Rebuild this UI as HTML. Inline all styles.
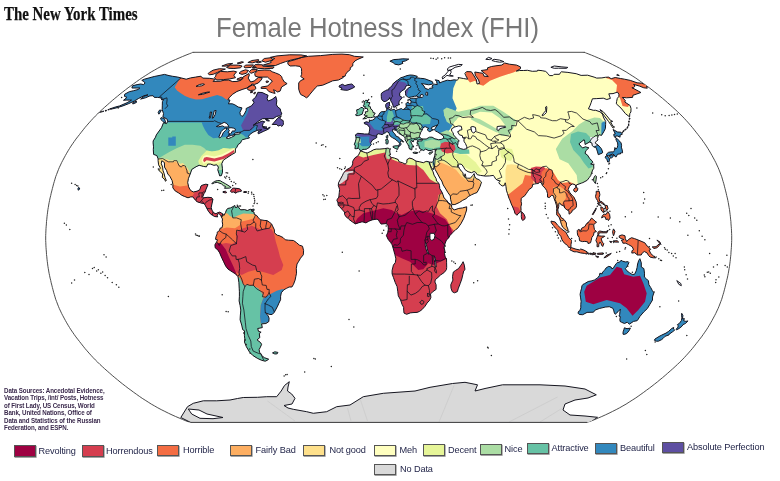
<!DOCTYPE html>
<html lang="en"><head><meta charset="utf-8"><title>Female Hotness Index (FHI)</title>
<style>
html,body{margin:0;padding:0;background:#fff;}
body{width:780px;height:481px;position:relative;overflow:hidden;font-family:"Liberation Sans",sans-serif;}
#logo{position:absolute;left:4px;top:3px;font-family:"Liberation Serif",serif;font-weight:bold;font-size:19.5px;color:#111;white-space:nowrap;line-height:22px;transform-origin:0 0;transform:scaleX(0.765);-webkit-text-stroke:0.25px #111;}
#title{position:absolute;left:215.5px;top:9.8px;font-size:27.6px;line-height:36px;color:#787878;white-space:nowrap;letter-spacing:0;transform-origin:0 0;transform:scaleX(0.932);}
#src{position:absolute;left:4px;top:386.5px;font-size:7.3px;line-height:7.5px;font-weight:bold;color:#3b2a4d;white-space:nowrap;letter-spacing:-0.12px;transform-origin:0 0;transform:scaleX(0.85);}
.lg{position:absolute;font-size:9.2px;line-height:12px;color:#23264a;white-space:nowrap;letter-spacing:-0.12px;}
.sw{position:absolute;width:20px;height:9.5px;border:1px solid #555;box-shadow:0.6px 0.8px 0 #8a8a8a;}
svg{position:absolute;left:0;top:0;}
</style></head><body>
<div id="logo">The New York Times</div>
<div id="title">Female Hotness Index (FHI)</div>
<svg width="780" height="481" viewBox="0 0 780 481">
<defs>
<clipPath id="globe"><path d="M201.1,49.5 L198.4,50.4 L195.5,51.4 L192.4,52.5 L189.3,53.8 L186.0,55.1 L182.6,56.5 L179.1,58.0 L175.6,59.5 L172.0,61.1 L168.4,62.8 L164.8,64.6 L161.2,66.4 L157.8,68.2 L154.5,70.1 L151.3,71.9 L148.2,73.9 L145.2,75.8 L142.2,77.7 L139.3,79.7 L136.5,81.7 L133.7,83.7 L130.9,85.8 L128.1,87.8 L125.4,89.9 L122.7,92.0 L120.0,94.1 L117.4,96.3 L114.8,98.4 L112.2,100.6 L109.7,102.8 L107.2,105.0 L104.7,107.2 L102.3,109.4 L99.9,111.6 L97.6,113.9 L95.3,116.1 L93.1,118.4 L91.0,120.7 L89.0,122.9 L87.0,125.2 L85.0,127.5 L83.2,129.8 L81.3,132.2 L79.5,134.5 L77.7,136.8 L75.9,139.1 L74.2,141.5 L72.6,143.8 L71.0,146.1 L69.5,148.5 L68.1,150.8 L66.7,153.2 L65.4,155.5 L64.1,157.9 L62.8,160.3 L61.6,162.6 L60.5,165.0 L59.4,167.3 L58.4,169.7 L57.5,172.0 L56.6,174.4 L55.7,176.7 L55.0,179.1 L54.3,181.5 L53.6,183.8 L53.0,186.2 L52.4,188.5 L51.8,190.9 L51.2,193.2 L50.7,195.6 L50.1,197.9 L49.6,200.3 L49.1,202.7 L48.7,205.0 L48.3,207.4 L47.9,209.7 L47.6,212.1 L47.3,214.4 L47.0,216.8 L46.8,219.2 L46.5,221.5 L46.4,223.9 L46.2,226.2 L46.0,228.6 L45.9,230.9 L45.8,233.3 L45.7,235.6 L45.7,238.0 L45.7,240.4 L45.8,242.7 L45.9,245.1 L46.0,247.4 L46.2,249.8 L46.4,252.1 L46.5,254.5 L46.8,256.8 L47.0,259.2 L47.3,261.6 L47.6,263.9 L47.9,266.3 L48.3,268.6 L48.7,271.0 L49.1,273.3 L49.6,275.7 L50.1,278.1 L50.7,280.4 L51.2,282.8 L51.8,285.1 L52.4,287.5 L53.0,289.8 L53.6,292.2 L54.3,294.5 L55.0,296.9 L55.7,299.3 L56.6,301.6 L57.5,304.0 L58.4,306.3 L59.4,308.7 L60.5,311.0 L61.6,313.4 L62.8,315.7 L64.1,318.1 L65.4,320.5 L66.7,322.8 L68.1,325.2 L69.5,327.5 L71.0,329.9 L72.6,332.2 L74.2,334.5 L75.9,336.9 L77.7,339.2 L79.5,341.5 L81.3,343.8 L83.2,346.2 L85.0,348.5 L87.0,350.8 L89.0,353.1 L91.0,355.3 L93.1,357.6 L95.3,359.9 L97.6,362.1 L99.9,364.4 L102.3,366.6 L104.7,368.8 L107.2,371.0 L109.7,373.2 L112.2,375.4 L114.8,377.6 L117.4,379.7 L120.0,381.9 L122.7,384.0 L125.4,386.1 L128.1,388.2 L130.9,390.2 L133.7,392.3 L136.5,394.3 L139.3,396.3 L142.2,398.3 L145.2,400.2 L148.2,402.1 L151.3,404.1 L154.5,405.9 L157.8,407.8 L161.2,409.6 L164.8,411.4 L168.4,413.2 L172.0,414.9 L175.6,416.5 L179.1,418.0 L182.6,419.5 L186.0,420.9 L189.3,422.2 L192.4,423.5 L195.5,424.6 L198.4,425.6 L201.1,426.5 L576.3,426.5 L579.0,425.6 L581.9,424.6 L585.0,423.5 L588.1,422.2 L591.4,420.9 L594.8,419.5 L598.3,418.0 L601.8,416.5 L605.4,414.9 L609.0,413.2 L612.6,411.4 L616.2,409.6 L619.6,407.8 L622.9,405.9 L626.1,404.1 L629.2,402.1 L632.2,400.2 L635.2,398.3 L638.1,396.3 L640.9,394.3 L643.7,392.3 L646.5,390.2 L649.3,388.2 L652.0,386.1 L654.7,384.0 L657.4,381.9 L660.0,379.7 L662.6,377.6 L665.2,375.4 L667.7,373.2 L670.2,371.0 L672.7,368.8 L675.1,366.6 L677.5,364.4 L679.8,362.1 L682.1,359.9 L684.3,357.6 L686.4,355.3 L688.4,353.1 L690.4,350.8 L692.4,348.5 L694.2,346.2 L696.1,343.8 L697.9,341.5 L699.7,339.2 L701.5,336.9 L703.2,334.5 L704.8,332.2 L706.4,329.9 L707.9,327.5 L709.3,325.2 L710.7,322.8 L712.0,320.5 L713.3,318.1 L714.6,315.7 L715.8,313.4 L716.9,311.0 L718.0,308.7 L719.0,306.3 L719.9,304.0 L720.8,301.6 L721.7,299.3 L722.4,296.9 L723.1,294.5 L723.8,292.2 L724.4,289.8 L725.0,287.5 L725.6,285.1 L726.2,282.8 L726.7,280.4 L727.3,278.1 L727.8,275.7 L728.3,273.3 L728.7,271.0 L729.1,268.6 L729.5,266.3 L729.8,263.9 L730.1,261.6 L730.4,259.2 L730.6,256.8 L730.9,254.5 L731.0,252.1 L731.2,249.8 L731.4,247.4 L731.5,245.1 L731.6,242.7 L731.7,240.4 L731.7,238.0 L731.7,235.6 L731.6,233.3 L731.5,230.9 L731.4,228.6 L731.2,226.2 L731.0,223.9 L730.9,221.5 L730.6,219.2 L730.4,216.8 L730.1,214.4 L729.8,212.1 L729.5,209.7 L729.1,207.4 L728.7,205.0 L728.3,202.7 L727.8,200.3 L727.3,197.9 L726.7,195.6 L726.2,193.2 L725.6,190.9 L725.0,188.5 L724.4,186.2 L723.8,183.8 L723.1,181.5 L722.4,179.1 L721.7,176.7 L720.8,174.4 L719.9,172.0 L719.0,169.7 L718.0,167.3 L716.9,165.0 L715.8,162.6 L714.6,160.3 L713.3,157.9 L712.0,155.5 L710.7,153.2 L709.3,150.8 L707.9,148.5 L706.4,146.1 L704.8,143.8 L703.2,141.5 L701.5,139.1 L699.7,136.8 L697.9,134.5 L696.1,132.2 L694.2,129.8 L692.4,127.5 L690.4,125.2 L688.4,122.9 L686.4,120.7 L684.3,118.4 L682.1,116.1 L679.8,113.9 L677.5,111.6 L675.1,109.4 L672.7,107.2 L670.2,105.0 L667.7,102.8 L665.2,100.6 L662.6,98.4 L660.0,96.3 L657.4,94.1 L654.7,92.0 L652.0,89.9 L649.3,87.8 L646.5,85.8 L643.7,83.7 L640.9,81.7 L638.1,79.7 L635.2,77.7 L632.2,75.8 L629.2,73.9 L626.1,71.9 L622.9,70.1 L619.6,68.2 L616.2,66.4 L612.6,64.6 L609.0,62.8 L605.4,61.1 L601.8,59.5 L598.3,58.0 L594.8,56.5 L591.4,55.1 L588.1,53.8 L585.0,52.5 L581.9,51.4 L579.0,50.4 L576.3,49.5Z"/></clipPath>
<clipPath id="crop"><rect x="0" y="52.3" width="780" height="370.1"/></clipPath>
<clipPath id="cl-na"><path d="M141.8,80.4 L144.3,79.2 L154.2,76.5 L164.5,74.4 L169.0,75.6 L172.7,76.3 L177.8,77.1 L181.0,77.9 L186.2,79.2 L190.6,77.9 L195.6,77.1 L200.9,76.2 L202.7,78.1 L209.4,78.3 L215.3,79.2 L213.1,81.4 L220.4,81.2 L224.1,80.2 L228.5,80.0 L232.6,81.6 L237.0,81.4 L240.7,80.4 L242.9,77.1 L248.9,73.5 L249.3,75.2 L248.2,78.1 L249.4,80.0 L250.6,82.0 L254.2,81.0 L258.3,77.5 L262.3,77.7 L261.2,80.0 L258.3,83.0 L254.5,84.4 L251.9,84.0 L250.5,86.0 L246.8,88.0 L242.1,89.5 L236.9,91.5 L232.7,94.2 L229.4,97.4 L227.9,99.9 L230.0,100.1 L228.4,103.8 L232.3,103.8 L234.8,104.8 L238.2,107.0 L242.0,107.9 L239.9,112.5 L240.4,114.7 L242.0,116.5 L244.0,114.7 L246.2,110.3 L246.1,108.5 L251.4,105.9 L254.0,102.7 L252.5,99.9 L255.5,97.4 L257.9,92.3 L262.2,92.5 L265.7,94.2 L268.1,95.3 L267.1,98.4 L268.1,101.0 L272.0,99.5 L275.8,96.5 L276.8,100.5 L276.4,104.8 L277.8,107.0 L280.2,108.8 L280.8,111.4 L281.9,114.0 L279.6,115.8 L276.4,116.5 L273.1,118.7 L268.2,118.5 L262.4,118.7 L257.9,121.6 L253.1,125.4 L256.3,123.6 L262.2,121.1 L264.8,121.8 L263.0,123.6 L262.5,125.9 L263.2,127.7 L267.2,128.6 L270.2,127.0 L268.7,129.0 L263.7,131.3 L258.3,133.8 L258.0,132.0 L261.7,129.7 L257.2,130.4 L253.1,132.2 L249.8,134.5 L248.5,136.5 L249.5,137.9 L246.6,138.6 L242.4,139.7 L241.6,140.6 L240.5,142.9 L238.2,144.5 L236.7,147.5 L235.4,148.9 L235.3,152.6 L232.1,154.4 L229.9,155.8 L226.7,157.9 L223.3,160.2 L221.8,163.7 L222.4,168.3 L222.5,172.2 L221.4,175.6 L219.7,175.9 L219.0,173.6 L217.8,169.9 L218.4,167.1 L216.7,164.8 L213.9,165.3 L210.5,164.1 L207.8,164.1 L206.4,166.9 L203.5,166.4 L199.2,165.3 L196.1,166.7 L191.8,169.4 L190.2,174.0 L188.4,178.6 L187.7,182.6 L188.6,186.7 L190.0,189.7 L191.7,191.1 L193.5,192.0 L197.3,191.1 L199.8,189.7 L201.0,186.0 L201.9,185.3 L205.8,184.2 L208.0,184.6 L206.1,189.0 L205.1,192.0 L204.0,193.6 L202.6,197.1 L203.6,197.8 L207.8,197.3 L211.6,197.6 L212.9,199.4 L211.9,204.0 L211.2,207.5 L212.0,210.2 L213.7,212.8 L215.9,213.7 L218.1,212.6 L219.8,212.1 L222.8,213.9 L221.6,217.4 L220.6,215.1 L218.8,213.5 L217.0,215.1 L217.7,216.9 L214.5,216.5 L212.2,215.1 L210.8,214.2 L208.5,211.4 L207.1,208.9 L205.2,205.2 L204.2,203.6 L200.6,202.9 L197.0,201.7 L195.6,200.3 L192.8,196.9 L190.6,196.9 L188.0,197.8 L184.4,196.4 L181.9,195.3 L178.3,192.7 L175.4,191.1 L172.9,187.9 L172.9,184.4 L172.1,180.5 L169.9,176.3 L167.8,174.0 L166.6,170.6 L164.5,167.1 L164.4,162.5 L161.8,160.7 L161.3,163.7 L162.6,167.1 L163.0,170.6 L164.1,173.6 L165.0,177.5 L166.3,180.5 L165.3,181.2 L165.0,179.8 L162.3,177.3 L162.6,174.0 L160.0,171.3 L158.5,169.9 L160.5,168.3 L158.6,164.8 L158.1,160.7 L158.1,158.8 L156.9,155.6 L153.6,154.4 L153.3,149.6 L153.5,146.8 L153.1,142.9 L153.2,140.9 L155.5,137.2 L156.3,134.9 L161.5,127.7 L163.5,122.7 L166.6,123.6 L167.6,121.4 L167.1,119.1 L162.9,116.9 L163.5,113.6 L162.2,109.6 L162.3,105.9 L162.4,101.6 L163.7,99.5 L161.7,99.9 L160.8,97.8 L157.4,97.4 L154.3,97.4 L153.1,95.7 L149.9,95.9 L145.5,97.8 L140.6,99.1 L144.1,96.3 L148.0,94.8 L144.0,95.7 L138.7,98.4 L134.4,101.0 L128.3,103.8 L122.9,105.9 L117.1,107.7 L112.7,108.8 L109.6,109.0 L115.4,107.0 L119.7,105.9 L127.1,102.7 L131.5,100.1 L129.2,100.1 L126.1,100.1 L123.5,100.3 L127.0,97.4 L124.4,96.3 L124.7,94.2 L129.3,91.7 L133.6,90.7 L138.0,89.5 L139.9,88.0 L136.9,88.0 L131.9,88.0 L132.5,85.8 L137.1,84.6 L140.8,84.0 L143.6,84.6 L145.0,83.0 L144.1,81.6Z"/></clipPath>
<clipPath id="cl-greenland"><path d="M287.9,61.7 L296.4,59.3 L301.7,57.4 L308.6,56.3 L320.6,55.6 L332.8,54.4 L341.9,54.1 L349.4,54.7 L354.4,56.3 L363.3,57.0 L357.9,59.3 L355.0,60.9 L352.9,63.4 L352.7,66.0 L350.2,67.8 L350.3,69.6 L346.9,72.4 L345.7,74.3 L345.1,76.2 L342.3,76.7 L343.4,77.5 L338.5,80.0 L332.7,80.8 L327.8,83.0 L322.7,85.2 L317.4,86.0 L315.2,88.0 L312.6,91.1 L310.0,94.2 L307.9,96.9 L306.4,97.8 L304.0,96.1 L300.8,94.6 L299.6,92.1 L298.7,89.0 L298.7,86.0 L298.7,83.0 L300.6,80.6 L304.2,79.0 L300.7,76.5 L301.7,74.3 L301.6,71.4 L301.5,68.7 L300.0,66.4 L295.3,65.8 L290.1,66.0 L287.9,64.2Z"/></clipPath>
<clipPath id="cl-baffin"><path d="M287.1,83.6 L281.6,87.0 L280.1,91.1 L277.3,92.1 L276.4,91.1 L273.5,89.7 L275.1,93.4 L272.5,92.8 L268.8,91.5 L266.2,88.4 L261.1,88.4 L261.3,87.0 L267.7,86.0 L269.7,84.0 L272.4,81.0 L269.6,79.0 L267.5,77.1 L262.7,77.1 L258.6,77.1 L255.3,76.2 L254.7,73.7 L257.7,70.5 L264.7,70.0 L269.8,70.2 L272.3,71.8 L275.4,72.9 L279.5,74.6 L281.6,76.5 L282.3,78.7 L284.4,82.0Z"/></clipPath>
<clipPath id="cl-victoria"><path d="M214.4,77.5 L216.6,80.0 L223.3,79.6 L229.4,79.0 L235.5,77.7 L233.8,75.2 L236.6,71.8 L233.5,71.1 L227.4,71.8 L220.5,71.4 L215.9,74.3 L215.8,76.2Z"/></clipPath>
<clipPath id="cl-banks"><path d="M208.1,73.5 L209.2,74.8 L213.2,74.3 L217.4,72.4 L222.1,70.2 L225.4,69.1 L219.4,68.7 L213.0,70.2 L209.5,72.4Z"/></clipPath>
<clipPath id="cl-ellesmere"><path d="M263.3,65.1 L275.3,65.6 L280.7,63.4 L285.5,61.7 L290.8,60.1 L299.9,58.0 L306.7,55.9 L300.9,54.9 L289.8,54.8 L277.0,55.9 L270.5,57.3 L274.8,58.5 L270.7,60.9 L271.2,62.5Z"/></clipPath>
<clipPath id="cl-devon"><path d="M255.2,64.6 L262.5,64.8 L262.8,66.2 L274.1,66.9 L273.1,68.3 L264.7,68.7 L257.3,68.3 L253.1,66.9Z"/></clipPath>
<clipPath id="cl-axel"><path d="M264.3,58.5 L271.1,57.7 L272.9,60.1 L265.5,62.2 L261.7,60.9Z"/></clipPath>
<clipPath id="cl-melville"><path d="M226.5,67.3 L230.7,65.1 L238.2,65.1 L242.1,66.0 L240.5,67.8 L233.9,68.5 L228.9,68.3Z"/></clipPath>
<clipPath id="cl-pow"><path d="M241.0,71.4 L245.4,69.8 L248.5,70.5 L246.4,73.3 L242.0,74.4 L239.0,73.3Z"/></clipPath>
<clipPath id="cl-somerset"><path d="M251.4,69.6 L257.3,69.6 L256.1,71.4 L251.1,73.3 L249.2,71.8Z"/></clipPath>
<clipPath id="cl-bathurst"><path d="M245.8,65.1 L253.5,64.9 L251.2,67.4 L245.0,67.8 L243.8,66.7Z"/></clipPath>
<clipPath id="cl-kingwilliam"><path d="M237.0,79.0 L241.3,77.3 L243.2,78.3 L241.2,79.8 L237.5,80.0Z"/></clipPath>
<clipPath id="cl-southampton"><path d="M248.7,86.4 L252.6,85.0 L254.9,85.8 L256.0,88.4 L254.2,90.1 L250.2,90.5 L247.8,89.7 L247.2,88.4Z"/></clipPath>
<clipPath id="cl-newfoundland"><path d="M272.2,124.5 L274.4,122.0 L277.8,118.0 L281.4,115.8 L279.9,118.0 L280.6,119.3 L283.1,120.5 L283.4,122.5 L283.3,124.7 L281.7,126.5 L280.6,125.2 L278.1,126.1 L276.9,124.5Z"/></clipPath>
<clipPath id="cl-vancouver"><path d="M161.1,117.6 L164.3,118.5 L165.0,120.2 L165.7,122.7 L163.8,122.3 L162.0,120.5 L160.5,119.1Z"/></clipPath>
<clipPath id="cl-haida"><path d="M159.5,110.1 L161.4,110.3 L158.9,114.2 L158.2,112.5Z"/></clipPath>
<clipPath id="cl-kodiak"><path d="M132.8,102.5 L136.5,101.2 L136.4,102.5 L132.8,104.0Z"/></clipPath>
<clipPath id="cl-cuba"><path d="M211.7,183.5 L214.6,181.4 L217.5,180.5 L220.2,180.7 L222.8,182.3 L225.4,183.7 L228.0,185.3 L231.2,187.4 L229.6,188.1 L224.5,188.3 L225.7,186.5 L223.3,185.6 L221.7,184.0 L219.0,183.0 L217.2,182.3 L214.4,182.8 L212.8,183.7Z"/></clipPath>
<clipPath id="cl-hispaniola"><path d="M230.4,191.1 L232.6,188.3 L233.7,188.1 L235.7,188.3 L238.9,188.6 L240.7,189.5 L241.6,191.1 L239.5,191.6 L237.6,192.0 L235.4,193.2 L233.8,192.0 L231.4,192.3Z"/></clipPath>
<clipPath id="cl-jamaica"><path d="M223.0,191.6 L225.5,191.3 L226.8,192.5 L225.3,192.9 L222.9,192.3Z"/></clipPath>
<clipPath id="cl-puertorico"><path d="M243.8,191.6 L246.6,191.6 L246.5,192.5 L243.7,192.5Z"/></clipPath>
<clipPath id="cl-princepatrick"><path d="M221.9,66.0 L227.5,63.9 L232.6,63.4 L228.3,65.5 L224.8,66.2Z"/></clipPath>
<clipPath id="cl-ellef"><path d="M247.9,62.5 L251.9,60.5 L258.6,59.6 L258.2,61.2 L252.4,62.9Z"/></clipPath>
<clipPath id="cl-amund"><path d="M256.5,62.5 L260.1,61.2 L261.4,62.0 L258.5,62.9Z"/></clipPath>
<clipPath id="cl-cornwallis"><path d="M252.1,67.8 L255.2,66.7 L256.3,67.4 L254.1,68.3Z"/></clipPath>
<clipPath id="cl-mackenzieking"><path d="M237.2,63.2 L241.8,61.7 L243.5,62.2 L239.8,63.6Z"/></clipPath>
<clipPath id="cl-coats"><path d="M250.7,91.5 L252.6,91.3 L252.7,92.3 L250.5,92.8Z"/></clipPath>
<clipPath id="cl-mansel"><path d="M254.5,92.3 L255.6,92.3 L254.7,94.0 L253.7,93.8Z"/></clipPath>
<clipPath id="cl-anticosti"><path d="M265.4,119.3 L268.5,119.8 L269.4,121.1 L266.6,120.7Z"/></clipPath>
<clipPath id="cl-pei"><path d="M263.0,126.5 L265.2,126.8 L266.9,127.0 L265.6,128.1 L263.5,127.9Z"/></clipPath>
<clipPath id="cl-princecharles"><path d="M266.0,81.2 L268.2,81.0 L268.5,82.0 L266.4,82.6Z"/></clipPath>
<clipPath id="cl-sa"><path d="M222.8,213.9 L223.8,215.5 L225.5,212.6 L226.6,209.6 L228.0,208.4 L230.5,207.9 L233.1,206.6 L234.8,205.4 L235.3,207.5 L237.2,207.2 L237.6,205.9 L239.9,209.1 L240.8,209.8 L244.6,209.6 L247.4,210.5 L250.3,209.3 L252.2,209.6 L251.2,210.9 L254.0,212.1 L254.3,214.4 L256.7,215.5 L258.5,217.9 L260.3,219.7 L264.1,220.4 L267.0,220.6 L269.8,222.5 L271.6,223.9 L272.5,225.9 L274.4,229.8 L274.4,232.8 L277.2,235.2 L279.1,235.6 L283.0,237.5 L285.3,239.8 L288.7,240.2 L293.5,240.5 L296.4,242.5 L299.3,245.1 L302.5,246.2 L303.6,250.6 L303.3,254.8 L300.5,258.2 L298.8,261.2 L297.0,264.0 L296.3,268.6 L296.5,273.2 L295.8,276.7 L295.1,280.1 L293.5,284.3 L291.9,287.0 L289.1,287.0 L286.4,288.4 L283.8,289.8 L281.3,292.8 L280.6,296.3 L280.6,299.7 L278.9,303.2 L277.6,306.2 L275.5,310.1 L274.2,312.4 L272.1,314.5 L269.7,314.5 L266.2,313.1 L265.3,312.4 L268.2,315.9 L269.1,318.2 L268.8,321.6 L265.9,323.5 L261.6,323.9 L262.3,327.6 L257.7,328.5 L258.5,331.3 L261.1,332.2 L259.3,333.5 L259.8,337.6 L257.1,339.9 L260.6,342.6 L261.6,344.4 L260.1,347.8 L259.1,349.5 L259.5,352.2 L261.3,354.2 L261.7,355.5 L264.4,357.7 L268.7,359.2 L267.2,360.3 L265.2,361.2 L261.6,360.3 L257.5,358.4 L252.9,355.5 L249.6,352.2 L246.3,346.6 L244.5,342.1 L244.8,338.8 L244.4,335.4 L244.5,330.8 L242.7,329.7 L241.7,325.1 L240.1,319.8 L240.3,315.9 L240.8,310.1 L240.1,305.5 L239.1,300.9 L239.4,296.3 L239.4,291.7 L239.2,288.2 L238.9,282.4 L238.0,276.7 L235.5,273.9 L232.5,272.1 L228.0,269.1 L225.7,266.1 L223.6,261.7 L221.4,257.1 L219.7,252.9 L217.8,249.9 L215.2,247.8 L214.9,244.8 L216.7,241.8 L217.5,239.8 L215.5,239.3 L216.1,236.3 L217.2,233.8 L217.2,232.2 L219.5,230.5 L220.1,228.2 L222.0,227.8 L222.7,224.8 L222.2,221.3 L222.5,219.0 L221.6,217.4Z"/></clipPath>
<clipPath id="cl-falklands"><path d="M272.5,352.9 L274.8,351.8 L277.9,352.4 L277.2,353.8 L274.9,354.0Z"/></clipPath>
<clipPath id="cl-trinidad"><path d="M252.4,209.3 L254.1,209.1 L254.0,210.7 L252.3,210.7Z"/></clipPath>
<clipPath id="cl-africa"><path d="M360.2,151.4 L361.3,151.2 L365.4,152.6 L367.2,153.0 L370.8,151.4 L373.5,149.8 L376.2,149.1 L379.8,149.1 L384.2,148.7 L388.3,148.0 L389.2,149.1 L390.5,148.7 L389.8,150.1 L389.8,152.1 L390.5,154.9 L388.9,155.1 L390.0,156.5 L391.4,157.4 L394.5,158.1 L398.1,159.5 L399.1,161.8 L402.4,162.7 L405.1,164.1 L406.9,162.5 L406.9,159.7 L409.5,158.1 L412.3,158.8 L416.0,161.1 L419.7,161.8 L423.4,162.7 L425.1,161.8 L426.9,161.3 L429.3,162.0 L430.0,164.8 L431.4,168.7 L433.0,171.7 L434.1,175.2 L436.1,178.6 L436.5,181.0 L438.9,183.3 L439.5,185.6 L439.8,188.6 L442.2,192.5 L444.1,198.0 L446.3,199.9 L448.6,202.9 L451.3,204.7 L451.8,207.5 L454.1,210.0 L458.8,208.4 L462.6,207.9 L466.7,206.8 L466.6,210.0 L465.6,213.2 L463.8,218.3 L461.0,223.6 L457.3,228.7 L455.9,229.4 L452.5,232.8 L449.7,235.8 L448.7,237.9 L446.4,240.0 L445.2,243.2 L443.9,247.8 L444.8,250.1 L444.5,253.6 L445.2,257.1 L446.5,258.4 L446.6,262.8 L446.7,267.4 L446.4,269.7 L444.2,272.5 L440.4,275.1 L438.0,277.4 L435.3,279.7 L434.9,282.0 L436.1,284.7 L436.1,289.4 L432.3,292.1 L430.5,294.0 L430.9,297.4 L429.6,300.4 L427.1,303.0 L425.1,306.2 L421.9,309.7 L419.4,311.5 L417.0,312.4 L413.0,312.6 L410.3,312.9 L406.7,314.3 L404.0,313.1 L403.7,310.1 L403.6,307.3 L402.0,304.3 L400.6,300.0 L398.3,295.8 L397.8,291.7 L397.1,286.6 L395.2,282.4 L393.4,277.4 L392.1,273.9 L392.1,270.4 L393.4,265.1 L395.3,262.6 L395.9,258.9 L394.8,254.3 L393.1,248.1 L392.1,244.8 L390.6,242.5 L388.1,239.3 L386.4,235.6 L387.7,232.8 L388.3,229.4 L388.1,225.9 L387.7,224.8 L386.0,223.6 L383.0,223.9 L381.1,224.1 L379.2,221.3 L378.2,219.5 L376.2,219.2 L372.0,219.9 L368.7,221.3 L365.9,222.9 L363.6,222.2 L362.1,221.8 L358.3,222.9 L355.4,223.9 L352.5,222.0 L349.1,219.5 L347.8,218.1 L345.9,216.7 L344.6,214.4 L344.5,212.1 L343.2,210.7 L341.3,208.6 L339.8,206.8 L338.2,205.4 L338.0,202.9 L336.8,200.1 L338.8,197.1 L339.3,192.5 L339.6,189.5 L339.1,187.9 L338.3,185.6 L338.5,182.8 L340.4,179.3 L342.6,175.2 L343.4,173.3 L345.6,170.6 L346.5,169.7 L349.2,168.3 L351.7,166.4 L352.7,163.9 L352.7,161.3 L354.8,157.9 L356.9,156.5 L358.4,155.4 L359.6,152.8Z"/></clipPath>
<clipPath id="cl-madagascar"><path d="M463.1,261.7 L464.3,265.1 L465.0,269.7 L463.7,270.9 L462.9,274.4 L461.8,279.0 L460.2,283.6 L458.4,288.2 L457.3,291.7 L454.4,292.8 L452.3,291.7 L451.0,288.2 L450.8,284.7 L452.9,280.1 L452.5,276.7 L453.3,272.1 L455.6,270.4 L458.5,268.6 L460.5,265.8 L462.1,263.5Z"/></clipPath>
<clipPath id="cl-srilanka"><path d="M521.1,211.6 L522.1,212.1 L524.1,214.4 L525.2,217.2 L524.7,219.2 L522.8,220.4 L521.8,219.5 L521.3,216.7 L521.4,214.2Z"/></clipPath>
<clipPath id="cl-eurasia"><path d="M410.1,75.0 L413.1,75.2 L417.3,76.3 L416.2,77.7 L420.4,78.3 L424.6,78.7 L432.3,81.6 L433.1,83.4 L432.9,84.0 L428.8,84.8 L424.3,84.0 L421.4,83.6 L424.0,86.0 L425.0,88.2 L428.3,89.5 L429.5,88.4 L433.0,87.8 L431.9,86.0 L434.3,84.2 L437.3,84.6 L436.5,81.4 L435.3,79.8 L439.0,80.6 L439.7,83.0 L442.2,81.8 L447.3,80.2 L450.2,80.6 L454.1,79.8 L457.1,80.2 L458.6,78.9 L458.0,77.5 L463.3,78.5 L467.5,79.2 L467.2,78.1 L465.7,75.6 L464.9,73.3 L466.6,71.6 L471.4,71.8 L473.1,74.3 L476.5,80.0 L477.0,84.0 L479.6,83.4 L478.6,80.0 L475.3,75.2 L474.8,72.0 L479.2,72.7 L482.9,73.3 L484.0,76.2 L488.3,76.5 L485.3,73.9 L481.1,70.5 L487.6,69.6 L487.5,67.8 L491.5,66.5 L495.9,65.8 L501.6,65.1 L504.7,63.0 L509.4,64.2 L516.6,65.1 L520.5,66.9 L520.5,68.7 L516.3,71.1 L519.7,70.5 L523.7,70.5 L527.4,70.3 L532.3,71.3 L537.4,71.1 L537.7,70.2 L542.2,70.7 L545.7,71.4 L548.1,73.7 L549.4,75.6 L552.8,75.6 L554.1,74.3 L559.5,74.3 L560.6,72.4 L561.3,71.8 L567.9,72.4 L576.2,73.7 L581.1,75.4 L587.6,75.2 L594.1,77.1 L596.7,78.1 L601.9,77.9 L605.3,77.3 L608.5,77.1 L611.2,78.7 L615.2,77.5 L620.6,78.5 L624.5,79.2 L630.3,80.4 L637.1,82.8 L641.6,83.2 L646.7,84.8 L646.5,86.0 L647.3,88.2 L643.8,87.8 L639.3,86.0 L633.6,84.4 L634.9,86.0 L634.5,86.8 L633.2,88.0 L631.9,87.6 L638.4,91.1 L640.9,92.5 L636.2,94.2 L632.9,95.3 L632.6,97.4 L626.5,97.8 L622.3,97.4 L625.3,100.5 L624.8,102.0 L629.0,104.8 L630.1,105.5 L631.0,108.5 L630.9,112.0 L629.8,113.6 L629.6,116.9 L625.4,113.6 L621.0,108.1 L616.3,103.8 L616.6,101.6 L617.3,98.4 L618.9,96.3 L618.9,94.2 L617.4,92.1 L613.0,93.6 L608.8,93.8 L610.4,98.4 L606.8,99.5 L603.3,98.2 L596.8,98.6 L592.4,98.8 L591.1,102.7 L589.9,105.9 L588.4,108.8 L593.3,110.3 L595.7,110.3 L600.1,111.8 L602.4,114.2 L603.8,118.0 L605.7,121.4 L605.6,124.7 L605.4,128.6 L603.8,131.7 L601.5,135.4 L599.2,134.7 L598.1,136.5 L597.4,138.6 L598.0,139.9 L595.3,142.2 L595.7,143.6 L598.1,145.0 L601.4,148.7 L602.7,152.1 L602.4,153.0 L600.0,154.0 L598.3,154.7 L597.5,151.9 L596.6,149.1 L595.8,147.3 L593.8,147.1 L592.1,145.2 L592.0,143.2 L589.7,142.0 L587.0,143.4 L585.1,144.5 L584.7,141.1 L584.1,139.7 L581.1,142.0 L578.9,143.8 L580.7,146.1 L582.6,148.0 L585.4,146.8 L588.9,147.8 L586.8,149.8 L585.9,150.7 L585.0,153.3 L587.5,155.1 L589.7,158.6 L592.3,161.1 L592.8,162.7 L590.6,163.9 L593.7,165.0 L593.8,168.3 L592.6,170.1 L591.5,173.3 L590.7,175.6 L589.3,177.5 L587.2,180.3 L582.9,182.6 L581.7,183.0 L579.0,184.0 L576.4,184.9 L576.1,187.2 L575.0,184.6 L572.5,184.0 L570.8,184.9 L569.5,186.3 L568.2,189.5 L570.0,192.9 L572.6,195.9 L573.9,197.1 L576.1,201.7 L576.6,205.2 L576.2,207.5 L573.6,209.8 L572.3,210.2 L571.8,212.1 L569.1,214.2 L568.9,210.9 L566.9,209.8 L564.9,208.2 L563.8,205.9 L560.9,204.7 L559.8,202.9 L558.9,203.3 L558.7,206.8 L557.8,209.8 L558.2,212.8 L560.0,214.6 L560.9,217.4 L563.2,218.8 L564.6,220.2 L566.4,222.9 L566.5,225.9 L567.8,228.9 L568.2,230.8 L566.7,230.8 L564.3,228.7 L562.6,227.1 L561.4,224.3 L560.5,221.3 L559.8,219.0 L558.8,216.7 L556.8,215.1 L556.6,211.4 L556.8,208.6 L556.4,205.2 L555.3,201.7 L554.0,198.3 L553.6,195.9 L551.5,195.3 L549.4,197.6 L547.5,197.1 L547.5,193.6 L546.6,190.4 L545.0,188.1 L542.5,185.6 L541.2,182.6 L539.3,182.1 L538.5,183.5 L536.1,183.7 L534.6,184.0 L532.5,184.6 L532.3,186.7 L531.3,188.1 L529.2,189.3 L527.6,191.6 L526.4,193.4 L524.8,195.7 L522.8,197.1 L521.2,198.3 L521.1,201.7 L521.6,203.8 L520.9,206.8 L521.1,210.2 L519.7,212.6 L518.2,213.7 L516.9,215.3 L514.9,213.2 L514.3,210.9 L512.7,207.0 L511.3,204.0 L509.8,199.9 L509.0,198.3 L507.5,193.6 L506.4,190.2 L506.0,186.7 L505.6,184.4 L505.2,182.8 L504.5,185.3 L502.7,186.0 L500.8,185.1 L498.7,182.6 L500.4,181.0 L497.5,180.3 L495.6,178.9 L494.4,176.8 L493.4,175.4 L489.7,175.9 L485.1,176.1 L484.1,175.9 L480.4,175.4 L477.2,174.7 L475.5,172.2 L474.1,171.5 L471.5,172.7 L468.0,171.7 L465.1,169.7 L463.6,167.1 L461.9,164.6 L459.8,163.9 L458.2,165.0 L458.4,166.4 L459.5,168.5 L461.2,171.0 L463.0,172.7 L463.2,175.2 L464.4,176.8 L464.9,174.3 L465.1,173.8 L465.8,176.3 L465.4,177.7 L467.6,178.2 L470.4,178.2 L472.6,175.6 L474.1,173.6 L474.7,176.3 L476.0,178.6 L478.9,179.6 L481.5,182.1 L480.0,186.7 L478.3,190.2 L477.0,192.5 L474.2,193.6 L471.5,194.8 L468.2,196.6 L466.0,198.7 L462.7,200.3 L459.6,202.4 L454.9,204.5 L452.1,204.7 L451.5,202.9 L450.6,199.4 L450.3,195.9 L447.9,192.5 L445.8,189.0 L443.2,184.9 L441.8,181.0 L439.8,178.0 L437.7,174.0 L435.1,169.4 L434.3,166.0 L433.4,169.4 L433.3,169.9 L431.5,167.6 L430.1,165.0 L429.3,162.0 L432.1,162.3 L433.3,161.1 L433.7,159.0 L434.0,157.9 L434.7,155.8 L435.2,152.8 L435.2,150.5 L435.4,149.1 L433.3,149.6 L431.6,150.3 L428.9,150.7 L425.6,149.1 L423.6,150.5 L421.2,149.4 L419.5,148.4 L418.8,145.5 L417.2,143.4 L417.1,141.8 L419.4,140.9 L422.0,140.9 L422.4,139.0 L421.0,139.3 L419.3,139.5 L417.6,140.6 L416.7,139.7 L414.0,139.7 L412.9,140.9 L413.8,141.3 L413.3,141.8 L412.0,141.3 L411.3,140.4 L410.8,141.8 L411.6,143.4 L411.7,144.3 L413.5,145.9 L413.6,147.1 L412.1,146.6 L412.0,147.8 L411.9,149.8 L410.8,149.8 L410.3,148.7 L409.6,149.1 L408.8,147.1 L409.1,145.7 L408.2,145.5 L407.8,144.1 L406.6,142.7 L406.1,141.1 L405.1,139.9 L405.1,138.1 L404.7,137.2 L403.4,136.1 L400.8,134.5 L399.0,133.6 L397.6,132.2 L396.4,129.9 L394.8,130.4 L395.0,128.8 L392.6,129.5 L392.8,132.0 L394.7,133.6 L396.0,136.1 L399.1,137.4 L399.2,138.6 L400.9,139.3 L403.6,141.6 L403.3,142.2 L401.0,140.6 L400.3,142.5 L401.2,144.1 L400.2,145.5 L399.3,146.4 L398.7,146.5 L399.1,145.0 L399.5,143.4 L398.5,141.8 L397.3,141.1 L396.2,139.9 L395.0,139.0 L393.1,138.1 L392.5,137.7 L390.4,136.3 L389.6,134.9 L389.0,132.9 L387.8,132.0 L386.8,131.7 L385.3,132.9 L384.1,133.3 L382.1,134.7 L380.6,134.2 L378.4,133.8 L376.8,134.7 L376.7,136.3 L376.9,137.4 L375.1,138.6 L372.6,139.9 L371.1,142.2 L370.6,143.2 L371.4,144.5 L369.9,146.1 L369.5,147.3 L367.7,148.4 L366.8,149.1 L364.6,149.4 L363.0,149.4 L361.3,150.7 L360.1,150.5 L359.5,149.1 L358.4,148.2 L356.6,148.7 L354.9,148.7 L355.4,145.5 L354.2,144.8 L355.3,141.8 L356.1,139.0 L355.9,136.7 L355.4,134.9 L357.7,133.3 L361.1,133.6 L364.6,134.0 L368.0,134.0 L368.9,133.8 L369.3,131.5 L369.8,129.0 L369.7,127.7 L368.1,125.4 L366.9,124.5 L364.5,123.8 L364.1,122.7 L366.2,121.8 L368.7,122.3 L369.5,122.0 L369.3,119.8 L370.1,120.5 L372.3,120.2 L374.7,118.9 L374.9,117.3 L376.4,116.7 L378.2,116.0 L378.9,114.7 L380.1,112.7 L381.3,111.8 L383.9,111.6 L385.6,111.2 L386.5,110.5 L386.9,110.1 L386.6,108.5 L385.8,107.0 L385.7,104.6 L386.5,103.5 L388.5,102.5 L389.6,102.3 L389.3,104.8 L390.1,105.1 L389.0,106.4 L388.2,107.2 L388.1,108.3 L388.7,109.2 L390.3,109.4 L390.3,110.3 L392.2,109.8 L394.3,109.2 L395.6,110.5 L398.3,109.6 L401.5,108.5 L402.5,109.4 L404.1,109.4 L404.6,108.3 L406.2,107.4 L406.2,105.5 L405.9,103.8 L406.8,102.7 L408.3,102.3 L409.3,103.8 L410.8,103.8 L411.0,101.8 L411.1,100.8 L409.5,100.1 L409.4,99.1 L411.2,98.4 L413.1,98.2 L416.2,98.4 L418.4,97.6 L419.5,97.6 L418.3,96.9 L416.7,96.1 L414.4,96.3 L411.5,96.9 L408.5,97.6 L407.2,96.5 L405.7,95.3 L405.6,93.2 L405.3,91.1 L407.0,89.5 L409.0,87.6 L411.0,87.0 L410.3,85.8 L409.1,85.4 L407.4,85.4 L406.0,86.0 L405.4,87.4 L404.8,89.0 L403.8,89.7 L402.0,90.7 L400.6,92.1 L399.7,93.2 L399.7,95.3 L399.6,95.9 L401.6,96.9 L402.3,97.8 L401.1,98.8 L400.3,100.1 L399.1,101.2 L399.0,102.7 L398.7,104.6 L397.8,105.7 L396.1,105.7 L395.5,107.0 L393.5,107.2 L393.1,106.1 L393.0,105.5 L392.6,104.0 L391.7,102.3 L390.6,100.5 L390.4,99.3 L389.6,97.6 L389.2,99.1 L387.9,99.7 L386.4,101.2 L385.6,101.4 L384.0,101.6 L382.1,100.1 L381.4,98.4 L381.3,96.5 L381.2,94.6 L381.5,93.2 L383.5,91.7 L385.5,90.7 L386.9,89.9 L388.7,89.9 L388.7,88.6 L390.6,87.2 L391.9,85.8 L392.7,84.4 L393.7,83.0 L395.0,82.2 L396.1,81.0 L397.8,80.0 L399.1,79.0 L400.9,77.7 L403.1,77.1 L405.1,76.3 L407.0,75.6Z"/></clipPath>
<clipPath id="cl-gb"><path d="M362.8,118.9 L366.4,118.5 L367.3,117.6 L370.6,117.6 L372.7,117.3 L374.6,116.5 L373.6,115.8 L375.2,113.1 L373.0,112.5 L372.8,111.2 L372.3,110.1 L370.8,109.0 L370.3,107.0 L369.5,105.9 L368.2,105.9 L369.1,104.6 L370.0,102.7 L367.7,102.3 L366.6,102.7 L368.3,100.5 L365.6,100.3 L364.2,102.0 L364.2,104.8 L363.2,105.3 L364.1,107.0 L365.3,106.6 L364.8,108.5 L367.2,108.3 L367.8,110.3 L367.7,111.6 L365.3,111.8 L365.6,113.6 L363.9,114.9 L365.5,115.6 L367.4,116.0 L364.9,116.9 L363.6,118.5Z"/></clipPath>
<clipPath id="cl-ireland"><path d="M356.0,115.6 L358.5,115.6 L362.2,114.2 L362.9,111.8 L363.9,109.2 L362.8,107.7 L360.9,107.4 L359.1,109.2 L356.7,109.8 L356.8,111.8 L357.4,113.4 L355.6,114.5Z"/></clipPath>
<clipPath id="cl-iceland"><path d="M339.0,86.0 L342.3,84.2 L344.9,85.6 L348.0,84.6 L351.7,84.0 L353.5,85.4 L354.7,87.0 L352.2,88.4 L347.5,90.3 L343.9,90.1 L340.8,89.5 L342.1,88.0 L339.4,87.2Z"/></clipPath>
<clipPath id="cl-svalbard"><path d="M389.9,61.2 L393.5,59.6 L398.2,59.3 L402.8,58.8 L408.8,59.1 L405.6,60.9 L402.1,61.7 L402.9,63.4 L398.7,64.9 L394.9,64.2 L393.0,62.5Z"/></clipPath>
<clipPath id="cl-novz1"><path d="M442.7,79.0 L442.1,77.1 L445.4,74.8 L447.1,72.4 L449.0,70.5 L450.7,70.0 L451.1,72.4 L449.6,75.2 L453.3,76.0 L450.6,76.2 L446.9,75.4 L445.4,76.7Z"/></clipPath>
<clipPath id="cl-novz2"><path d="M447.7,70.5 L447.5,68.7 L449.8,66.9 L454.2,65.6 L458.5,64.4 L462.3,64.6 L460.7,66.0 L455.1,67.3 L452.2,69.1 L450.7,70.0Z"/></clipPath>
<clipPath id="cl-sevzem"><path d="M491.9,60.5 L494.1,59.3 L499.7,60.1 L504.0,61.7 L499.7,62.2 L495.4,61.5Z"/></clipPath>
<clipPath id="cl-sevzem2"><path d="M485.8,59.3 L488.5,57.4 L492.0,58.5 L489.7,59.6Z"/></clipPath>
<clipPath id="cl-newsib"><path d="M550.9,67.3 L554.2,66.0 L561.9,66.9 L567.8,67.4 L566.5,68.3 L558.5,68.2 L554.3,68.3Z"/></clipPath>
<clipPath id="cl-wrangel"><path d="M616.7,75.2 L617.3,74.3 L619.3,75.6Z"/></clipPath>
<clipPath id="cl-sakhalin"><path d="M600.0,109.6 L603.3,111.8 L606.8,115.8 L610.3,120.2 L612.7,121.4 L610.5,121.8 L612.7,125.9 L614.6,127.0 L613.1,128.1 L610.7,124.7 L608.5,121.4 L605.1,116.9 L601.8,112.5Z"/></clipPath>
<clipPath id="cl-hokkaido"><path d="M613.1,129.5 L617.6,132.0 L620.9,132.2 L622.4,134.2 L620.0,135.2 L620.1,137.2 L617.0,135.8 L615.7,136.1 L615.7,138.3 L614.0,136.1 L613.8,134.2 L615.3,133.8Z"/></clipPath>
<clipPath id="cl-honshu"><path d="M616.8,138.3 L619.0,140.6 L621.1,142.9 L621.6,145.7 L621.3,147.1 L622.2,149.8 L622.6,152.8 L621.7,152.8 L620.6,152.8 L620.4,154.0 L619.3,154.0 L617.7,154.2 L617.1,154.9 L616.4,156.7 L615.1,156.7 L614.2,154.9 L612.6,154.0 L610.3,154.9 L608.8,155.8 L606.9,155.6 L606.4,154.2 L608.4,152.4 L610.9,151.9 L613.6,151.9 L614.3,150.5 L614.7,148.9 L614.9,147.5 L615.7,149.1 L617.2,147.8 L617.8,145.2 L617.6,142.9 L616.4,140.6 L615.9,139.0Z"/></clipPath>
<clipPath id="cl-kyushu"><path d="M607.0,155.8 L609.2,157.9 L609.5,160.2 L609.1,161.8 L607.7,162.0 L607.0,159.7 L605.8,158.3 L605.2,157.2 L606.1,155.8Z"/></clipPath>
<clipPath id="cl-shikoku"><path d="M609.4,155.8 L611.2,154.9 L613.4,155.1 L613.1,156.7 L611.4,157.9 L610.6,158.3Z"/></clipPath>
<clipPath id="cl-taiwan"><path d="M595.3,175.6 L596.4,176.3 L596.1,179.8 L595.4,183.5 L593.9,181.4 L593.5,179.1 L594.5,176.3Z"/></clipPath>
<clipPath id="cl-hainan"><path d="M573.7,189.5 L574.9,187.9 L577.1,187.6 L577.9,188.8 L577.2,190.9 L575.5,192.0 L573.9,191.1Z"/></clipPath>
<clipPath id="cl-sicily"><path d="M393.0,146.4 L394.9,145.9 L398.6,145.7 L398.0,148.2 L397.6,149.4 L395.8,148.7 L393.1,147.3Z"/></clipPath>
<clipPath id="cl-sardinia"><path d="M385.6,139.7 L387.3,139.0 L388.2,140.6 L388.0,143.6 L386.9,144.1 L385.9,143.6 L386.1,141.3Z"/></clipPath>
<clipPath id="cl-corsica"><path d="M386.3,136.3 L387.7,134.9 L387.8,137.2 L387.3,138.6 L386.4,137.9Z"/></clipPath>
<clipPath id="cl-crete"><path d="M412.9,152.6 L414.7,152.1 L417.9,152.6 L417.4,153.3 L414.8,153.5 L412.9,152.8Z"/></clipPath>
<clipPath id="cl-cyprus"><path d="M428.8,153.3 L429.9,152.4 L432.8,151.7 L431.6,153.3 L430.1,154.2 L429.0,154.0Z"/></clipPath>
<clipPath id="cl-sumatra"><path d="M551.0,221.1 L555.2,222.0 L557.6,225.2 L560.7,228.2 L563.0,230.1 L565.9,232.2 L567.2,234.7 L568.7,237.5 L571.5,240.5 L571.5,241.6 L571.0,244.4 L570.9,247.4 L568.6,247.4 L567.6,245.5 L564.4,243.2 L562.0,239.8 L560.8,236.3 L558.3,233.3 L557.7,230.1 L555.4,228.2 L553.4,225.5 L551.4,222.9Z"/></clipPath>
<clipPath id="cl-java"><path d="M569.7,249.7 L571.3,247.6 L572.8,248.1 L576.0,249.2 L579.7,249.9 L580.7,249.0 L583.9,250.1 L587.1,251.8 L587.1,254.1 L584.3,253.4 L580.5,252.9 L576.8,251.8 L574.0,251.8 L571.9,250.8Z"/></clipPath>
<clipPath id="cl-borneo"><path d="M577.3,230.5 L578.4,229.4 L581.1,230.5 L581.7,228.2 L584.8,226.6 L586.6,223.6 L589.4,221.3 L591.5,218.1 L593.5,219.5 L595.1,221.3 L596.5,222.0 L594.7,223.9 L593.7,224.8 L594.0,227.1 L594.4,229.4 L596.4,231.7 L594.1,232.2 L593.5,235.2 L591.8,237.5 L591.2,240.5 L590.5,242.8 L588.0,243.5 L587.7,241.8 L584.8,241.4 L582.4,241.6 L579.5,240.7 L579.2,237.5 L577.7,235.2 L577.3,232.8Z"/></clipPath>
<clipPath id="cl-sulawesi"><path d="M597.9,232.2 L599.8,231.0 L603.1,231.7 L605.9,231.7 L608.2,230.3 L606.9,232.8 L604.0,232.8 L601.2,232.8 L599.3,232.8 L598.3,235.8 L601.2,236.1 L604.6,236.1 L604.8,236.3 L602.1,237.9 L601.1,238.6 L602.3,242.1 L603.8,243.7 L602.7,246.5 L601.5,245.1 L601.0,243.2 L599.9,242.1 L598.8,244.4 L598.7,246.7 L597.0,246.7 L597.2,243.2 L595.9,240.5 L596.9,237.5 L597.9,234.5Z"/></clipPath>
<clipPath id="cl-newguinea"><path d="M619.3,235.8 L622.1,234.9 L625.0,235.8 L625.3,238.6 L626.7,241.6 L628.7,239.3 L631.6,237.7 L634.5,238.6 L638.2,240.0 L642.0,241.6 L644.8,242.8 L647.1,246.0 L649.3,247.8 L650.7,249.5 L649.1,250.1 L650.8,253.6 L653.4,255.9 L655.7,257.8 L653.2,257.8 L650.1,257.1 L648.7,255.7 L647.0,252.9 L644.3,251.5 L642.2,253.1 L641.2,255.0 L637.4,255.0 L634.7,252.7 L631.8,253.1 L632.0,250.6 L633.6,249.7 L632.2,246.7 L628.5,244.6 L625.7,243.2 L622.9,243.2 L622.5,241.6 L621.1,240.5 L623.9,239.5 L621.1,238.6 L619.1,237.2Z"/></clipPath>
<clipPath id="cl-luzon"><path d="M596.2,191.3 L599.2,191.3 L599.9,194.8 L599.0,197.6 L599.6,201.0 L602.2,201.9 L604.3,204.0 L604.4,205.2 L602.4,203.6 L600.0,202.4 L598.0,202.2 L597.5,200.6 L596.1,198.3 L595.5,196.4 L596.2,193.6Z"/></clipPath>
<clipPath id="cl-mindanao"><path d="M601.6,217.9 L602.4,215.5 L604.2,214.2 L606.1,214.4 L607.8,211.6 L609.6,214.4 L610.1,217.9 L609.3,219.5 L608.4,220.6 L607.7,219.0 L605.9,219.5 L605.4,217.2 L603.8,216.7Z"/></clipPath>
<clipPath id="cl-samar"><path d="M605.0,205.2 L607.3,205.6 L608.0,208.6 L606.8,210.5 L605.7,208.6Z"/></clipPath>
<clipPath id="cl-negros"><path d="M600.8,206.8 L602.7,207.5 L603.9,209.8 L603.6,212.8 L602.1,211.4 L601.0,209.8Z"/></clipPath>
<clipPath id="cl-palawan"><path d="M592.3,214.4 L596.2,207.9 L595.9,209.8 L592.9,214.9Z"/></clipPath>
<clipPath id="cl-mindoro"><path d="M597.4,203.1 L599.3,203.3 L599.2,205.6Z"/></clipPath>
<clipPath id="cl-timor"><path d="M603.9,257.8 L607.0,255.0 L611.3,253.4 L608.9,255.4 L605.9,257.3Z"/></clipPath>
<clipPath id="cl-bali"><path d="M587.2,252.7 L589.4,253.4 L588.4,254.3Z"/></clipPath>
<clipPath id="cl-lombok"><path d="M590.0,253.1 L591.3,253.4 L590.7,254.5Z"/></clipPath>
<clipPath id="cl-sumbawa"><path d="M591.5,253.4 L595.7,253.1 L595.6,254.3 L591.8,254.8Z"/></clipPath>
<clipPath id="cl-flores"><path d="M597.4,253.4 L602.9,252.9 L602.9,254.3 L597.5,254.3Z"/></clipPath>
<clipPath id="cl-sumba"><path d="M595.5,255.9 L598.9,256.8 L597.3,257.5Z"/></clipPath>
<clipPath id="cl-halmahera"><path d="M612.6,231.7 L613.5,228.9 L614.9,231.2 L614.5,233.3 L613.5,235.8 L613.0,234.0Z"/></clipPath>
<clipPath id="cl-seram"><path d="M613.4,240.9 L617.2,240.7 L618.7,242.1 L615.3,242.1Z"/></clipPath>
<clipPath id="cl-buru"><path d="M609.6,241.4 L611.9,241.6 L611.1,242.8Z"/></clipPath>
<clipPath id="cl-newbritain"><path d="M652.2,246.9 L656.0,246.7 L659.4,243.7 L659.3,245.5 L656.9,247.8 L654.0,248.5Z"/></clipPath>
<clipPath id="cl-newireland"><path d="M656.9,240.0 L660.0,242.1 L660.9,244.6 L659.6,243.2Z"/></clipPath>
<clipPath id="cl-newcaledonia"><path d="M676.8,280.6 L680.9,283.6 L681.3,285.7 L678.8,284.3Z"/></clipPath>
<clipPath id="cl-hawaii"><path d="M77.9,188.3 L79.0,187.4 L79.8,189.0 L78.2,190.2Z"/></clipPath>
<clipPath id="cl-australia"><path d="M639.9,258.7 L641.3,262.8 L641.3,267.0 L643.9,268.6 L644.5,273.2 L644.4,277.1 L646.6,279.0 L648.4,280.8 L648.9,284.7 L650.7,287.5 L652.3,290.5 L653.9,292.8 L652.5,297.0 L652.5,300.0 L649.9,304.3 L647.4,308.5 L643.7,312.0 L640.0,316.3 L637.7,320.0 L637.1,320.7 L633.5,321.4 L629.3,324.2 L627.6,322.5 L627.0,322.3 L624.5,323.5 L621.6,322.3 L620.0,321.4 L619.9,318.9 L620.4,316.6 L619.0,316.1 L619.7,314.3 L620.0,311.3 L620.4,309.2 L618.0,311.7 L615.2,314.3 L614.4,313.1 L613.6,310.1 L612.9,308.3 L609.3,306.7 L605.2,307.1 L599.3,308.5 L595.1,310.1 L593.5,312.2 L587.1,312.4 L582.7,314.7 L579.2,314.5 L578.0,313.1 L578.6,311.3 L579.8,310.8 L580.8,307.8 L580.8,304.3 L581.1,301.3 L580.6,297.9 L580.1,294.4 L580.6,291.7 L581.6,288.2 L581.9,285.9 L583.1,284.3 L584.7,283.6 L588.2,281.5 L591.9,280.8 L594.6,279.9 L597.7,277.8 L599.4,275.5 L599.9,273.2 L602.1,273.9 L602.5,272.1 L604.5,270.4 L606.1,267.9 L608.8,266.3 L611.1,267.0 L611.7,268.6 L613.2,268.4 L614.7,265.8 L616.3,263.5 L617.3,262.6 L619.6,262.1 L621.0,260.3 L622.6,261.2 L625.3,261.9 L628.2,261.7 L628.9,262.6 L627.8,265.1 L626.6,267.4 L625.3,268.6 L627.0,270.9 L629.5,272.7 L632.1,274.4 L634.5,274.4 L636.2,270.9 L637.1,267.4 L637.6,264.0 L638.7,260.5Z"/></clipPath>
<clipPath id="cl-tasmania"><path d="M624.4,327.8 L627.0,328.7 L630.4,328.1 L629.0,330.8 L626.7,333.5 L624.3,334.4 L623.0,334.2 L623.1,331.9 L623.8,329.9Z"/></clipPath>
<clipPath id="cl-nzn"><path d="M681.7,313.3 L682.9,315.4 L682.5,318.9 L684.4,318.6 L683.6,320.7 L685.9,321.4 L687.9,320.9 L685.5,323.5 L683.0,324.6 L682.0,326.2 L679.1,328.5 L676.4,329.9 L676.2,329.2 L678.0,327.1 L678.2,325.8 L677.4,324.6 L679.6,323.2 L681.4,320.5 L681.9,317.9 L681.6,315.2Z"/></clipPath>
<clipPath id="cl-nzs"><path d="M673.7,327.4 L673.5,329.0 L674.7,330.1 L672.7,331.7 L669.2,334.2 L669.0,334.9 L665.1,336.3 L663.0,338.5 L661.5,339.7 L658.4,341.2 L656.4,341.2 L654.4,340.3 L655.0,339.0 L659.0,336.5 L661.7,335.1 L666.0,333.1 L668.7,331.3 L671.7,328.5Z"/></clipPath>
<clipPath id="cl-antarctica"><path d="M180.8,417.5 L187.5,406.7 L193.3,403.3 L203.3,400.8 L216.7,400.8 L230,400 L237.5,398.5 L243.3,397.5 L257.5,397.3 L266.7,396.7 L276.7,396.7 L281.2,391 L284.5,385.5 L289.3,381.7 L288,387 L287.5,391 L291.7,394 L295,398.3 L292,404 L284,405.5 L288,408 L293.3,409.3 L306.7,411.7 L313.3,413.3 L326.7,411.7 L336.7,406.7 L350,405 L363.3,396.7 L383.3,393.3 L390,392.8 L415,391 L430,387.3 L452.5,383.5 L465,382.3 L477.5,384.8 L475,391 L485,388.5 L502.5,384.8 L520,384.8 L540,384.8 L565,386 L585,389 L596.3,394.8 L588,398 L575,400 L565,404 L563,410 L570,415 L585,416 L597.5,417.3 L590,422.6 L191,422.6Z"/></clipPath>
<clipPath id="cl-all"><path d="M141.8,80.4 L144.3,79.2 L154.2,76.5 L164.5,74.4 L169.0,75.6 L172.7,76.3 L177.8,77.1 L181.0,77.9 L186.2,79.2 L190.6,77.9 L195.6,77.1 L200.9,76.2 L202.7,78.1 L209.4,78.3 L215.3,79.2 L213.1,81.4 L220.4,81.2 L224.1,80.2 L228.5,80.0 L232.6,81.6 L237.0,81.4 L240.7,80.4 L242.9,77.1 L248.9,73.5 L249.3,75.2 L248.2,78.1 L249.4,80.0 L250.6,82.0 L254.2,81.0 L258.3,77.5 L262.3,77.7 L261.2,80.0 L258.3,83.0 L254.5,84.4 L251.9,84.0 L250.5,86.0 L246.8,88.0 L242.1,89.5 L236.9,91.5 L232.7,94.2 L229.4,97.4 L227.9,99.9 L230.0,100.1 L228.4,103.8 L232.3,103.8 L234.8,104.8 L238.2,107.0 L242.0,107.9 L239.9,112.5 L240.4,114.7 L242.0,116.5 L244.0,114.7 L246.2,110.3 L246.1,108.5 L251.4,105.9 L254.0,102.7 L252.5,99.9 L255.5,97.4 L257.9,92.3 L262.2,92.5 L265.7,94.2 L268.1,95.3 L267.1,98.4 L268.1,101.0 L272.0,99.5 L275.8,96.5 L276.8,100.5 L276.4,104.8 L277.8,107.0 L280.2,108.8 L280.8,111.4 L281.9,114.0 L279.6,115.8 L276.4,116.5 L273.1,118.7 L268.2,118.5 L262.4,118.7 L257.9,121.6 L253.1,125.4 L256.3,123.6 L262.2,121.1 L264.8,121.8 L263.0,123.6 L262.5,125.9 L263.2,127.7 L267.2,128.6 L270.2,127.0 L268.7,129.0 L263.7,131.3 L258.3,133.8 L258.0,132.0 L261.7,129.7 L257.2,130.4 L253.1,132.2 L249.8,134.5 L248.5,136.5 L249.5,137.9 L246.6,138.6 L242.4,139.7 L241.6,140.6 L240.5,142.9 L238.2,144.5 L236.7,147.5 L235.4,148.9 L235.3,152.6 L232.1,154.4 L229.9,155.8 L226.7,157.9 L223.3,160.2 L221.8,163.7 L222.4,168.3 L222.5,172.2 L221.4,175.6 L219.7,175.9 L219.0,173.6 L217.8,169.9 L218.4,167.1 L216.7,164.8 L213.9,165.3 L210.5,164.1 L207.8,164.1 L206.4,166.9 L203.5,166.4 L199.2,165.3 L196.1,166.7 L191.8,169.4 L190.2,174.0 L188.4,178.6 L187.7,182.6 L188.6,186.7 L190.0,189.7 L191.7,191.1 L193.5,192.0 L197.3,191.1 L199.8,189.7 L201.0,186.0 L201.9,185.3 L205.8,184.2 L208.0,184.6 L206.1,189.0 L205.1,192.0 L204.0,193.6 L202.6,197.1 L203.6,197.8 L207.8,197.3 L211.6,197.6 L212.9,199.4 L211.9,204.0 L211.2,207.5 L212.0,210.2 L213.7,212.8 L215.9,213.7 L218.1,212.6 L219.8,212.1 L222.8,213.9 L221.6,217.4 L220.6,215.1 L218.8,213.5 L217.0,215.1 L217.7,216.9 L214.5,216.5 L212.2,215.1 L210.8,214.2 L208.5,211.4 L207.1,208.9 L205.2,205.2 L204.2,203.6 L200.6,202.9 L197.0,201.7 L195.6,200.3 L192.8,196.9 L190.6,196.9 L188.0,197.8 L184.4,196.4 L181.9,195.3 L178.3,192.7 L175.4,191.1 L172.9,187.9 L172.9,184.4 L172.1,180.5 L169.9,176.3 L167.8,174.0 L166.6,170.6 L164.5,167.1 L164.4,162.5 L161.8,160.7 L161.3,163.7 L162.6,167.1 L163.0,170.6 L164.1,173.6 L165.0,177.5 L166.3,180.5 L165.3,181.2 L165.0,179.8 L162.3,177.3 L162.6,174.0 L160.0,171.3 L158.5,169.9 L160.5,168.3 L158.6,164.8 L158.1,160.7 L158.1,158.8 L156.9,155.6 L153.6,154.4 L153.3,149.6 L153.5,146.8 L153.1,142.9 L153.2,140.9 L155.5,137.2 L156.3,134.9 L161.5,127.7 L163.5,122.7 L166.6,123.6 L167.6,121.4 L167.1,119.1 L162.9,116.9 L163.5,113.6 L162.2,109.6 L162.3,105.9 L162.4,101.6 L163.7,99.5 L161.7,99.9 L160.8,97.8 L157.4,97.4 L154.3,97.4 L153.1,95.7 L149.9,95.9 L145.5,97.8 L140.6,99.1 L144.1,96.3 L148.0,94.8 L144.0,95.7 L138.7,98.4 L134.4,101.0 L128.3,103.8 L122.9,105.9 L117.1,107.7 L112.7,108.8 L109.6,109.0 L115.4,107.0 L119.7,105.9 L127.1,102.7 L131.5,100.1 L129.2,100.1 L126.1,100.1 L123.5,100.3 L127.0,97.4 L124.4,96.3 L124.7,94.2 L129.3,91.7 L133.6,90.7 L138.0,89.5 L139.9,88.0 L136.9,88.0 L131.9,88.0 L132.5,85.8 L137.1,84.6 L140.8,84.0 L143.6,84.6 L145.0,83.0 L144.1,81.6Z M287.9,61.7 L296.4,59.3 L301.7,57.4 L308.6,56.3 L320.6,55.6 L332.8,54.4 L341.9,54.1 L349.4,54.7 L354.4,56.3 L363.3,57.0 L357.9,59.3 L355.0,60.9 L352.9,63.4 L352.7,66.0 L350.2,67.8 L350.3,69.6 L346.9,72.4 L345.7,74.3 L345.1,76.2 L342.3,76.7 L343.4,77.5 L338.5,80.0 L332.7,80.8 L327.8,83.0 L322.7,85.2 L317.4,86.0 L315.2,88.0 L312.6,91.1 L310.0,94.2 L307.9,96.9 L306.4,97.8 L304.0,96.1 L300.8,94.6 L299.6,92.1 L298.7,89.0 L298.7,86.0 L298.7,83.0 L300.6,80.6 L304.2,79.0 L300.7,76.5 L301.7,74.3 L301.6,71.4 L301.5,68.7 L300.0,66.4 L295.3,65.8 L290.1,66.0 L287.9,64.2Z M287.1,83.6 L281.6,87.0 L280.1,91.1 L277.3,92.1 L276.4,91.1 L273.5,89.7 L275.1,93.4 L272.5,92.8 L268.8,91.5 L266.2,88.4 L261.1,88.4 L261.3,87.0 L267.7,86.0 L269.7,84.0 L272.4,81.0 L269.6,79.0 L267.5,77.1 L262.7,77.1 L258.6,77.1 L255.3,76.2 L254.7,73.7 L257.7,70.5 L264.7,70.0 L269.8,70.2 L272.3,71.8 L275.4,72.9 L279.5,74.6 L281.6,76.5 L282.3,78.7 L284.4,82.0Z M214.4,77.5 L216.6,80.0 L223.3,79.6 L229.4,79.0 L235.5,77.7 L233.8,75.2 L236.6,71.8 L233.5,71.1 L227.4,71.8 L220.5,71.4 L215.9,74.3 L215.8,76.2Z M208.1,73.5 L209.2,74.8 L213.2,74.3 L217.4,72.4 L222.1,70.2 L225.4,69.1 L219.4,68.7 L213.0,70.2 L209.5,72.4Z M263.3,65.1 L275.3,65.6 L280.7,63.4 L285.5,61.7 L290.8,60.1 L299.9,58.0 L306.7,55.9 L300.9,54.9 L289.8,54.8 L277.0,55.9 L270.5,57.3 L274.8,58.5 L270.7,60.9 L271.2,62.5Z M255.2,64.6 L262.5,64.8 L262.8,66.2 L274.1,66.9 L273.1,68.3 L264.7,68.7 L257.3,68.3 L253.1,66.9Z M264.3,58.5 L271.1,57.7 L272.9,60.1 L265.5,62.2 L261.7,60.9Z M226.5,67.3 L230.7,65.1 L238.2,65.1 L242.1,66.0 L240.5,67.8 L233.9,68.5 L228.9,68.3Z M241.0,71.4 L245.4,69.8 L248.5,70.5 L246.4,73.3 L242.0,74.4 L239.0,73.3Z M251.4,69.6 L257.3,69.6 L256.1,71.4 L251.1,73.3 L249.2,71.8Z M245.8,65.1 L253.5,64.9 L251.2,67.4 L245.0,67.8 L243.8,66.7Z M237.0,79.0 L241.3,77.3 L243.2,78.3 L241.2,79.8 L237.5,80.0Z M248.7,86.4 L252.6,85.0 L254.9,85.8 L256.0,88.4 L254.2,90.1 L250.2,90.5 L247.8,89.7 L247.2,88.4Z M272.2,124.5 L274.4,122.0 L277.8,118.0 L281.4,115.8 L279.9,118.0 L280.6,119.3 L283.1,120.5 L283.4,122.5 L283.3,124.7 L281.7,126.5 L280.6,125.2 L278.1,126.1 L276.9,124.5Z M161.1,117.6 L164.3,118.5 L165.0,120.2 L165.7,122.7 L163.8,122.3 L162.0,120.5 L160.5,119.1Z M159.5,110.1 L161.4,110.3 L158.9,114.2 L158.2,112.5Z M132.8,102.5 L136.5,101.2 L136.4,102.5 L132.8,104.0Z M211.7,183.5 L214.6,181.4 L217.5,180.5 L220.2,180.7 L222.8,182.3 L225.4,183.7 L228.0,185.3 L231.2,187.4 L229.6,188.1 L224.5,188.3 L225.7,186.5 L223.3,185.6 L221.7,184.0 L219.0,183.0 L217.2,182.3 L214.4,182.8 L212.8,183.7Z M230.4,191.1 L232.6,188.3 L233.7,188.1 L235.7,188.3 L238.9,188.6 L240.7,189.5 L241.6,191.1 L239.5,191.6 L237.6,192.0 L235.4,193.2 L233.8,192.0 L231.4,192.3Z M223.0,191.6 L225.5,191.3 L226.8,192.5 L225.3,192.9 L222.9,192.3Z M243.8,191.6 L246.6,191.6 L246.5,192.5 L243.7,192.5Z M221.9,66.0 L227.5,63.9 L232.6,63.4 L228.3,65.5 L224.8,66.2Z M247.9,62.5 L251.9,60.5 L258.6,59.6 L258.2,61.2 L252.4,62.9Z M256.5,62.5 L260.1,61.2 L261.4,62.0 L258.5,62.9Z M252.1,67.8 L255.2,66.7 L256.3,67.4 L254.1,68.3Z M237.2,63.2 L241.8,61.7 L243.5,62.2 L239.8,63.6Z M250.7,91.5 L252.6,91.3 L252.7,92.3 L250.5,92.8Z M254.5,92.3 L255.6,92.3 L254.7,94.0 L253.7,93.8Z M265.4,119.3 L268.5,119.8 L269.4,121.1 L266.6,120.7Z M263.0,126.5 L265.2,126.8 L266.9,127.0 L265.6,128.1 L263.5,127.9Z M266.0,81.2 L268.2,81.0 L268.5,82.0 L266.4,82.6Z M222.8,213.9 L223.8,215.5 L225.5,212.6 L226.6,209.6 L228.0,208.4 L230.5,207.9 L233.1,206.6 L234.8,205.4 L235.3,207.5 L237.2,207.2 L237.6,205.9 L239.9,209.1 L240.8,209.8 L244.6,209.6 L247.4,210.5 L250.3,209.3 L252.2,209.6 L251.2,210.9 L254.0,212.1 L254.3,214.4 L256.7,215.5 L258.5,217.9 L260.3,219.7 L264.1,220.4 L267.0,220.6 L269.8,222.5 L271.6,223.9 L272.5,225.9 L274.4,229.8 L274.4,232.8 L277.2,235.2 L279.1,235.6 L283.0,237.5 L285.3,239.8 L288.7,240.2 L293.5,240.5 L296.4,242.5 L299.3,245.1 L302.5,246.2 L303.6,250.6 L303.3,254.8 L300.5,258.2 L298.8,261.2 L297.0,264.0 L296.3,268.6 L296.5,273.2 L295.8,276.7 L295.1,280.1 L293.5,284.3 L291.9,287.0 L289.1,287.0 L286.4,288.4 L283.8,289.8 L281.3,292.8 L280.6,296.3 L280.6,299.7 L278.9,303.2 L277.6,306.2 L275.5,310.1 L274.2,312.4 L272.1,314.5 L269.7,314.5 L266.2,313.1 L265.3,312.4 L268.2,315.9 L269.1,318.2 L268.8,321.6 L265.9,323.5 L261.6,323.9 L262.3,327.6 L257.7,328.5 L258.5,331.3 L261.1,332.2 L259.3,333.5 L259.8,337.6 L257.1,339.9 L260.6,342.6 L261.6,344.4 L260.1,347.8 L259.1,349.5 L259.5,352.2 L261.3,354.2 L261.7,355.5 L264.4,357.7 L268.7,359.2 L267.2,360.3 L265.2,361.2 L261.6,360.3 L257.5,358.4 L252.9,355.5 L249.6,352.2 L246.3,346.6 L244.5,342.1 L244.8,338.8 L244.4,335.4 L244.5,330.8 L242.7,329.7 L241.7,325.1 L240.1,319.8 L240.3,315.9 L240.8,310.1 L240.1,305.5 L239.1,300.9 L239.4,296.3 L239.4,291.7 L239.2,288.2 L238.9,282.4 L238.0,276.7 L235.5,273.9 L232.5,272.1 L228.0,269.1 L225.7,266.1 L223.6,261.7 L221.4,257.1 L219.7,252.9 L217.8,249.9 L215.2,247.8 L214.9,244.8 L216.7,241.8 L217.5,239.8 L215.5,239.3 L216.1,236.3 L217.2,233.8 L217.2,232.2 L219.5,230.5 L220.1,228.2 L222.0,227.8 L222.7,224.8 L222.2,221.3 L222.5,219.0 L221.6,217.4Z M272.5,352.9 L274.8,351.8 L277.9,352.4 L277.2,353.8 L274.9,354.0Z M252.4,209.3 L254.1,209.1 L254.0,210.7 L252.3,210.7Z M360.2,151.4 L361.3,151.2 L365.4,152.6 L367.2,153.0 L370.8,151.4 L373.5,149.8 L376.2,149.1 L379.8,149.1 L384.2,148.7 L388.3,148.0 L389.2,149.1 L390.5,148.7 L389.8,150.1 L389.8,152.1 L390.5,154.9 L388.9,155.1 L390.0,156.5 L391.4,157.4 L394.5,158.1 L398.1,159.5 L399.1,161.8 L402.4,162.7 L405.1,164.1 L406.9,162.5 L406.9,159.7 L409.5,158.1 L412.3,158.8 L416.0,161.1 L419.7,161.8 L423.4,162.7 L425.1,161.8 L426.9,161.3 L429.3,162.0 L430.0,164.8 L431.4,168.7 L433.0,171.7 L434.1,175.2 L436.1,178.6 L436.5,181.0 L438.9,183.3 L439.5,185.6 L439.8,188.6 L442.2,192.5 L444.1,198.0 L446.3,199.9 L448.6,202.9 L451.3,204.7 L451.8,207.5 L454.1,210.0 L458.8,208.4 L462.6,207.9 L466.7,206.8 L466.6,210.0 L465.6,213.2 L463.8,218.3 L461.0,223.6 L457.3,228.7 L455.9,229.4 L452.5,232.8 L449.7,235.8 L448.7,237.9 L446.4,240.0 L445.2,243.2 L443.9,247.8 L444.8,250.1 L444.5,253.6 L445.2,257.1 L446.5,258.4 L446.6,262.8 L446.7,267.4 L446.4,269.7 L444.2,272.5 L440.4,275.1 L438.0,277.4 L435.3,279.7 L434.9,282.0 L436.1,284.7 L436.1,289.4 L432.3,292.1 L430.5,294.0 L430.9,297.4 L429.6,300.4 L427.1,303.0 L425.1,306.2 L421.9,309.7 L419.4,311.5 L417.0,312.4 L413.0,312.6 L410.3,312.9 L406.7,314.3 L404.0,313.1 L403.7,310.1 L403.6,307.3 L402.0,304.3 L400.6,300.0 L398.3,295.8 L397.8,291.7 L397.1,286.6 L395.2,282.4 L393.4,277.4 L392.1,273.9 L392.1,270.4 L393.4,265.1 L395.3,262.6 L395.9,258.9 L394.8,254.3 L393.1,248.1 L392.1,244.8 L390.6,242.5 L388.1,239.3 L386.4,235.6 L387.7,232.8 L388.3,229.4 L388.1,225.9 L387.7,224.8 L386.0,223.6 L383.0,223.9 L381.1,224.1 L379.2,221.3 L378.2,219.5 L376.2,219.2 L372.0,219.9 L368.7,221.3 L365.9,222.9 L363.6,222.2 L362.1,221.8 L358.3,222.9 L355.4,223.9 L352.5,222.0 L349.1,219.5 L347.8,218.1 L345.9,216.7 L344.6,214.4 L344.5,212.1 L343.2,210.7 L341.3,208.6 L339.8,206.8 L338.2,205.4 L338.0,202.9 L336.8,200.1 L338.8,197.1 L339.3,192.5 L339.6,189.5 L339.1,187.9 L338.3,185.6 L338.5,182.8 L340.4,179.3 L342.6,175.2 L343.4,173.3 L345.6,170.6 L346.5,169.7 L349.2,168.3 L351.7,166.4 L352.7,163.9 L352.7,161.3 L354.8,157.9 L356.9,156.5 L358.4,155.4 L359.6,152.8Z M463.1,261.7 L464.3,265.1 L465.0,269.7 L463.7,270.9 L462.9,274.4 L461.8,279.0 L460.2,283.6 L458.4,288.2 L457.3,291.7 L454.4,292.8 L452.3,291.7 L451.0,288.2 L450.8,284.7 L452.9,280.1 L452.5,276.7 L453.3,272.1 L455.6,270.4 L458.5,268.6 L460.5,265.8 L462.1,263.5Z M521.1,211.6 L522.1,212.1 L524.1,214.4 L525.2,217.2 L524.7,219.2 L522.8,220.4 L521.8,219.5 L521.3,216.7 L521.4,214.2Z M410.1,75.0 L413.1,75.2 L417.3,76.3 L416.2,77.7 L420.4,78.3 L424.6,78.7 L432.3,81.6 L433.1,83.4 L432.9,84.0 L428.8,84.8 L424.3,84.0 L421.4,83.6 L424.0,86.0 L425.0,88.2 L428.3,89.5 L429.5,88.4 L433.0,87.8 L431.9,86.0 L434.3,84.2 L437.3,84.6 L436.5,81.4 L435.3,79.8 L439.0,80.6 L439.7,83.0 L442.2,81.8 L447.3,80.2 L450.2,80.6 L454.1,79.8 L457.1,80.2 L458.6,78.9 L458.0,77.5 L463.3,78.5 L467.5,79.2 L467.2,78.1 L465.7,75.6 L464.9,73.3 L466.6,71.6 L471.4,71.8 L473.1,74.3 L476.5,80.0 L477.0,84.0 L479.6,83.4 L478.6,80.0 L475.3,75.2 L474.8,72.0 L479.2,72.7 L482.9,73.3 L484.0,76.2 L488.3,76.5 L485.3,73.9 L481.1,70.5 L487.6,69.6 L487.5,67.8 L491.5,66.5 L495.9,65.8 L501.6,65.1 L504.7,63.0 L509.4,64.2 L516.6,65.1 L520.5,66.9 L520.5,68.7 L516.3,71.1 L519.7,70.5 L523.7,70.5 L527.4,70.3 L532.3,71.3 L537.4,71.1 L537.7,70.2 L542.2,70.7 L545.7,71.4 L548.1,73.7 L549.4,75.6 L552.8,75.6 L554.1,74.3 L559.5,74.3 L560.6,72.4 L561.3,71.8 L567.9,72.4 L576.2,73.7 L581.1,75.4 L587.6,75.2 L594.1,77.1 L596.7,78.1 L601.9,77.9 L605.3,77.3 L608.5,77.1 L611.2,78.7 L615.2,77.5 L620.6,78.5 L624.5,79.2 L630.3,80.4 L637.1,82.8 L641.6,83.2 L646.7,84.8 L646.5,86.0 L647.3,88.2 L643.8,87.8 L639.3,86.0 L633.6,84.4 L634.9,86.0 L634.5,86.8 L633.2,88.0 L631.9,87.6 L638.4,91.1 L640.9,92.5 L636.2,94.2 L632.9,95.3 L632.6,97.4 L626.5,97.8 L622.3,97.4 L625.3,100.5 L624.8,102.0 L629.0,104.8 L630.1,105.5 L631.0,108.5 L630.9,112.0 L629.8,113.6 L629.6,116.9 L625.4,113.6 L621.0,108.1 L616.3,103.8 L616.6,101.6 L617.3,98.4 L618.9,96.3 L618.9,94.2 L617.4,92.1 L613.0,93.6 L608.8,93.8 L610.4,98.4 L606.8,99.5 L603.3,98.2 L596.8,98.6 L592.4,98.8 L591.1,102.7 L589.9,105.9 L588.4,108.8 L593.3,110.3 L595.7,110.3 L600.1,111.8 L602.4,114.2 L603.8,118.0 L605.7,121.4 L605.6,124.7 L605.4,128.6 L603.8,131.7 L601.5,135.4 L599.2,134.7 L598.1,136.5 L597.4,138.6 L598.0,139.9 L595.3,142.2 L595.7,143.6 L598.1,145.0 L601.4,148.7 L602.7,152.1 L602.4,153.0 L600.0,154.0 L598.3,154.7 L597.5,151.9 L596.6,149.1 L595.8,147.3 L593.8,147.1 L592.1,145.2 L592.0,143.2 L589.7,142.0 L587.0,143.4 L585.1,144.5 L584.7,141.1 L584.1,139.7 L581.1,142.0 L578.9,143.8 L580.7,146.1 L582.6,148.0 L585.4,146.8 L588.9,147.8 L586.8,149.8 L585.9,150.7 L585.0,153.3 L587.5,155.1 L589.7,158.6 L592.3,161.1 L592.8,162.7 L590.6,163.9 L593.7,165.0 L593.8,168.3 L592.6,170.1 L591.5,173.3 L590.7,175.6 L589.3,177.5 L587.2,180.3 L582.9,182.6 L581.7,183.0 L579.0,184.0 L576.4,184.9 L576.1,187.2 L575.0,184.6 L572.5,184.0 L570.8,184.9 L569.5,186.3 L568.2,189.5 L570.0,192.9 L572.6,195.9 L573.9,197.1 L576.1,201.7 L576.6,205.2 L576.2,207.5 L573.6,209.8 L572.3,210.2 L571.8,212.1 L569.1,214.2 L568.9,210.9 L566.9,209.8 L564.9,208.2 L563.8,205.9 L560.9,204.7 L559.8,202.9 L558.9,203.3 L558.7,206.8 L557.8,209.8 L558.2,212.8 L560.0,214.6 L560.9,217.4 L563.2,218.8 L564.6,220.2 L566.4,222.9 L566.5,225.9 L567.8,228.9 L568.2,230.8 L566.7,230.8 L564.3,228.7 L562.6,227.1 L561.4,224.3 L560.5,221.3 L559.8,219.0 L558.8,216.7 L556.8,215.1 L556.6,211.4 L556.8,208.6 L556.4,205.2 L555.3,201.7 L554.0,198.3 L553.6,195.9 L551.5,195.3 L549.4,197.6 L547.5,197.1 L547.5,193.6 L546.6,190.4 L545.0,188.1 L542.5,185.6 L541.2,182.6 L539.3,182.1 L538.5,183.5 L536.1,183.7 L534.6,184.0 L532.5,184.6 L532.3,186.7 L531.3,188.1 L529.2,189.3 L527.6,191.6 L526.4,193.4 L524.8,195.7 L522.8,197.1 L521.2,198.3 L521.1,201.7 L521.6,203.8 L520.9,206.8 L521.1,210.2 L519.7,212.6 L518.2,213.7 L516.9,215.3 L514.9,213.2 L514.3,210.9 L512.7,207.0 L511.3,204.0 L509.8,199.9 L509.0,198.3 L507.5,193.6 L506.4,190.2 L506.0,186.7 L505.6,184.4 L505.2,182.8 L504.5,185.3 L502.7,186.0 L500.8,185.1 L498.7,182.6 L500.4,181.0 L497.5,180.3 L495.6,178.9 L494.4,176.8 L493.4,175.4 L489.7,175.9 L485.1,176.1 L484.1,175.9 L480.4,175.4 L477.2,174.7 L475.5,172.2 L474.1,171.5 L471.5,172.7 L468.0,171.7 L465.1,169.7 L463.6,167.1 L461.9,164.6 L459.8,163.9 L458.2,165.0 L458.4,166.4 L459.5,168.5 L461.2,171.0 L463.0,172.7 L463.2,175.2 L464.4,176.8 L464.9,174.3 L465.1,173.8 L465.8,176.3 L465.4,177.7 L467.6,178.2 L470.4,178.2 L472.6,175.6 L474.1,173.6 L474.7,176.3 L476.0,178.6 L478.9,179.6 L481.5,182.1 L480.0,186.7 L478.3,190.2 L477.0,192.5 L474.2,193.6 L471.5,194.8 L468.2,196.6 L466.0,198.7 L462.7,200.3 L459.6,202.4 L454.9,204.5 L452.1,204.7 L451.5,202.9 L450.6,199.4 L450.3,195.9 L447.9,192.5 L445.8,189.0 L443.2,184.9 L441.8,181.0 L439.8,178.0 L437.7,174.0 L435.1,169.4 L434.3,166.0 L433.4,169.4 L433.3,169.9 L431.5,167.6 L430.1,165.0 L429.3,162.0 L432.1,162.3 L433.3,161.1 L433.7,159.0 L434.0,157.9 L434.7,155.8 L435.2,152.8 L435.2,150.5 L435.4,149.1 L433.3,149.6 L431.6,150.3 L428.9,150.7 L425.6,149.1 L423.6,150.5 L421.2,149.4 L419.5,148.4 L418.8,145.5 L417.2,143.4 L417.1,141.8 L419.4,140.9 L422.0,140.9 L422.4,139.0 L421.0,139.3 L419.3,139.5 L417.6,140.6 L416.7,139.7 L414.0,139.7 L412.9,140.9 L413.8,141.3 L413.3,141.8 L412.0,141.3 L411.3,140.4 L410.8,141.8 L411.6,143.4 L411.7,144.3 L413.5,145.9 L413.6,147.1 L412.1,146.6 L412.0,147.8 L411.9,149.8 L410.8,149.8 L410.3,148.7 L409.6,149.1 L408.8,147.1 L409.1,145.7 L408.2,145.5 L407.8,144.1 L406.6,142.7 L406.1,141.1 L405.1,139.9 L405.1,138.1 L404.7,137.2 L403.4,136.1 L400.8,134.5 L399.0,133.6 L397.6,132.2 L396.4,129.9 L394.8,130.4 L395.0,128.8 L392.6,129.5 L392.8,132.0 L394.7,133.6 L396.0,136.1 L399.1,137.4 L399.2,138.6 L400.9,139.3 L403.6,141.6 L403.3,142.2 L401.0,140.6 L400.3,142.5 L401.2,144.1 L400.2,145.5 L399.3,146.4 L398.7,146.5 L399.1,145.0 L399.5,143.4 L398.5,141.8 L397.3,141.1 L396.2,139.9 L395.0,139.0 L393.1,138.1 L392.5,137.7 L390.4,136.3 L389.6,134.9 L389.0,132.9 L387.8,132.0 L386.8,131.7 L385.3,132.9 L384.1,133.3 L382.1,134.7 L380.6,134.2 L378.4,133.8 L376.8,134.7 L376.7,136.3 L376.9,137.4 L375.1,138.6 L372.6,139.9 L371.1,142.2 L370.6,143.2 L371.4,144.5 L369.9,146.1 L369.5,147.3 L367.7,148.4 L366.8,149.1 L364.6,149.4 L363.0,149.4 L361.3,150.7 L360.1,150.5 L359.5,149.1 L358.4,148.2 L356.6,148.7 L354.9,148.7 L355.4,145.5 L354.2,144.8 L355.3,141.8 L356.1,139.0 L355.9,136.7 L355.4,134.9 L357.7,133.3 L361.1,133.6 L364.6,134.0 L368.0,134.0 L368.9,133.8 L369.3,131.5 L369.8,129.0 L369.7,127.7 L368.1,125.4 L366.9,124.5 L364.5,123.8 L364.1,122.7 L366.2,121.8 L368.7,122.3 L369.5,122.0 L369.3,119.8 L370.1,120.5 L372.3,120.2 L374.7,118.9 L374.9,117.3 L376.4,116.7 L378.2,116.0 L378.9,114.7 L380.1,112.7 L381.3,111.8 L383.9,111.6 L385.6,111.2 L386.5,110.5 L386.9,110.1 L386.6,108.5 L385.8,107.0 L385.7,104.6 L386.5,103.5 L388.5,102.5 L389.6,102.3 L389.3,104.8 L390.1,105.1 L389.0,106.4 L388.2,107.2 L388.1,108.3 L388.7,109.2 L390.3,109.4 L390.3,110.3 L392.2,109.8 L394.3,109.2 L395.6,110.5 L398.3,109.6 L401.5,108.5 L402.5,109.4 L404.1,109.4 L404.6,108.3 L406.2,107.4 L406.2,105.5 L405.9,103.8 L406.8,102.7 L408.3,102.3 L409.3,103.8 L410.8,103.8 L411.0,101.8 L411.1,100.8 L409.5,100.1 L409.4,99.1 L411.2,98.4 L413.1,98.2 L416.2,98.4 L418.4,97.6 L419.5,97.6 L418.3,96.9 L416.7,96.1 L414.4,96.3 L411.5,96.9 L408.5,97.6 L407.2,96.5 L405.7,95.3 L405.6,93.2 L405.3,91.1 L407.0,89.5 L409.0,87.6 L411.0,87.0 L410.3,85.8 L409.1,85.4 L407.4,85.4 L406.0,86.0 L405.4,87.4 L404.8,89.0 L403.8,89.7 L402.0,90.7 L400.6,92.1 L399.7,93.2 L399.7,95.3 L399.6,95.9 L401.6,96.9 L402.3,97.8 L401.1,98.8 L400.3,100.1 L399.1,101.2 L399.0,102.7 L398.7,104.6 L397.8,105.7 L396.1,105.7 L395.5,107.0 L393.5,107.2 L393.1,106.1 L393.0,105.5 L392.6,104.0 L391.7,102.3 L390.6,100.5 L390.4,99.3 L389.6,97.6 L389.2,99.1 L387.9,99.7 L386.4,101.2 L385.6,101.4 L384.0,101.6 L382.1,100.1 L381.4,98.4 L381.3,96.5 L381.2,94.6 L381.5,93.2 L383.5,91.7 L385.5,90.7 L386.9,89.9 L388.7,89.9 L388.7,88.6 L390.6,87.2 L391.9,85.8 L392.7,84.4 L393.7,83.0 L395.0,82.2 L396.1,81.0 L397.8,80.0 L399.1,79.0 L400.9,77.7 L403.1,77.1 L405.1,76.3 L407.0,75.6Z M362.8,118.9 L366.4,118.5 L367.3,117.6 L370.6,117.6 L372.7,117.3 L374.6,116.5 L373.6,115.8 L375.2,113.1 L373.0,112.5 L372.8,111.2 L372.3,110.1 L370.8,109.0 L370.3,107.0 L369.5,105.9 L368.2,105.9 L369.1,104.6 L370.0,102.7 L367.7,102.3 L366.6,102.7 L368.3,100.5 L365.6,100.3 L364.2,102.0 L364.2,104.8 L363.2,105.3 L364.1,107.0 L365.3,106.6 L364.8,108.5 L367.2,108.3 L367.8,110.3 L367.7,111.6 L365.3,111.8 L365.6,113.6 L363.9,114.9 L365.5,115.6 L367.4,116.0 L364.9,116.9 L363.6,118.5Z M356.0,115.6 L358.5,115.6 L362.2,114.2 L362.9,111.8 L363.9,109.2 L362.8,107.7 L360.9,107.4 L359.1,109.2 L356.7,109.8 L356.8,111.8 L357.4,113.4 L355.6,114.5Z M339.0,86.0 L342.3,84.2 L344.9,85.6 L348.0,84.6 L351.7,84.0 L353.5,85.4 L354.7,87.0 L352.2,88.4 L347.5,90.3 L343.9,90.1 L340.8,89.5 L342.1,88.0 L339.4,87.2Z M389.9,61.2 L393.5,59.6 L398.2,59.3 L402.8,58.8 L408.8,59.1 L405.6,60.9 L402.1,61.7 L402.9,63.4 L398.7,64.9 L394.9,64.2 L393.0,62.5Z M442.7,79.0 L442.1,77.1 L445.4,74.8 L447.1,72.4 L449.0,70.5 L450.7,70.0 L451.1,72.4 L449.6,75.2 L453.3,76.0 L450.6,76.2 L446.9,75.4 L445.4,76.7Z M447.7,70.5 L447.5,68.7 L449.8,66.9 L454.2,65.6 L458.5,64.4 L462.3,64.6 L460.7,66.0 L455.1,67.3 L452.2,69.1 L450.7,70.0Z M491.9,60.5 L494.1,59.3 L499.7,60.1 L504.0,61.7 L499.7,62.2 L495.4,61.5Z M485.8,59.3 L488.5,57.4 L492.0,58.5 L489.7,59.6Z M550.9,67.3 L554.2,66.0 L561.9,66.9 L567.8,67.4 L566.5,68.3 L558.5,68.2 L554.3,68.3Z M616.7,75.2 L617.3,74.3 L619.3,75.6Z M600.0,109.6 L603.3,111.8 L606.8,115.8 L610.3,120.2 L612.7,121.4 L610.5,121.8 L612.7,125.9 L614.6,127.0 L613.1,128.1 L610.7,124.7 L608.5,121.4 L605.1,116.9 L601.8,112.5Z M613.1,129.5 L617.6,132.0 L620.9,132.2 L622.4,134.2 L620.0,135.2 L620.1,137.2 L617.0,135.8 L615.7,136.1 L615.7,138.3 L614.0,136.1 L613.8,134.2 L615.3,133.8Z M616.8,138.3 L619.0,140.6 L621.1,142.9 L621.6,145.7 L621.3,147.1 L622.2,149.8 L622.6,152.8 L621.7,152.8 L620.6,152.8 L620.4,154.0 L619.3,154.0 L617.7,154.2 L617.1,154.9 L616.4,156.7 L615.1,156.7 L614.2,154.9 L612.6,154.0 L610.3,154.9 L608.8,155.8 L606.9,155.6 L606.4,154.2 L608.4,152.4 L610.9,151.9 L613.6,151.9 L614.3,150.5 L614.7,148.9 L614.9,147.5 L615.7,149.1 L617.2,147.8 L617.8,145.2 L617.6,142.9 L616.4,140.6 L615.9,139.0Z M607.0,155.8 L609.2,157.9 L609.5,160.2 L609.1,161.8 L607.7,162.0 L607.0,159.7 L605.8,158.3 L605.2,157.2 L606.1,155.8Z M609.4,155.8 L611.2,154.9 L613.4,155.1 L613.1,156.7 L611.4,157.9 L610.6,158.3Z M595.3,175.6 L596.4,176.3 L596.1,179.8 L595.4,183.5 L593.9,181.4 L593.5,179.1 L594.5,176.3Z M573.7,189.5 L574.9,187.9 L577.1,187.6 L577.9,188.8 L577.2,190.9 L575.5,192.0 L573.9,191.1Z M393.0,146.4 L394.9,145.9 L398.6,145.7 L398.0,148.2 L397.6,149.4 L395.8,148.7 L393.1,147.3Z M385.6,139.7 L387.3,139.0 L388.2,140.6 L388.0,143.6 L386.9,144.1 L385.9,143.6 L386.1,141.3Z M386.3,136.3 L387.7,134.9 L387.8,137.2 L387.3,138.6 L386.4,137.9Z M412.9,152.6 L414.7,152.1 L417.9,152.6 L417.4,153.3 L414.8,153.5 L412.9,152.8Z M428.8,153.3 L429.9,152.4 L432.8,151.7 L431.6,153.3 L430.1,154.2 L429.0,154.0Z M551.0,221.1 L555.2,222.0 L557.6,225.2 L560.7,228.2 L563.0,230.1 L565.9,232.2 L567.2,234.7 L568.7,237.5 L571.5,240.5 L571.5,241.6 L571.0,244.4 L570.9,247.4 L568.6,247.4 L567.6,245.5 L564.4,243.2 L562.0,239.8 L560.8,236.3 L558.3,233.3 L557.7,230.1 L555.4,228.2 L553.4,225.5 L551.4,222.9Z M569.7,249.7 L571.3,247.6 L572.8,248.1 L576.0,249.2 L579.7,249.9 L580.7,249.0 L583.9,250.1 L587.1,251.8 L587.1,254.1 L584.3,253.4 L580.5,252.9 L576.8,251.8 L574.0,251.8 L571.9,250.8Z M577.3,230.5 L578.4,229.4 L581.1,230.5 L581.7,228.2 L584.8,226.6 L586.6,223.6 L589.4,221.3 L591.5,218.1 L593.5,219.5 L595.1,221.3 L596.5,222.0 L594.7,223.9 L593.7,224.8 L594.0,227.1 L594.4,229.4 L596.4,231.7 L594.1,232.2 L593.5,235.2 L591.8,237.5 L591.2,240.5 L590.5,242.8 L588.0,243.5 L587.7,241.8 L584.8,241.4 L582.4,241.6 L579.5,240.7 L579.2,237.5 L577.7,235.2 L577.3,232.8Z M597.9,232.2 L599.8,231.0 L603.1,231.7 L605.9,231.7 L608.2,230.3 L606.9,232.8 L604.0,232.8 L601.2,232.8 L599.3,232.8 L598.3,235.8 L601.2,236.1 L604.6,236.1 L604.8,236.3 L602.1,237.9 L601.1,238.6 L602.3,242.1 L603.8,243.7 L602.7,246.5 L601.5,245.1 L601.0,243.2 L599.9,242.1 L598.8,244.4 L598.7,246.7 L597.0,246.7 L597.2,243.2 L595.9,240.5 L596.9,237.5 L597.9,234.5Z M619.3,235.8 L622.1,234.9 L625.0,235.8 L625.3,238.6 L626.7,241.6 L628.7,239.3 L631.6,237.7 L634.5,238.6 L638.2,240.0 L642.0,241.6 L644.8,242.8 L647.1,246.0 L649.3,247.8 L650.7,249.5 L649.1,250.1 L650.8,253.6 L653.4,255.9 L655.7,257.8 L653.2,257.8 L650.1,257.1 L648.7,255.7 L647.0,252.9 L644.3,251.5 L642.2,253.1 L641.2,255.0 L637.4,255.0 L634.7,252.7 L631.8,253.1 L632.0,250.6 L633.6,249.7 L632.2,246.7 L628.5,244.6 L625.7,243.2 L622.9,243.2 L622.5,241.6 L621.1,240.5 L623.9,239.5 L621.1,238.6 L619.1,237.2Z M596.2,191.3 L599.2,191.3 L599.9,194.8 L599.0,197.6 L599.6,201.0 L602.2,201.9 L604.3,204.0 L604.4,205.2 L602.4,203.6 L600.0,202.4 L598.0,202.2 L597.5,200.6 L596.1,198.3 L595.5,196.4 L596.2,193.6Z M601.6,217.9 L602.4,215.5 L604.2,214.2 L606.1,214.4 L607.8,211.6 L609.6,214.4 L610.1,217.9 L609.3,219.5 L608.4,220.6 L607.7,219.0 L605.9,219.5 L605.4,217.2 L603.8,216.7Z M605.0,205.2 L607.3,205.6 L608.0,208.6 L606.8,210.5 L605.7,208.6Z M600.8,206.8 L602.7,207.5 L603.9,209.8 L603.6,212.8 L602.1,211.4 L601.0,209.8Z M592.3,214.4 L596.2,207.9 L595.9,209.8 L592.9,214.9Z M597.4,203.1 L599.3,203.3 L599.2,205.6Z M603.9,257.8 L607.0,255.0 L611.3,253.4 L608.9,255.4 L605.9,257.3Z M587.2,252.7 L589.4,253.4 L588.4,254.3Z M590.0,253.1 L591.3,253.4 L590.7,254.5Z M591.5,253.4 L595.7,253.1 L595.6,254.3 L591.8,254.8Z M597.4,253.4 L602.9,252.9 L602.9,254.3 L597.5,254.3Z M595.5,255.9 L598.9,256.8 L597.3,257.5Z M612.6,231.7 L613.5,228.9 L614.9,231.2 L614.5,233.3 L613.5,235.8 L613.0,234.0Z M613.4,240.9 L617.2,240.7 L618.7,242.1 L615.3,242.1Z M609.6,241.4 L611.9,241.6 L611.1,242.8Z M652.2,246.9 L656.0,246.7 L659.4,243.7 L659.3,245.5 L656.9,247.8 L654.0,248.5Z M656.9,240.0 L660.0,242.1 L660.9,244.6 L659.6,243.2Z M676.8,280.6 L680.9,283.6 L681.3,285.7 L678.8,284.3Z M77.9,188.3 L79.0,187.4 L79.8,189.0 L78.2,190.2Z M639.9,258.7 L641.3,262.8 L641.3,267.0 L643.9,268.6 L644.5,273.2 L644.4,277.1 L646.6,279.0 L648.4,280.8 L648.9,284.7 L650.7,287.5 L652.3,290.5 L653.9,292.8 L652.5,297.0 L652.5,300.0 L649.9,304.3 L647.4,308.5 L643.7,312.0 L640.0,316.3 L637.7,320.0 L637.1,320.7 L633.5,321.4 L629.3,324.2 L627.6,322.5 L627.0,322.3 L624.5,323.5 L621.6,322.3 L620.0,321.4 L619.9,318.9 L620.4,316.6 L619.0,316.1 L619.7,314.3 L620.0,311.3 L620.4,309.2 L618.0,311.7 L615.2,314.3 L614.4,313.1 L613.6,310.1 L612.9,308.3 L609.3,306.7 L605.2,307.1 L599.3,308.5 L595.1,310.1 L593.5,312.2 L587.1,312.4 L582.7,314.7 L579.2,314.5 L578.0,313.1 L578.6,311.3 L579.8,310.8 L580.8,307.8 L580.8,304.3 L581.1,301.3 L580.6,297.9 L580.1,294.4 L580.6,291.7 L581.6,288.2 L581.9,285.9 L583.1,284.3 L584.7,283.6 L588.2,281.5 L591.9,280.8 L594.6,279.9 L597.7,277.8 L599.4,275.5 L599.9,273.2 L602.1,273.9 L602.5,272.1 L604.5,270.4 L606.1,267.9 L608.8,266.3 L611.1,267.0 L611.7,268.6 L613.2,268.4 L614.7,265.8 L616.3,263.5 L617.3,262.6 L619.6,262.1 L621.0,260.3 L622.6,261.2 L625.3,261.9 L628.2,261.7 L628.9,262.6 L627.8,265.1 L626.6,267.4 L625.3,268.6 L627.0,270.9 L629.5,272.7 L632.1,274.4 L634.5,274.4 L636.2,270.9 L637.1,267.4 L637.6,264.0 L638.7,260.5Z M624.4,327.8 L627.0,328.7 L630.4,328.1 L629.0,330.8 L626.7,333.5 L624.3,334.4 L623.0,334.2 L623.1,331.9 L623.8,329.9Z M681.7,313.3 L682.9,315.4 L682.5,318.9 L684.4,318.6 L683.6,320.7 L685.9,321.4 L687.9,320.9 L685.5,323.5 L683.0,324.6 L682.0,326.2 L679.1,328.5 L676.4,329.9 L676.2,329.2 L678.0,327.1 L678.2,325.8 L677.4,324.6 L679.6,323.2 L681.4,320.5 L681.9,317.9 L681.6,315.2Z M673.7,327.4 L673.5,329.0 L674.7,330.1 L672.7,331.7 L669.2,334.2 L669.0,334.9 L665.1,336.3 L663.0,338.5 L661.5,339.7 L658.4,341.2 L656.4,341.2 L654.4,340.3 L655.0,339.0 L659.0,336.5 L661.7,335.1 L666.0,333.1 L668.7,331.3 L671.7,328.5Z M180.8,417.5 L187.5,406.7 L193.3,403.3 L203.3,400.8 L216.7,400.8 L230,400 L237.5,398.5 L243.3,397.5 L257.5,397.3 L266.7,396.7 L276.7,396.7 L281.2,391 L284.5,385.5 L289.3,381.7 L288,387 L287.5,391 L291.7,394 L295,398.3 L292,404 L284,405.5 L288,408 L293.3,409.3 L306.7,411.7 L313.3,413.3 L326.7,411.7 L336.7,406.7 L350,405 L363.3,396.7 L383.3,393.3 L390,392.8 L415,391 L430,387.3 L452.5,383.5 L465,382.3 L477.5,384.8 L475,391 L485,388.5 L502.5,384.8 L520,384.8 L540,384.8 L565,386 L585,389 L596.3,394.8 L588,398 L575,400 L565,404 L563,410 L570,415 L585,416 L597.5,417.3 L590,422.6 L191,422.6Z"/></clipPath>
</defs>
<g clip-path="url(#crop)">
<path d="M201.1,49.5 L198.4,50.4 L195.5,51.4 L192.4,52.5 L189.3,53.8 L186.0,55.1 L182.6,56.5 L179.1,58.0 L175.6,59.5 L172.0,61.1 L168.4,62.8 L164.8,64.6 L161.2,66.4 L157.8,68.2 L154.5,70.1 L151.3,71.9 L148.2,73.9 L145.2,75.8 L142.2,77.7 L139.3,79.7 L136.5,81.7 L133.7,83.7 L130.9,85.8 L128.1,87.8 L125.4,89.9 L122.7,92.0 L120.0,94.1 L117.4,96.3 L114.8,98.4 L112.2,100.6 L109.7,102.8 L107.2,105.0 L104.7,107.2 L102.3,109.4 L99.9,111.6 L97.6,113.9 L95.3,116.1 L93.1,118.4 L91.0,120.7 L89.0,122.9 L87.0,125.2 L85.0,127.5 L83.2,129.8 L81.3,132.2 L79.5,134.5 L77.7,136.8 L75.9,139.1 L74.2,141.5 L72.6,143.8 L71.0,146.1 L69.5,148.5 L68.1,150.8 L66.7,153.2 L65.4,155.5 L64.1,157.9 L62.8,160.3 L61.6,162.6 L60.5,165.0 L59.4,167.3 L58.4,169.7 L57.5,172.0 L56.6,174.4 L55.7,176.7 L55.0,179.1 L54.3,181.5 L53.6,183.8 L53.0,186.2 L52.4,188.5 L51.8,190.9 L51.2,193.2 L50.7,195.6 L50.1,197.9 L49.6,200.3 L49.1,202.7 L48.7,205.0 L48.3,207.4 L47.9,209.7 L47.6,212.1 L47.3,214.4 L47.0,216.8 L46.8,219.2 L46.5,221.5 L46.4,223.9 L46.2,226.2 L46.0,228.6 L45.9,230.9 L45.8,233.3 L45.7,235.6 L45.7,238.0 L45.7,240.4 L45.8,242.7 L45.9,245.1 L46.0,247.4 L46.2,249.8 L46.4,252.1 L46.5,254.5 L46.8,256.8 L47.0,259.2 L47.3,261.6 L47.6,263.9 L47.9,266.3 L48.3,268.6 L48.7,271.0 L49.1,273.3 L49.6,275.7 L50.1,278.1 L50.7,280.4 L51.2,282.8 L51.8,285.1 L52.4,287.5 L53.0,289.8 L53.6,292.2 L54.3,294.5 L55.0,296.9 L55.7,299.3 L56.6,301.6 L57.5,304.0 L58.4,306.3 L59.4,308.7 L60.5,311.0 L61.6,313.4 L62.8,315.7 L64.1,318.1 L65.4,320.5 L66.7,322.8 L68.1,325.2 L69.5,327.5 L71.0,329.9 L72.6,332.2 L74.2,334.5 L75.9,336.9 L77.7,339.2 L79.5,341.5 L81.3,343.8 L83.2,346.2 L85.0,348.5 L87.0,350.8 L89.0,353.1 L91.0,355.3 L93.1,357.6 L95.3,359.9 L97.6,362.1 L99.9,364.4 L102.3,366.6 L104.7,368.8 L107.2,371.0 L109.7,373.2 L112.2,375.4 L114.8,377.6 L117.4,379.7 L120.0,381.9 L122.7,384.0 L125.4,386.1 L128.1,388.2 L130.9,390.2 L133.7,392.3 L136.5,394.3 L139.3,396.3 L142.2,398.3 L145.2,400.2 L148.2,402.1 L151.3,404.1 L154.5,405.9 L157.8,407.8 L161.2,409.6 L164.8,411.4 L168.4,413.2 L172.0,414.9 L175.6,416.5 L179.1,418.0 L182.6,419.5 L186.0,420.9 L189.3,422.2 L192.4,423.5 L195.5,424.6 L198.4,425.6 L201.1,426.5 L576.3,426.5 L579.0,425.6 L581.9,424.6 L585.0,423.5 L588.1,422.2 L591.4,420.9 L594.8,419.5 L598.3,418.0 L601.8,416.5 L605.4,414.9 L609.0,413.2 L612.6,411.4 L616.2,409.6 L619.6,407.8 L622.9,405.9 L626.1,404.1 L629.2,402.1 L632.2,400.2 L635.2,398.3 L638.1,396.3 L640.9,394.3 L643.7,392.3 L646.5,390.2 L649.3,388.2 L652.0,386.1 L654.7,384.0 L657.4,381.9 L660.0,379.7 L662.6,377.6 L665.2,375.4 L667.7,373.2 L670.2,371.0 L672.7,368.8 L675.1,366.6 L677.5,364.4 L679.8,362.1 L682.1,359.9 L684.3,357.6 L686.4,355.3 L688.4,353.1 L690.4,350.8 L692.4,348.5 L694.2,346.2 L696.1,343.8 L697.9,341.5 L699.7,339.2 L701.5,336.9 L703.2,334.5 L704.8,332.2 L706.4,329.9 L707.9,327.5 L709.3,325.2 L710.7,322.8 L712.0,320.5 L713.3,318.1 L714.6,315.7 L715.8,313.4 L716.9,311.0 L718.0,308.7 L719.0,306.3 L719.9,304.0 L720.8,301.6 L721.7,299.3 L722.4,296.9 L723.1,294.5 L723.8,292.2 L724.4,289.8 L725.0,287.5 L725.6,285.1 L726.2,282.8 L726.7,280.4 L727.3,278.1 L727.8,275.7 L728.3,273.3 L728.7,271.0 L729.1,268.6 L729.5,266.3 L729.8,263.9 L730.1,261.6 L730.4,259.2 L730.6,256.8 L730.9,254.5 L731.0,252.1 L731.2,249.8 L731.4,247.4 L731.5,245.1 L731.6,242.7 L731.7,240.4 L731.7,238.0 L731.7,235.6 L731.6,233.3 L731.5,230.9 L731.4,228.6 L731.2,226.2 L731.0,223.9 L730.9,221.5 L730.6,219.2 L730.4,216.8 L730.1,214.4 L729.8,212.1 L729.5,209.7 L729.1,207.4 L728.7,205.0 L728.3,202.7 L727.8,200.3 L727.3,197.9 L726.7,195.6 L726.2,193.2 L725.6,190.9 L725.0,188.5 L724.4,186.2 L723.8,183.8 L723.1,181.5 L722.4,179.1 L721.7,176.7 L720.8,174.4 L719.9,172.0 L719.0,169.7 L718.0,167.3 L716.9,165.0 L715.8,162.6 L714.6,160.3 L713.3,157.9 L712.0,155.5 L710.7,153.2 L709.3,150.8 L707.9,148.5 L706.4,146.1 L704.8,143.8 L703.2,141.5 L701.5,139.1 L699.7,136.8 L697.9,134.5 L696.1,132.2 L694.2,129.8 L692.4,127.5 L690.4,125.2 L688.4,122.9 L686.4,120.7 L684.3,118.4 L682.1,116.1 L679.8,113.9 L677.5,111.6 L675.1,109.4 L672.7,107.2 L670.2,105.0 L667.7,102.8 L665.2,100.6 L662.6,98.4 L660.0,96.3 L657.4,94.1 L654.7,92.0 L652.0,89.9 L649.3,87.8 L646.5,85.8 L643.7,83.7 L640.9,81.7 L638.1,79.7 L635.2,77.7 L632.2,75.8 L629.2,73.9 L626.1,71.9 L622.9,70.1 L619.6,68.2 L616.2,66.4 L612.6,64.6 L609.0,62.8 L605.4,61.1 L601.8,59.5 L598.3,58.0 L594.8,56.5 L591.4,55.1 L588.1,53.8 L585.0,52.5 L581.9,51.4 L579.0,50.4 L576.3,49.5Z" fill="#fff" stroke="#3a3a3a" stroke-width="0.9"/>
<g clip-path="url(#globe)">
<path d="M141.8,80.4 L144.3,79.2 L154.2,76.5 L164.5,74.4 L169.0,75.6 L172.7,76.3 L177.8,77.1 L181.0,77.9 L186.2,79.2 L190.6,77.9 L195.6,77.1 L200.9,76.2 L202.7,78.1 L209.4,78.3 L215.3,79.2 L213.1,81.4 L220.4,81.2 L224.1,80.2 L228.5,80.0 L232.6,81.6 L237.0,81.4 L240.7,80.4 L242.9,77.1 L248.9,73.5 L249.3,75.2 L248.2,78.1 L249.4,80.0 L250.6,82.0 L254.2,81.0 L258.3,77.5 L262.3,77.7 L261.2,80.0 L258.3,83.0 L254.5,84.4 L251.9,84.0 L250.5,86.0 L246.8,88.0 L242.1,89.5 L236.9,91.5 L232.7,94.2 L229.4,97.4 L227.9,99.9 L230.0,100.1 L228.4,103.8 L232.3,103.8 L234.8,104.8 L238.2,107.0 L242.0,107.9 L239.9,112.5 L240.4,114.7 L242.0,116.5 L244.0,114.7 L246.2,110.3 L246.1,108.5 L251.4,105.9 L254.0,102.7 L252.5,99.9 L255.5,97.4 L257.9,92.3 L262.2,92.5 L265.7,94.2 L268.1,95.3 L267.1,98.4 L268.1,101.0 L272.0,99.5 L275.8,96.5 L276.8,100.5 L276.4,104.8 L277.8,107.0 L280.2,108.8 L280.8,111.4 L281.9,114.0 L279.6,115.8 L276.4,116.5 L273.1,118.7 L268.2,118.5 L262.4,118.7 L257.9,121.6 L253.1,125.4 L256.3,123.6 L262.2,121.1 L264.8,121.8 L263.0,123.6 L262.5,125.9 L263.2,127.7 L267.2,128.6 L270.2,127.0 L268.7,129.0 L263.7,131.3 L258.3,133.8 L258.0,132.0 L261.7,129.7 L257.2,130.4 L253.1,132.2 L249.8,134.5 L248.5,136.5 L249.5,137.9 L246.6,138.6 L242.4,139.7 L241.6,140.6 L240.5,142.9 L238.2,144.5 L236.7,147.5 L235.4,148.9 L235.3,152.6 L232.1,154.4 L229.9,155.8 L226.7,157.9 L223.3,160.2 L221.8,163.7 L222.4,168.3 L222.5,172.2 L221.4,175.6 L219.7,175.9 L219.0,173.6 L217.8,169.9 L218.4,167.1 L216.7,164.8 L213.9,165.3 L210.5,164.1 L207.8,164.1 L206.4,166.9 L203.5,166.4 L199.2,165.3 L196.1,166.7 L191.8,169.4 L190.2,174.0 L188.4,178.6 L187.7,182.6 L188.6,186.7 L190.0,189.7 L191.7,191.1 L193.5,192.0 L197.3,191.1 L199.8,189.7 L201.0,186.0 L201.9,185.3 L205.8,184.2 L208.0,184.6 L206.1,189.0 L205.1,192.0 L204.0,193.6 L202.6,197.1 L203.6,197.8 L207.8,197.3 L211.6,197.6 L212.9,199.4 L211.9,204.0 L211.2,207.5 L212.0,210.2 L213.7,212.8 L215.9,213.7 L218.1,212.6 L219.8,212.1 L222.8,213.9 L221.6,217.4 L220.6,215.1 L218.8,213.5 L217.0,215.1 L217.7,216.9 L214.5,216.5 L212.2,215.1 L210.8,214.2 L208.5,211.4 L207.1,208.9 L205.2,205.2 L204.2,203.6 L200.6,202.9 L197.0,201.7 L195.6,200.3 L192.8,196.9 L190.6,196.9 L188.0,197.8 L184.4,196.4 L181.9,195.3 L178.3,192.7 L175.4,191.1 L172.9,187.9 L172.9,184.4 L172.1,180.5 L169.9,176.3 L167.8,174.0 L166.6,170.6 L164.5,167.1 L164.4,162.5 L161.8,160.7 L161.3,163.7 L162.6,167.1 L163.0,170.6 L164.1,173.6 L165.0,177.5 L166.3,180.5 L165.3,181.2 L165.0,179.8 L162.3,177.3 L162.6,174.0 L160.0,171.3 L158.5,169.9 L160.5,168.3 L158.6,164.8 L158.1,160.7 L158.1,158.8 L156.9,155.6 L153.6,154.4 L153.3,149.6 L153.5,146.8 L153.1,142.9 L153.2,140.9 L155.5,137.2 L156.3,134.9 L161.5,127.7 L163.5,122.7 L166.6,123.6 L167.6,121.4 L167.1,119.1 L162.9,116.9 L163.5,113.6 L162.2,109.6 L162.3,105.9 L162.4,101.6 L163.7,99.5 L161.7,99.9 L160.8,97.8 L157.4,97.4 L154.3,97.4 L153.1,95.7 L149.9,95.9 L145.5,97.8 L140.6,99.1 L144.1,96.3 L148.0,94.8 L144.0,95.7 L138.7,98.4 L134.4,101.0 L128.3,103.8 L122.9,105.9 L117.1,107.7 L112.7,108.8 L109.6,109.0 L115.4,107.0 L119.7,105.9 L127.1,102.7 L131.5,100.1 L129.2,100.1 L126.1,100.1 L123.5,100.3 L127.0,97.4 L124.4,96.3 L124.7,94.2 L129.3,91.7 L133.6,90.7 L138.0,89.5 L139.9,88.0 L136.9,88.0 L131.9,88.0 L132.5,85.8 L137.1,84.6 L140.8,84.0 L143.6,84.6 L145.0,83.0 L144.1,81.6Z" fill="#3288bd"/>
<path d="M287.9,61.7 L296.4,59.3 L301.7,57.4 L308.6,56.3 L320.6,55.6 L332.8,54.4 L341.9,54.1 L349.4,54.7 L354.4,56.3 L363.3,57.0 L357.9,59.3 L355.0,60.9 L352.9,63.4 L352.7,66.0 L350.2,67.8 L350.3,69.6 L346.9,72.4 L345.7,74.3 L345.1,76.2 L342.3,76.7 L343.4,77.5 L338.5,80.0 L332.7,80.8 L327.8,83.0 L322.7,85.2 L317.4,86.0 L315.2,88.0 L312.6,91.1 L310.0,94.2 L307.9,96.9 L306.4,97.8 L304.0,96.1 L300.8,94.6 L299.6,92.1 L298.7,89.0 L298.7,86.0 L298.7,83.0 L300.6,80.6 L304.2,79.0 L300.7,76.5 L301.7,74.3 L301.6,71.4 L301.5,68.7 L300.0,66.4 L295.3,65.8 L290.1,66.0 L287.9,64.2Z" fill="#f46d43"/>
<path d="M287.1,83.6 L281.6,87.0 L280.1,91.1 L277.3,92.1 L276.4,91.1 L273.5,89.7 L275.1,93.4 L272.5,92.8 L268.8,91.5 L266.2,88.4 L261.1,88.4 L261.3,87.0 L267.7,86.0 L269.7,84.0 L272.4,81.0 L269.6,79.0 L267.5,77.1 L262.7,77.1 L258.6,77.1 L255.3,76.2 L254.7,73.7 L257.7,70.5 L264.7,70.0 L269.8,70.2 L272.3,71.8 L275.4,72.9 L279.5,74.6 L281.6,76.5 L282.3,78.7 L284.4,82.0Z" fill="#f46d43"/>
<path d="M214.4,77.5 L216.6,80.0 L223.3,79.6 L229.4,79.0 L235.5,77.7 L233.8,75.2 L236.6,71.8 L233.5,71.1 L227.4,71.8 L220.5,71.4 L215.9,74.3 L215.8,76.2Z" fill="#f46d43"/>
<path d="M208.1,73.5 L209.2,74.8 L213.2,74.3 L217.4,72.4 L222.1,70.2 L225.4,69.1 L219.4,68.7 L213.0,70.2 L209.5,72.4Z" fill="#f46d43"/>
<path d="M263.3,65.1 L275.3,65.6 L280.7,63.4 L285.5,61.7 L290.8,60.1 L299.9,58.0 L306.7,55.9 L300.9,54.9 L289.8,54.8 L277.0,55.9 L270.5,57.3 L274.8,58.5 L270.7,60.9 L271.2,62.5Z" fill="#f46d43"/>
<path d="M255.2,64.6 L262.5,64.8 L262.8,66.2 L274.1,66.9 L273.1,68.3 L264.7,68.7 L257.3,68.3 L253.1,66.9Z" fill="#f46d43"/>
<path d="M264.3,58.5 L271.1,57.7 L272.9,60.1 L265.5,62.2 L261.7,60.9Z" fill="#f46d43"/>
<path d="M226.5,67.3 L230.7,65.1 L238.2,65.1 L242.1,66.0 L240.5,67.8 L233.9,68.5 L228.9,68.3Z" fill="#f46d43"/>
<path d="M241.0,71.4 L245.4,69.8 L248.5,70.5 L246.4,73.3 L242.0,74.4 L239.0,73.3Z" fill="#f46d43"/>
<path d="M251.4,69.6 L257.3,69.6 L256.1,71.4 L251.1,73.3 L249.2,71.8Z" fill="#f46d43"/>
<path d="M245.8,65.1 L253.5,64.9 L251.2,67.4 L245.0,67.8 L243.8,66.7Z" fill="#f46d43"/>
<path d="M237.0,79.0 L241.3,77.3 L243.2,78.3 L241.2,79.8 L237.5,80.0Z" fill="#f46d43"/>
<path d="M248.7,86.4 L252.6,85.0 L254.9,85.8 L256.0,88.4 L254.2,90.1 L250.2,90.5 L247.8,89.7 L247.2,88.4Z" fill="#f46d43"/>
<path d="M272.2,124.5 L274.4,122.0 L277.8,118.0 L281.4,115.8 L279.9,118.0 L280.6,119.3 L283.1,120.5 L283.4,122.5 L283.3,124.7 L281.7,126.5 L280.6,125.2 L278.1,126.1 L276.9,124.5Z" fill="#5e4fa2"/>
<path d="M161.1,117.6 L164.3,118.5 L165.0,120.2 L165.7,122.7 L163.8,122.3 L162.0,120.5 L160.5,119.1Z" fill="#3288bd"/>
<path d="M159.5,110.1 L161.4,110.3 L158.9,114.2 L158.2,112.5Z" fill="#3288bd"/>
<path d="M132.8,102.5 L136.5,101.2 L136.4,102.5 L132.8,104.0Z" fill="#3288bd"/>
<path d="M211.7,183.5 L214.6,181.4 L217.5,180.5 L220.2,180.7 L222.8,182.3 L225.4,183.7 L228.0,185.3 L231.2,187.4 L229.6,188.1 L224.5,188.3 L225.7,186.5 L223.3,185.6 L221.7,184.0 L219.0,183.0 L217.2,182.3 L214.4,182.8 L212.8,183.7Z" fill="#abdda4"/>
<path d="M230.4,191.1 L232.6,188.3 L233.7,188.1 L235.7,188.3 L238.9,188.6 L240.7,189.5 L241.6,191.1 L239.5,191.6 L237.6,192.0 L235.4,193.2 L233.8,192.0 L231.4,192.3Z" fill="#d53e4f"/>
<path d="M223.0,191.6 L225.5,191.3 L226.8,192.5 L225.3,192.9 L222.9,192.3Z" fill="#d53e4f"/>
<path d="M243.8,191.6 L246.6,191.6 L246.5,192.5 L243.7,192.5Z" fill="#f46d43"/>
<path d="M221.9,66.0 L227.5,63.9 L232.6,63.4 L228.3,65.5 L224.8,66.2Z" fill="#f46d43"/>
<path d="M247.9,62.5 L251.9,60.5 L258.6,59.6 L258.2,61.2 L252.4,62.9Z" fill="#f46d43"/>
<path d="M256.5,62.5 L260.1,61.2 L261.4,62.0 L258.5,62.9Z" fill="#f46d43"/>
<path d="M252.1,67.8 L255.2,66.7 L256.3,67.4 L254.1,68.3Z" fill="#f46d43"/>
<path d="M237.2,63.2 L241.8,61.7 L243.5,62.2 L239.8,63.6Z" fill="#f46d43"/>
<path d="M250.7,91.5 L252.6,91.3 L252.7,92.3 L250.5,92.8Z" fill="#f46d43"/>
<path d="M254.5,92.3 L255.6,92.3 L254.7,94.0 L253.7,93.8Z" fill="#f46d43"/>
<path d="M265.4,119.3 L268.5,119.8 L269.4,121.1 L266.6,120.7Z" fill="#5e4fa2"/>
<path d="M263.0,126.5 L265.2,126.8 L266.9,127.0 L265.6,128.1 L263.5,127.9Z" fill="#5e4fa2"/>
<path d="M266.0,81.2 L268.2,81.0 L268.5,82.0 L266.4,82.6Z" fill="#f46d43"/>
<path d="M222.8,213.9 L223.8,215.5 L225.5,212.6 L226.6,209.6 L228.0,208.4 L230.5,207.9 L233.1,206.6 L234.8,205.4 L235.3,207.5 L237.2,207.2 L237.6,205.9 L239.9,209.1 L240.8,209.8 L244.6,209.6 L247.4,210.5 L250.3,209.3 L252.2,209.6 L251.2,210.9 L254.0,212.1 L254.3,214.4 L256.7,215.5 L258.5,217.9 L260.3,219.7 L264.1,220.4 L267.0,220.6 L269.8,222.5 L271.6,223.9 L272.5,225.9 L274.4,229.8 L274.4,232.8 L277.2,235.2 L279.1,235.6 L283.0,237.5 L285.3,239.8 L288.7,240.2 L293.5,240.5 L296.4,242.5 L299.3,245.1 L302.5,246.2 L303.6,250.6 L303.3,254.8 L300.5,258.2 L298.8,261.2 L297.0,264.0 L296.3,268.6 L296.5,273.2 L295.8,276.7 L295.1,280.1 L293.5,284.3 L291.9,287.0 L289.1,287.0 L286.4,288.4 L283.8,289.8 L281.3,292.8 L280.6,296.3 L280.6,299.7 L278.9,303.2 L277.6,306.2 L275.5,310.1 L274.2,312.4 L272.1,314.5 L269.7,314.5 L266.2,313.1 L265.3,312.4 L268.2,315.9 L269.1,318.2 L268.8,321.6 L265.9,323.5 L261.6,323.9 L262.3,327.6 L257.7,328.5 L258.5,331.3 L261.1,332.2 L259.3,333.5 L259.8,337.6 L257.1,339.9 L260.6,342.6 L261.6,344.4 L260.1,347.8 L259.1,349.5 L259.5,352.2 L261.3,354.2 L261.7,355.5 L264.4,357.7 L268.7,359.2 L267.2,360.3 L265.2,361.2 L261.6,360.3 L257.5,358.4 L252.9,355.5 L249.6,352.2 L246.3,346.6 L244.5,342.1 L244.8,338.8 L244.4,335.4 L244.5,330.8 L242.7,329.7 L241.7,325.1 L240.1,319.8 L240.3,315.9 L240.8,310.1 L240.1,305.5 L239.1,300.9 L239.4,296.3 L239.4,291.7 L239.2,288.2 L238.9,282.4 L238.0,276.7 L235.5,273.9 L232.5,272.1 L228.0,269.1 L225.7,266.1 L223.6,261.7 L221.4,257.1 L219.7,252.9 L217.8,249.9 L215.2,247.8 L214.9,244.8 L216.7,241.8 L217.5,239.8 L215.5,239.3 L216.1,236.3 L217.2,233.8 L217.2,232.2 L219.5,230.5 L220.1,228.2 L222.0,227.8 L222.7,224.8 L222.2,221.3 L222.5,219.0 L221.6,217.4Z" fill="#f46d43"/>
<path d="M272.5,352.9 L274.8,351.8 L277.9,352.4 L277.2,353.8 L274.9,354.0Z" fill="#66c2a5"/>
<path d="M252.4,209.3 L254.1,209.1 L254.0,210.7 L252.3,210.7Z" fill="#66c2a5"/>
<path d="M360.2,151.4 L361.3,151.2 L365.4,152.6 L367.2,153.0 L370.8,151.4 L373.5,149.8 L376.2,149.1 L379.8,149.1 L384.2,148.7 L388.3,148.0 L389.2,149.1 L390.5,148.7 L389.8,150.1 L389.8,152.1 L390.5,154.9 L388.9,155.1 L390.0,156.5 L391.4,157.4 L394.5,158.1 L398.1,159.5 L399.1,161.8 L402.4,162.7 L405.1,164.1 L406.9,162.5 L406.9,159.7 L409.5,158.1 L412.3,158.8 L416.0,161.1 L419.7,161.8 L423.4,162.7 L425.1,161.8 L426.9,161.3 L429.3,162.0 L430.0,164.8 L431.4,168.7 L433.0,171.7 L434.1,175.2 L436.1,178.6 L436.5,181.0 L438.9,183.3 L439.5,185.6 L439.8,188.6 L442.2,192.5 L444.1,198.0 L446.3,199.9 L448.6,202.9 L451.3,204.7 L451.8,207.5 L454.1,210.0 L458.8,208.4 L462.6,207.9 L466.7,206.8 L466.6,210.0 L465.6,213.2 L463.8,218.3 L461.0,223.6 L457.3,228.7 L455.9,229.4 L452.5,232.8 L449.7,235.8 L448.7,237.9 L446.4,240.0 L445.2,243.2 L443.9,247.8 L444.8,250.1 L444.5,253.6 L445.2,257.1 L446.5,258.4 L446.6,262.8 L446.7,267.4 L446.4,269.7 L444.2,272.5 L440.4,275.1 L438.0,277.4 L435.3,279.7 L434.9,282.0 L436.1,284.7 L436.1,289.4 L432.3,292.1 L430.5,294.0 L430.9,297.4 L429.6,300.4 L427.1,303.0 L425.1,306.2 L421.9,309.7 L419.4,311.5 L417.0,312.4 L413.0,312.6 L410.3,312.9 L406.7,314.3 L404.0,313.1 L403.7,310.1 L403.6,307.3 L402.0,304.3 L400.6,300.0 L398.3,295.8 L397.8,291.7 L397.1,286.6 L395.2,282.4 L393.4,277.4 L392.1,273.9 L392.1,270.4 L393.4,265.1 L395.3,262.6 L395.9,258.9 L394.8,254.3 L393.1,248.1 L392.1,244.8 L390.6,242.5 L388.1,239.3 L386.4,235.6 L387.7,232.8 L388.3,229.4 L388.1,225.9 L387.7,224.8 L386.0,223.6 L383.0,223.9 L381.1,224.1 L379.2,221.3 L378.2,219.5 L376.2,219.2 L372.0,219.9 L368.7,221.3 L365.9,222.9 L363.6,222.2 L362.1,221.8 L358.3,222.9 L355.4,223.9 L352.5,222.0 L349.1,219.5 L347.8,218.1 L345.9,216.7 L344.6,214.4 L344.5,212.1 L343.2,210.7 L341.3,208.6 L339.8,206.8 L338.2,205.4 L338.0,202.9 L336.8,200.1 L338.8,197.1 L339.3,192.5 L339.6,189.5 L339.1,187.9 L338.3,185.6 L338.5,182.8 L340.4,179.3 L342.6,175.2 L343.4,173.3 L345.6,170.6 L346.5,169.7 L349.2,168.3 L351.7,166.4 L352.7,163.9 L352.7,161.3 L354.8,157.9 L356.9,156.5 L358.4,155.4 L359.6,152.8Z" fill="#d53e4f"/>
<path d="M463.1,261.7 L464.3,265.1 L465.0,269.7 L463.7,270.9 L462.9,274.4 L461.8,279.0 L460.2,283.6 L458.4,288.2 L457.3,291.7 L454.4,292.8 L452.3,291.7 L451.0,288.2 L450.8,284.7 L452.9,280.1 L452.5,276.7 L453.3,272.1 L455.6,270.4 L458.5,268.6 L460.5,265.8 L462.1,263.5Z" fill="#d53e4f"/>
<path d="M521.1,211.6 L522.1,212.1 L524.1,214.4 L525.2,217.2 L524.7,219.2 L522.8,220.4 L521.8,219.5 L521.3,216.7 L521.4,214.2Z" fill="#d53e4f"/>
<path d="M410.1,75.0 L413.1,75.2 L417.3,76.3 L416.2,77.7 L420.4,78.3 L424.6,78.7 L432.3,81.6 L433.1,83.4 L432.9,84.0 L428.8,84.8 L424.3,84.0 L421.4,83.6 L424.0,86.0 L425.0,88.2 L428.3,89.5 L429.5,88.4 L433.0,87.8 L431.9,86.0 L434.3,84.2 L437.3,84.6 L436.5,81.4 L435.3,79.8 L439.0,80.6 L439.7,83.0 L442.2,81.8 L447.3,80.2 L450.2,80.6 L454.1,79.8 L457.1,80.2 L458.6,78.9 L458.0,77.5 L463.3,78.5 L467.5,79.2 L467.2,78.1 L465.7,75.6 L464.9,73.3 L466.6,71.6 L471.4,71.8 L473.1,74.3 L476.5,80.0 L477.0,84.0 L479.6,83.4 L478.6,80.0 L475.3,75.2 L474.8,72.0 L479.2,72.7 L482.9,73.3 L484.0,76.2 L488.3,76.5 L485.3,73.9 L481.1,70.5 L487.6,69.6 L487.5,67.8 L491.5,66.5 L495.9,65.8 L501.6,65.1 L504.7,63.0 L509.4,64.2 L516.6,65.1 L520.5,66.9 L520.5,68.7 L516.3,71.1 L519.7,70.5 L523.7,70.5 L527.4,70.3 L532.3,71.3 L537.4,71.1 L537.7,70.2 L542.2,70.7 L545.7,71.4 L548.1,73.7 L549.4,75.6 L552.8,75.6 L554.1,74.3 L559.5,74.3 L560.6,72.4 L561.3,71.8 L567.9,72.4 L576.2,73.7 L581.1,75.4 L587.6,75.2 L594.1,77.1 L596.7,78.1 L601.9,77.9 L605.3,77.3 L608.5,77.1 L611.2,78.7 L615.2,77.5 L620.6,78.5 L624.5,79.2 L630.3,80.4 L637.1,82.8 L641.6,83.2 L646.7,84.8 L646.5,86.0 L647.3,88.2 L643.8,87.8 L639.3,86.0 L633.6,84.4 L634.9,86.0 L634.5,86.8 L633.2,88.0 L631.9,87.6 L638.4,91.1 L640.9,92.5 L636.2,94.2 L632.9,95.3 L632.6,97.4 L626.5,97.8 L622.3,97.4 L625.3,100.5 L624.8,102.0 L629.0,104.8 L630.1,105.5 L631.0,108.5 L630.9,112.0 L629.8,113.6 L629.6,116.9 L625.4,113.6 L621.0,108.1 L616.3,103.8 L616.6,101.6 L617.3,98.4 L618.9,96.3 L618.9,94.2 L617.4,92.1 L613.0,93.6 L608.8,93.8 L610.4,98.4 L606.8,99.5 L603.3,98.2 L596.8,98.6 L592.4,98.8 L591.1,102.7 L589.9,105.9 L588.4,108.8 L593.3,110.3 L595.7,110.3 L600.1,111.8 L602.4,114.2 L603.8,118.0 L605.7,121.4 L605.6,124.7 L605.4,128.6 L603.8,131.7 L601.5,135.4 L599.2,134.7 L598.1,136.5 L597.4,138.6 L598.0,139.9 L595.3,142.2 L595.7,143.6 L598.1,145.0 L601.4,148.7 L602.7,152.1 L602.4,153.0 L600.0,154.0 L598.3,154.7 L597.5,151.9 L596.6,149.1 L595.8,147.3 L593.8,147.1 L592.1,145.2 L592.0,143.2 L589.7,142.0 L587.0,143.4 L585.1,144.5 L584.7,141.1 L584.1,139.7 L581.1,142.0 L578.9,143.8 L580.7,146.1 L582.6,148.0 L585.4,146.8 L588.9,147.8 L586.8,149.8 L585.9,150.7 L585.0,153.3 L587.5,155.1 L589.7,158.6 L592.3,161.1 L592.8,162.7 L590.6,163.9 L593.7,165.0 L593.8,168.3 L592.6,170.1 L591.5,173.3 L590.7,175.6 L589.3,177.5 L587.2,180.3 L582.9,182.6 L581.7,183.0 L579.0,184.0 L576.4,184.9 L576.1,187.2 L575.0,184.6 L572.5,184.0 L570.8,184.9 L569.5,186.3 L568.2,189.5 L570.0,192.9 L572.6,195.9 L573.9,197.1 L576.1,201.7 L576.6,205.2 L576.2,207.5 L573.6,209.8 L572.3,210.2 L571.8,212.1 L569.1,214.2 L568.9,210.9 L566.9,209.8 L564.9,208.2 L563.8,205.9 L560.9,204.7 L559.8,202.9 L558.9,203.3 L558.7,206.8 L557.8,209.8 L558.2,212.8 L560.0,214.6 L560.9,217.4 L563.2,218.8 L564.6,220.2 L566.4,222.9 L566.5,225.9 L567.8,228.9 L568.2,230.8 L566.7,230.8 L564.3,228.7 L562.6,227.1 L561.4,224.3 L560.5,221.3 L559.8,219.0 L558.8,216.7 L556.8,215.1 L556.6,211.4 L556.8,208.6 L556.4,205.2 L555.3,201.7 L554.0,198.3 L553.6,195.9 L551.5,195.3 L549.4,197.6 L547.5,197.1 L547.5,193.6 L546.6,190.4 L545.0,188.1 L542.5,185.6 L541.2,182.6 L539.3,182.1 L538.5,183.5 L536.1,183.7 L534.6,184.0 L532.5,184.6 L532.3,186.7 L531.3,188.1 L529.2,189.3 L527.6,191.6 L526.4,193.4 L524.8,195.7 L522.8,197.1 L521.2,198.3 L521.1,201.7 L521.6,203.8 L520.9,206.8 L521.1,210.2 L519.7,212.6 L518.2,213.7 L516.9,215.3 L514.9,213.2 L514.3,210.9 L512.7,207.0 L511.3,204.0 L509.8,199.9 L509.0,198.3 L507.5,193.6 L506.4,190.2 L506.0,186.7 L505.6,184.4 L505.2,182.8 L504.5,185.3 L502.7,186.0 L500.8,185.1 L498.7,182.6 L500.4,181.0 L497.5,180.3 L495.6,178.9 L494.4,176.8 L493.4,175.4 L489.7,175.9 L485.1,176.1 L484.1,175.9 L480.4,175.4 L477.2,174.7 L475.5,172.2 L474.1,171.5 L471.5,172.7 L468.0,171.7 L465.1,169.7 L463.6,167.1 L461.9,164.6 L459.8,163.9 L458.2,165.0 L458.4,166.4 L459.5,168.5 L461.2,171.0 L463.0,172.7 L463.2,175.2 L464.4,176.8 L464.9,174.3 L465.1,173.8 L465.8,176.3 L465.4,177.7 L467.6,178.2 L470.4,178.2 L472.6,175.6 L474.1,173.6 L474.7,176.3 L476.0,178.6 L478.9,179.6 L481.5,182.1 L480.0,186.7 L478.3,190.2 L477.0,192.5 L474.2,193.6 L471.5,194.8 L468.2,196.6 L466.0,198.7 L462.7,200.3 L459.6,202.4 L454.9,204.5 L452.1,204.7 L451.5,202.9 L450.6,199.4 L450.3,195.9 L447.9,192.5 L445.8,189.0 L443.2,184.9 L441.8,181.0 L439.8,178.0 L437.7,174.0 L435.1,169.4 L434.3,166.0 L433.4,169.4 L433.3,169.9 L431.5,167.6 L430.1,165.0 L429.3,162.0 L432.1,162.3 L433.3,161.1 L433.7,159.0 L434.0,157.9 L434.7,155.8 L435.2,152.8 L435.2,150.5 L435.4,149.1 L433.3,149.6 L431.6,150.3 L428.9,150.7 L425.6,149.1 L423.6,150.5 L421.2,149.4 L419.5,148.4 L418.8,145.5 L417.2,143.4 L417.1,141.8 L419.4,140.9 L422.0,140.9 L422.4,139.0 L421.0,139.3 L419.3,139.5 L417.6,140.6 L416.7,139.7 L414.0,139.7 L412.9,140.9 L413.8,141.3 L413.3,141.8 L412.0,141.3 L411.3,140.4 L410.8,141.8 L411.6,143.4 L411.7,144.3 L413.5,145.9 L413.6,147.1 L412.1,146.6 L412.0,147.8 L411.9,149.8 L410.8,149.8 L410.3,148.7 L409.6,149.1 L408.8,147.1 L409.1,145.7 L408.2,145.5 L407.8,144.1 L406.6,142.7 L406.1,141.1 L405.1,139.9 L405.1,138.1 L404.7,137.2 L403.4,136.1 L400.8,134.5 L399.0,133.6 L397.6,132.2 L396.4,129.9 L394.8,130.4 L395.0,128.8 L392.6,129.5 L392.8,132.0 L394.7,133.6 L396.0,136.1 L399.1,137.4 L399.2,138.6 L400.9,139.3 L403.6,141.6 L403.3,142.2 L401.0,140.6 L400.3,142.5 L401.2,144.1 L400.2,145.5 L399.3,146.4 L398.7,146.5 L399.1,145.0 L399.5,143.4 L398.5,141.8 L397.3,141.1 L396.2,139.9 L395.0,139.0 L393.1,138.1 L392.5,137.7 L390.4,136.3 L389.6,134.9 L389.0,132.9 L387.8,132.0 L386.8,131.7 L385.3,132.9 L384.1,133.3 L382.1,134.7 L380.6,134.2 L378.4,133.8 L376.8,134.7 L376.7,136.3 L376.9,137.4 L375.1,138.6 L372.6,139.9 L371.1,142.2 L370.6,143.2 L371.4,144.5 L369.9,146.1 L369.5,147.3 L367.7,148.4 L366.8,149.1 L364.6,149.4 L363.0,149.4 L361.3,150.7 L360.1,150.5 L359.5,149.1 L358.4,148.2 L356.6,148.7 L354.9,148.7 L355.4,145.5 L354.2,144.8 L355.3,141.8 L356.1,139.0 L355.9,136.7 L355.4,134.9 L357.7,133.3 L361.1,133.6 L364.6,134.0 L368.0,134.0 L368.9,133.8 L369.3,131.5 L369.8,129.0 L369.7,127.7 L368.1,125.4 L366.9,124.5 L364.5,123.8 L364.1,122.7 L366.2,121.8 L368.7,122.3 L369.5,122.0 L369.3,119.8 L370.1,120.5 L372.3,120.2 L374.7,118.9 L374.9,117.3 L376.4,116.7 L378.2,116.0 L378.9,114.7 L380.1,112.7 L381.3,111.8 L383.9,111.6 L385.6,111.2 L386.5,110.5 L386.9,110.1 L386.6,108.5 L385.8,107.0 L385.7,104.6 L386.5,103.5 L388.5,102.5 L389.6,102.3 L389.3,104.8 L390.1,105.1 L389.0,106.4 L388.2,107.2 L388.1,108.3 L388.7,109.2 L390.3,109.4 L390.3,110.3 L392.2,109.8 L394.3,109.2 L395.6,110.5 L398.3,109.6 L401.5,108.5 L402.5,109.4 L404.1,109.4 L404.6,108.3 L406.2,107.4 L406.2,105.5 L405.9,103.8 L406.8,102.7 L408.3,102.3 L409.3,103.8 L410.8,103.8 L411.0,101.8 L411.1,100.8 L409.5,100.1 L409.4,99.1 L411.2,98.4 L413.1,98.2 L416.2,98.4 L418.4,97.6 L419.5,97.6 L418.3,96.9 L416.7,96.1 L414.4,96.3 L411.5,96.9 L408.5,97.6 L407.2,96.5 L405.7,95.3 L405.6,93.2 L405.3,91.1 L407.0,89.5 L409.0,87.6 L411.0,87.0 L410.3,85.8 L409.1,85.4 L407.4,85.4 L406.0,86.0 L405.4,87.4 L404.8,89.0 L403.8,89.7 L402.0,90.7 L400.6,92.1 L399.7,93.2 L399.7,95.3 L399.6,95.9 L401.6,96.9 L402.3,97.8 L401.1,98.8 L400.3,100.1 L399.1,101.2 L399.0,102.7 L398.7,104.6 L397.8,105.7 L396.1,105.7 L395.5,107.0 L393.5,107.2 L393.1,106.1 L393.0,105.5 L392.6,104.0 L391.7,102.3 L390.6,100.5 L390.4,99.3 L389.6,97.6 L389.2,99.1 L387.9,99.7 L386.4,101.2 L385.6,101.4 L384.0,101.6 L382.1,100.1 L381.4,98.4 L381.3,96.5 L381.2,94.6 L381.5,93.2 L383.5,91.7 L385.5,90.7 L386.9,89.9 L388.7,89.9 L388.7,88.6 L390.6,87.2 L391.9,85.8 L392.7,84.4 L393.7,83.0 L395.0,82.2 L396.1,81.0 L397.8,80.0 L399.1,79.0 L400.9,77.7 L403.1,77.1 L405.1,76.3 L407.0,75.6Z" fill="#ffffbf"/>
<path d="M362.8,118.9 L366.4,118.5 L367.3,117.6 L370.6,117.6 L372.7,117.3 L374.6,116.5 L373.6,115.8 L375.2,113.1 L373.0,112.5 L372.8,111.2 L372.3,110.1 L370.8,109.0 L370.3,107.0 L369.5,105.9 L368.2,105.9 L369.1,104.6 L370.0,102.7 L367.7,102.3 L366.6,102.7 L368.3,100.5 L365.6,100.3 L364.2,102.0 L364.2,104.8 L363.2,105.3 L364.1,107.0 L365.3,106.6 L364.8,108.5 L367.2,108.3 L367.8,110.3 L367.7,111.6 L365.3,111.8 L365.6,113.6 L363.9,114.9 L365.5,115.6 L367.4,116.0 L364.9,116.9 L363.6,118.5Z" fill="#abdda4"/>
<path d="M356.0,115.6 L358.5,115.6 L362.2,114.2 L362.9,111.8 L363.9,109.2 L362.8,107.7 L360.9,107.4 L359.1,109.2 L356.7,109.8 L356.8,111.8 L357.4,113.4 L355.6,114.5Z" fill="#66c2a5"/>
<path d="M339.0,86.0 L342.3,84.2 L344.9,85.6 L348.0,84.6 L351.7,84.0 L353.5,85.4 L354.7,87.0 L352.2,88.4 L347.5,90.3 L343.9,90.1 L340.8,89.5 L342.1,88.0 L339.4,87.2Z" fill="#5e4fa2"/>
<path d="M389.9,61.2 L393.5,59.6 L398.2,59.3 L402.8,58.8 L408.8,59.1 L405.6,60.9 L402.1,61.7 L402.9,63.4 L398.7,64.9 L394.9,64.2 L393.0,62.5Z" fill="#3288bd"/>
<path d="M442.7,79.0 L442.1,77.1 L445.4,74.8 L447.1,72.4 L449.0,70.5 L450.7,70.0 L451.1,72.4 L449.6,75.2 L453.3,76.0 L450.6,76.2 L446.9,75.4 L445.4,76.7Z" fill="#ffffff"/>
<path d="M447.7,70.5 L447.5,68.7 L449.8,66.9 L454.2,65.6 L458.5,64.4 L462.3,64.6 L460.7,66.0 L455.1,67.3 L452.2,69.1 L450.7,70.0Z" fill="#ffffff"/>
<path d="M491.9,60.5 L494.1,59.3 L499.7,60.1 L504.0,61.7 L499.7,62.2 L495.4,61.5Z" fill="#ffffff"/>
<path d="M485.8,59.3 L488.5,57.4 L492.0,58.5 L489.7,59.6Z" fill="#ffffff"/>
<path d="M550.9,67.3 L554.2,66.0 L561.9,66.9 L567.8,67.4 L566.5,68.3 L558.5,68.2 L554.3,68.3Z" fill="#ffffff"/>
<path d="M616.7,75.2 L617.3,74.3 L619.3,75.6Z" fill="#ffffff"/>
<path d="M600.0,109.6 L603.3,111.8 L606.8,115.8 L610.3,120.2 L612.7,121.4 L610.5,121.8 L612.7,125.9 L614.6,127.0 L613.1,128.1 L610.7,124.7 L608.5,121.4 L605.1,116.9 L601.8,112.5Z" fill="#ffffbf"/>
<path d="M613.1,129.5 L617.6,132.0 L620.9,132.2 L622.4,134.2 L620.0,135.2 L620.1,137.2 L617.0,135.8 L615.7,136.1 L615.7,138.3 L614.0,136.1 L613.8,134.2 L615.3,133.8Z" fill="#3288bd"/>
<path d="M616.8,138.3 L619.0,140.6 L621.1,142.9 L621.6,145.7 L621.3,147.1 L622.2,149.8 L622.6,152.8 L621.7,152.8 L620.6,152.8 L620.4,154.0 L619.3,154.0 L617.7,154.2 L617.1,154.9 L616.4,156.7 L615.1,156.7 L614.2,154.9 L612.6,154.0 L610.3,154.9 L608.8,155.8 L606.9,155.6 L606.4,154.2 L608.4,152.4 L610.9,151.9 L613.6,151.9 L614.3,150.5 L614.7,148.9 L614.9,147.5 L615.7,149.1 L617.2,147.8 L617.8,145.2 L617.6,142.9 L616.4,140.6 L615.9,139.0Z" fill="#3288bd"/>
<path d="M607.0,155.8 L609.2,157.9 L609.5,160.2 L609.1,161.8 L607.7,162.0 L607.0,159.7 L605.8,158.3 L605.2,157.2 L606.1,155.8Z" fill="#3288bd"/>
<path d="M609.4,155.8 L611.2,154.9 L613.4,155.1 L613.1,156.7 L611.4,157.9 L610.6,158.3Z" fill="#3288bd"/>
<path d="M595.3,175.6 L596.4,176.3 L596.1,179.8 L595.4,183.5 L593.9,181.4 L593.5,179.1 L594.5,176.3Z" fill="#abdda4"/>
<path d="M573.7,189.5 L574.9,187.9 L577.1,187.6 L577.9,188.8 L577.2,190.9 L575.5,192.0 L573.9,191.1Z" fill="#f46d43"/>
<path d="M393.0,146.4 L394.9,145.9 L398.6,145.7 L398.0,148.2 L397.6,149.4 L395.8,148.7 L393.1,147.3Z" fill="#66c2a5"/>
<path d="M385.6,139.7 L387.3,139.0 L388.2,140.6 L388.0,143.6 L386.9,144.1 L385.9,143.6 L386.1,141.3Z" fill="#66c2a5"/>
<path d="M386.3,136.3 L387.7,134.9 L387.8,137.2 L387.3,138.6 L386.4,137.9Z" fill="#66c2a5"/>
<path d="M412.9,152.6 L414.7,152.1 L417.9,152.6 L417.4,153.3 L414.8,153.5 L412.9,152.8Z" fill="#abdda4"/>
<path d="M428.8,153.3 L429.9,152.4 L432.8,151.7 L431.6,153.3 L430.1,154.2 L429.0,154.0Z" fill="#abdda4"/>
<path d="M551.0,221.1 L555.2,222.0 L557.6,225.2 L560.7,228.2 L563.0,230.1 L565.9,232.2 L567.2,234.7 L568.7,237.5 L571.5,240.5 L571.5,241.6 L571.0,244.4 L570.9,247.4 L568.6,247.4 L567.6,245.5 L564.4,243.2 L562.0,239.8 L560.8,236.3 L558.3,233.3 L557.7,230.1 L555.4,228.2 L553.4,225.5 L551.4,222.9Z" fill="#f46d43"/>
<path d="M569.7,249.7 L571.3,247.6 L572.8,248.1 L576.0,249.2 L579.7,249.9 L580.7,249.0 L583.9,250.1 L587.1,251.8 L587.1,254.1 L584.3,253.4 L580.5,252.9 L576.8,251.8 L574.0,251.8 L571.9,250.8Z" fill="#f46d43"/>
<path d="M577.3,230.5 L578.4,229.4 L581.1,230.5 L581.7,228.2 L584.8,226.6 L586.6,223.6 L589.4,221.3 L591.5,218.1 L593.5,219.5 L595.1,221.3 L596.5,222.0 L594.7,223.9 L593.7,224.8 L594.0,227.1 L594.4,229.4 L596.4,231.7 L594.1,232.2 L593.5,235.2 L591.8,237.5 L591.2,240.5 L590.5,242.8 L588.0,243.5 L587.7,241.8 L584.8,241.4 L582.4,241.6 L579.5,240.7 L579.2,237.5 L577.7,235.2 L577.3,232.8Z" fill="#f46d43"/>
<path d="M597.9,232.2 L599.8,231.0 L603.1,231.7 L605.9,231.7 L608.2,230.3 L606.9,232.8 L604.0,232.8 L601.2,232.8 L599.3,232.8 L598.3,235.8 L601.2,236.1 L604.6,236.1 L604.8,236.3 L602.1,237.9 L601.1,238.6 L602.3,242.1 L603.8,243.7 L602.7,246.5 L601.5,245.1 L601.0,243.2 L599.9,242.1 L598.8,244.4 L598.7,246.7 L597.0,246.7 L597.2,243.2 L595.9,240.5 L596.9,237.5 L597.9,234.5Z" fill="#f46d43"/>
<path d="M619.3,235.8 L622.1,234.9 L625.0,235.8 L625.3,238.6 L626.7,241.6 L628.7,239.3 L631.6,237.7 L634.5,238.6 L638.2,240.0 L642.0,241.6 L644.8,242.8 L647.1,246.0 L649.3,247.8 L650.7,249.5 L649.1,250.1 L650.8,253.6 L653.4,255.9 L655.7,257.8 L653.2,257.8 L650.1,257.1 L648.7,255.7 L647.0,252.9 L644.3,251.5 L642.2,253.1 L641.2,255.0 L637.4,255.0 L634.7,252.7 L631.8,253.1 L632.0,250.6 L633.6,249.7 L632.2,246.7 L628.5,244.6 L625.7,243.2 L622.9,243.2 L622.5,241.6 L621.1,240.5 L623.9,239.5 L621.1,238.6 L619.1,237.2Z" fill="#f46d43"/>
<path d="M596.2,191.3 L599.2,191.3 L599.9,194.8 L599.0,197.6 L599.6,201.0 L602.2,201.9 L604.3,204.0 L604.4,205.2 L602.4,203.6 L600.0,202.4 L598.0,202.2 L597.5,200.6 L596.1,198.3 L595.5,196.4 L596.2,193.6Z" fill="#f46d43"/>
<path d="M601.6,217.9 L602.4,215.5 L604.2,214.2 L606.1,214.4 L607.8,211.6 L609.6,214.4 L610.1,217.9 L609.3,219.5 L608.4,220.6 L607.7,219.0 L605.9,219.5 L605.4,217.2 L603.8,216.7Z" fill="#f46d43"/>
<path d="M605.0,205.2 L607.3,205.6 L608.0,208.6 L606.8,210.5 L605.7,208.6Z" fill="#f46d43"/>
<path d="M600.8,206.8 L602.7,207.5 L603.9,209.8 L603.6,212.8 L602.1,211.4 L601.0,209.8Z" fill="#f46d43"/>
<path d="M592.3,214.4 L596.2,207.9 L595.9,209.8 L592.9,214.9Z" fill="#f46d43"/>
<path d="M597.4,203.1 L599.3,203.3 L599.2,205.6Z" fill="#f46d43"/>
<path d="M603.9,257.8 L607.0,255.0 L611.3,253.4 L608.9,255.4 L605.9,257.3Z" fill="#f46d43"/>
<path d="M587.2,252.7 L589.4,253.4 L588.4,254.3Z" fill="#f46d43"/>
<path d="M590.0,253.1 L591.3,253.4 L590.7,254.5Z" fill="#f46d43"/>
<path d="M591.5,253.4 L595.7,253.1 L595.6,254.3 L591.8,254.8Z" fill="#f46d43"/>
<path d="M597.4,253.4 L602.9,252.9 L602.9,254.3 L597.5,254.3Z" fill="#f46d43"/>
<path d="M595.5,255.9 L598.9,256.8 L597.3,257.5Z" fill="#f46d43"/>
<path d="M612.6,231.7 L613.5,228.9 L614.9,231.2 L614.5,233.3 L613.5,235.8 L613.0,234.0Z" fill="#f46d43"/>
<path d="M613.4,240.9 L617.2,240.7 L618.7,242.1 L615.3,242.1Z" fill="#f46d43"/>
<path d="M609.6,241.4 L611.9,241.6 L611.1,242.8Z" fill="#f46d43"/>
<path d="M652.2,246.9 L656.0,246.7 L659.4,243.7 L659.3,245.5 L656.9,247.8 L654.0,248.5Z" fill="#f46d43"/>
<path d="M656.9,240.0 L660.0,242.1 L660.9,244.6 L659.6,243.2Z" fill="#f46d43"/>
<path d="M676.8,280.6 L680.9,283.6 L681.3,285.7 L678.8,284.3Z" fill="#ffffff"/>
<path d="M77.9,188.3 L79.0,187.4 L79.8,189.0 L78.2,190.2Z" fill="#3288bd"/>
<path d="M639.9,258.7 L641.3,262.8 L641.3,267.0 L643.9,268.6 L644.5,273.2 L644.4,277.1 L646.6,279.0 L648.4,280.8 L648.9,284.7 L650.7,287.5 L652.3,290.5 L653.9,292.8 L652.5,297.0 L652.5,300.0 L649.9,304.3 L647.4,308.5 L643.7,312.0 L640.0,316.3 L637.7,320.0 L637.1,320.7 L633.5,321.4 L629.3,324.2 L627.6,322.5 L627.0,322.3 L624.5,323.5 L621.6,322.3 L620.0,321.4 L619.9,318.9 L620.4,316.6 L619.0,316.1 L619.7,314.3 L620.0,311.3 L620.4,309.2 L618.0,311.7 L615.2,314.3 L614.4,313.1 L613.6,310.1 L612.9,308.3 L609.3,306.7 L605.2,307.1 L599.3,308.5 L595.1,310.1 L593.5,312.2 L587.1,312.4 L582.7,314.7 L579.2,314.5 L578.0,313.1 L578.6,311.3 L579.8,310.8 L580.8,307.8 L580.8,304.3 L581.1,301.3 L580.6,297.9 L580.1,294.4 L580.6,291.7 L581.6,288.2 L581.9,285.9 L583.1,284.3 L584.7,283.6 L588.2,281.5 L591.9,280.8 L594.6,279.9 L597.7,277.8 L599.4,275.5 L599.9,273.2 L602.1,273.9 L602.5,272.1 L604.5,270.4 L606.1,267.9 L608.8,266.3 L611.1,267.0 L611.7,268.6 L613.2,268.4 L614.7,265.8 L616.3,263.5 L617.3,262.6 L619.6,262.1 L621.0,260.3 L622.6,261.2 L625.3,261.9 L628.2,261.7 L628.9,262.6 L627.8,265.1 L626.6,267.4 L625.3,268.6 L627.0,270.9 L629.5,272.7 L632.1,274.4 L634.5,274.4 L636.2,270.9 L637.1,267.4 L637.6,264.0 L638.7,260.5Z" fill="#3288bd"/>
<path d="M624.4,327.8 L627.0,328.7 L630.4,328.1 L629.0,330.8 L626.7,333.5 L624.3,334.4 L623.0,334.2 L623.1,331.9 L623.8,329.9Z" fill="#3288bd"/>
<path d="M681.7,313.3 L682.9,315.4 L682.5,318.9 L684.4,318.6 L683.6,320.7 L685.9,321.4 L687.9,320.9 L685.5,323.5 L683.0,324.6 L682.0,326.2 L679.1,328.5 L676.4,329.9 L676.2,329.2 L678.0,327.1 L678.2,325.8 L677.4,324.6 L679.6,323.2 L681.4,320.5 L681.9,317.9 L681.6,315.2Z" fill="#3288bd"/>
<path d="M673.7,327.4 L673.5,329.0 L674.7,330.1 L672.7,331.7 L669.2,334.2 L669.0,334.9 L665.1,336.3 L663.0,338.5 L661.5,339.7 L658.4,341.2 L656.4,341.2 L654.4,340.3 L655.0,339.0 L659.0,336.5 L661.7,335.1 L666.0,333.1 L668.7,331.3 L671.7,328.5Z" fill="#3288bd"/>
<path d="M180.8,417.5 L187.5,406.7 L193.3,403.3 L203.3,400.8 L216.7,400.8 L230,400 L237.5,398.5 L243.3,397.5 L257.5,397.3 L266.7,396.7 L276.7,396.7 L281.2,391 L284.5,385.5 L289.3,381.7 L288,387 L287.5,391 L291.7,394 L295,398.3 L292,404 L284,405.5 L288,408 L293.3,409.3 L306.7,411.7 L313.3,413.3 L326.7,411.7 L336.7,406.7 L350,405 L363.3,396.7 L383.3,393.3 L390,392.8 L415,391 L430,387.3 L452.5,383.5 L465,382.3 L477.5,384.8 L475,391 L485,388.5 L502.5,384.8 L520,384.8 L540,384.8 L565,386 L585,389 L596.3,394.8 L588,398 L575,400 L565,404 L563,410 L570,415 L585,416 L597.5,417.3 L590,422.6 L191,422.6Z" fill="#d9d9d9"/>
<g clip-path="url(#cl-na)">
<path d="M150,122.5 L201.7,122.5 L203,126 L205,130 L208.3,135 L213.3,138.3 L220,137.5 L228.3,136.7 L235,135 L240,133.3 L243.3,135 L246,137.5 L252,137 L262,140 L262,240 L140,240 L140,122.5Z" fill="#66c2a5"/>
<path d="M150,157 L159.7,157.7 L162.9,155.8 L169.3,151.9 L177.1,148 L184.8,144.8 L192.5,144.8 L200.3,145.7 L204.1,148 L206.7,150.6 L211.9,151.6 L218.3,150.6 L223.5,148 L229.9,148.7 L234.4,148 L236.3,149.3 L245,150 L250,185 L150,185Z" fill="#abdda4"/>
<path d="M206.7,150.6 L211.9,151.6 L218.3,150.6 L223.5,148 L229.9,148.7 L234.4,148 L240,150 L236,157 L224,161 L220.2,164.1 L217.7,166 L214.4,165 L206.7,166 L201.5,166.5 L199,164.1 L198.3,160.9 L201.5,155.8 L204.8,152.6Z" fill="#e6f598"/>
<path d="M203.5,156 L206.7,155 L214.4,156.5 L222.2,154.2 L228.6,151 L233.8,148.5 L237,150 L235.5,153.5 L229.9,157.8 L223.5,161 L214.4,163.6 L206.7,162.6 L203.5,164 L201.5,160.5Z" fill="#ffffbf"/>
<path d="M204.1,157.7 L206.7,157.1 L214.4,158.6 L222.2,156.4 L228.6,153.2 L233.8,150 L234.4,151.9 L229.9,155.8 L223.5,159 L214.4,161.6 L206.7,160.3 L204.1,162.2 L203.1,160.3Z" fill="#d53e4f"/>
<path d="M215,170 L226,170 L226,178 L215,178Z" fill="#66c2a5"/>
<path d="M168.3,137.5 L172.3,137.5 L172.3,136.5 L175.8,136.5 L175.8,145.8 L168.3,145.8Z" fill="#3288bd"/>
<path d="M158,158.6 L161.6,158.6 L166.1,159 L170.6,160.6 L175.8,159.9 L180.3,163.8 L182.9,163.1 L187.4,167.7 L190,173 L190,200 L150,200 L150,158Z" fill="#fee08b"/>
<path d="M163,160.3 L166.1,160.6 L170.6,162.4 L175.8,161.7 L180.3,165.6 L182.9,164.9 L187.4,169.5 L189.5,173 L192,200 L160,200Z" fill="#fdae61"/>
<path d="M156,158 L161.6,159.4 L164.5,161 L164,166 L166,172 L170,179 L172,184 L165,184 L158,170Z" fill="#fee08b"/>
<path d="M165,186 L173.2,184.8 L180,186.5 L187.4,185.5 L192,183 L200,183 L200,215 L165,215Z" fill="#f46d43"/>
<path d="M188,204 L191,198.5 L194.5,192.7 L195.8,190.8 L200.3,188.2 L199.5,183 L210,180 L215,200 L240,235 L200,240 L188,215Z" fill="#d53e4f"/>
<path d="M181.2,76 L174.7,87.2 L177,90.5 L180.1,92.7 L185,96 L190,98 L196,99.5 L202,99.2 L210,97 L217.2,94.9 L222,96.5 L225.9,99.2 L229.5,100.5 L236,97 L246,90 L262,84 L268,70 L268,50 L175,50Z" fill="#f46d43"/>
<path d="M247.7,113 L245,118 L241,125.4 L243.3,130.8 L247,131 L250.2,130.6 L252.4,129 L254.5,124.7 L257.6,125.9 L257.4,130.6 L259,137 L295,139 L295,85 L270,84 L258,86 L250,90 L246,100 L249,108Z" fill="#5e4fa2"/>
</g>
<g clip-path="url(#cl-sa)">
<path d="M237.5,230.8 L243.3,228.3 L251.7,225.8 L255.8,227.5 L260,229.2 L266.7,228.3 L271.7,229.2 L274.2,234.2 L275.8,241.7 L278.3,250 L280,256.7 L283.3,265 L281.7,270 L273.3,275 L265,272.5 L255,270 L248.3,271.7 L241.7,275 L235,271.7 L225,268 L210,248 L215,246 L221,244 L226,243 L232,244 L237,241 L236,236Z" fill="#d53e4f"/>
<path d="M211,244 L220.5,242.8 L225.8,249.5 L229.3,257.8 L233.3,266.2 L235.5,271.5 L237.5,276 L230,277 L220,262 L211,250Z" fill="#9e0142"/>
<path d="M217,216 L222,213 L227,211 L233,215 L243,211.5 L254.5,211.7 L257,215 L254.2,218.3 L248.3,220 L240.8,221.7 L240,225 L235,228.3 L226.7,227.5 L220,229.2 L214,228Z" fill="#fdae61"/>
<path d="M224,206 L235,205 L243.3,207 L256,209 L254.7,213.9 L243.3,213.6 L236.7,216 L233.3,217.7 L230,216 L227.5,213.5 L225,213Z" fill="#66c2a5"/>
<path d="M228,277 L237.5,276 L239.5,277.5 L241,280 L243,284 L245,285 L253.3,285.8 L258.3,288.3 L263.3,295 L263.3,298.3 L260.8,305 L260,316.7 L260.8,323.3 L266.7,322.5 L274,330 L284,368 L248,372 L222,300Z" fill="#66c2a5"/>
<path d="M263.3,298.3 L265,297.5 L270,294.2 L276.7,290.8 L281.7,289.2 L288,289 L278,324 L266.7,322.5 L260.8,323.3 L260,316.7 L260.8,305Z" fill="#3288bd"/>
</g>
<g clip-path="url(#cl-africa)">
<path d="M357.5,218.3 L363.3,213.3 L373.3,210.8 L383.3,208.3 L391.7,210 L396.7,213.3 L401.7,215 L408.3,211.7 L416.7,210 L426.7,211.7 L436.7,215 L445,219.2 L450.4,226.8 L452,232 L458,240 L452,252 L447,258 L444.2,260 L440,261.7 L433.3,265 L428.3,263.3 L423.3,269.2 L418.3,270 L413.3,265 L410,261.7 L401.7,258.3 L395,255 L391.7,243.3 L388,240 L380,236 L368,230 L353,226Z" fill="#9e0142"/>
<path d="M438.3,195 L436.7,206.7 L440,213.3 L446.7,219.2 L450.4,226.8 L454,231 L472,236 L482,200 L450,188Z" fill="#fdae61"/>
<path d="M415.8,164.2 L423.3,170 L430,179.2 L437.5,183.7 L443,183 L441,165 L432,158 L415,157Z" fill="#e6f598"/>
<path d="M426,162 L431,166 L436,178 L441,178 L439,160 L428,157Z" fill="#abdda4"/>
<path d="M358.3,155.8 L363.3,157.5 L373.3,155 L385,152.5 L387.5,155 L390,151 L388,146 L363,150 L356,153Z" fill="#e6f598"/>
<path d="M384.5,148 L385.5,153 L386.5,158.5 L389.5,159.5 L391,152 L389,146Z" fill="#abdda4"/>
<path d="M391.7,159.2 L401.7,163.3 L408.3,165 L416,165.5 L416,160 L406.7,158 L400,158 L392.5,155Z" fill="#e6f598"/>
<path d="M345.8,171.7 L353.3,170.8 L353.3,172.5 L349.2,173.3 L346.7,179.2 L342.5,182.5 L339.2,184.6 L335,184 L340,172Z" fill="#d9d9d9"/>
</g>
<g clip-path="url(#cl-eurasia)">
<path d="M456.7,80 L453.3,88.3 L452.5,98.3 L456.7,108.3 L453.3,116.7 L454,121 L452.6,125.2 L449.5,129.9 L444.3,133.5 L440,136 L440,152 L330,160 L330,50 L460,50 L460,75Z" fill="#3288bd"/>
<path d="M444.5,110 L448,108.5 L453,110 L456.5,115 L456.5,120 L452,122.5 L447.5,121 L444.2,115.5Z" fill="#abdda4"/>
<path d="M393,77 L396,80.5 L405,82.5 L409.2,86.7 L408,92 L406,97 L403,103 L401.5,106 L398,108.5 L394,108.7 L392.5,108 L391.7,109.5 L386.7,109.5 L386,104 L380,104 L378,90 L385,80Z" fill="#5e4fa2"/>
<path d="M362,120.5 L366,120.5 L370,123.5 L374.3,129.3 L381.5,130.8 L384.7,126.2 L386,131 L381,136.5 L377,137.5 L377,140.5 L375,144 L372,145.5 L369,142 L369.5,136 L362,130Z" fill="#5e4fa2"/>
<path d="M383.6,126 L386,121.5 L390,120 L396,121.5 L400.3,124.5 L398,128 L393,130.5 L388.3,132.8 L385,131.5Z" fill="#5e4fa2"/>
<path d="M353,132.5 L372,132.5 L372,136.2 L363,136.8 L356,136.3 L353,135Z" fill="#5e4fa2"/>
<path d="M350,135.5 L358.5,136.5 L359.5,140 L358.8,143.5 L362,146.3 L368.5,146.3 L372.5,144 L375,151 L350,153Z" fill="#66c2a5"/>
<path d="M355.5,138 L360.5,138.5 L361,143 L356.5,143.5Z" fill="#abdda4"/>
<path d="M388.5,110.6 L392,110.6 L394,116 L391,122 L387,122 L386.8,117Z" fill="#66c2a5"/>
<path d="M412.2,106.2 L423,106 L424,113 L431,118 L430,124 L421,124.5 L411,121.5 L410,113Z" fill="#66c2a5"/>
<path d="M393,120 L400,119 L411,121 L411,123.2 L399.7,124.5 L394,125Z" fill="#66c2a5"/>
<path d="M399.7,124 L411,122.5 L421.6,125 L422,134.5 L418.3,140 L416,150 L405,150 L400,136.7 L396.5,128.5Z" fill="#abdda4"/>
<path d="M409,139 L418,138 L419,143 L414,150 L408,150Z" fill="#66c2a5"/>
<path d="M418,138 L430,134 L445,136 L458,140 L460,150 L440,152 L424,153 L418,148Z" fill="#66c2a5"/>
<path d="M424.5,141.5 L432,139.5 L440,141 L441,146.5 L432,148.5 L424.5,147Z" fill="#abdda4"/>
<path d="M440,133 L447,130 L456,136 L458,141 L450,141 L442,137Z" fill="#abdda4"/>
<path d="M441,135.5 L448,134 L455,139 L458,141.5 L449,141.5Z" fill="#66c2a5"/>
<path d="M453.7,147 L460,149 L469.1,149.5 L469.5,153.8 L460,154 L453.7,152.5Z" fill="#66c2a5"/>
<path d="M453.7,153.8 L466.5,154.5 L475.6,162.2 L482,171.2 L478.1,173.8 L470.4,170 L460.1,164.8 L456.2,159.6Z" fill="#e6f598"/>
<path d="M434,150 L453.7,152.5 L457,160 L460,165 L452,168 L444,163 L438,166 L433,168 L430,160Z" fill="#e6f598"/>
<path d="M433,148 L441,150.5 L444,153 L440,160 L435,160 L432,156Z" fill="#abdda4"/>
<path d="M432.3,157.5 L434.4,157.5 L434.6,166 L432.8,167Z" fill="#3288bd"/>
<path d="M441,143.5 L445,141.8 L450,142.3 L454.5,145 L455.6,149 L453,152.5 L447,153.4 L442,151.5 L440,147.5Z" fill="#d53e4f"/>
<path d="M433,166 L440.8,160.6 L448.5,163.8 L457.5,167.7 L465.3,174 L472,176 L480,178 L482,186 L470,212 L445,212 L436,180Z" fill="#fee08b"/>
<path d="M434,167.5 L440.8,162.6 L448.5,165.8 L456,169.7 L461,176 L466,180 L472,178.5 L479,180 L481,186 L470,212 L445,212 L437,180Z" fill="#fdae61"/>
</g>
<g clip-path="url(#cl-gb)">
<path d="M358,97 L380,97 L380,106.5 L369,107.5 L358,107Z" fill="#66c2a5"/>
</g>
<g clip-path="url(#cl-eurasia)">
<path d="M465.8,72 L470,70 L478.3,72 L485,68 L496.7,62 L505,60 L522,62 L520.8,69.2 L513.3,72.5 L500,76.7 L490,80.8 L483.3,85.8 L478.3,84.2 L475,80.8 L470,82.5 L465.8,77.5Z" fill="#f46d43"/>
<path d="M443.3,110 L446.7,107.5 L458.3,111.7 L470,109.2 L480,105.8 L493.3,105.8 L503.3,111.7 L516.7,120.8 L513.3,128.3 L508.3,135.8 L501.7,135.8 L496.7,131.7 L505,125 L500,118.3 L491.7,112.5 L480,111.7 L471.7,115 L458.3,117.5 L451.7,125 L446.7,121.7 L444.2,115Z" fill="#abdda4"/>
<path d="M471.7,116.7 L480,119.2 L490,125 L498.3,130 L496.7,132.5 L486.7,127.5 L476.7,122.5 L470.8,119.2Z" fill="#abdda4"/>
<path d="M506.9,164.8 L511.7,164.2 L516.7,165 L523.3,169.2 L531.7,171.7 L535,175 L530,200 L515,215 L500,215 L500,186 L505.5,183 L505.5,170Z" fill="#fee08b"/>
<path d="M525,175 L522.5,183.3 L515,189.2 L510,193.3 L505,196 L508,215 L525,215 L535,190 L532,176Z" fill="#f46d43"/>
<path d="M506,207.5 L510.8,205.8 L518.3,207.5 L522,214 L508,216Z" fill="#d53e4f"/>
<path d="M530.8,168 L536,166.5 L544,167 L546.7,170 L545,178 L541,183.3 L535,183 L531,178Z" fill="#d53e4f"/>
<path d="M541.7,172 L546,168 L552,170 L558,180 L562,183 L570,182 L578,186 L580,200 L575,215 L565,235 L550,235 L548,200 L543,185 L541,178Z" fill="#f46d43"/>
<path d="M553.3,187 L560,186.5 L565,190 L566,198 L562,204 L557,205 L556,215 L560,225 L566,232 L560,234 L554,222 L553,205Z" fill="#fdae61"/>
<path d="M555.8,149 L562.2,138.7 L572.5,130.9 L579,124.5 L585.4,120.6 L594.4,117.4 L600,118 L604,122 L606,135 L600,150 L595,165 L592,178 L586,186 L578,186 L576.7,175 L568.3,163.3 L559.6,159.3Z" fill="#abdda4"/>
<path d="M573.3,150 L570,142 L571,134 L578,131.5 L586,133 L592,139 L594,150 L592.5,160 L592.5,167 L588.5,168.5 L584,163 L580,157Z" fill="#66c2a5"/>
<path d="M601.5,123 L604.5,121 L607,128 L606.5,137 L601.3,138 L601.3,131Z" fill="#3288bd"/>
<path d="M590,137 L598.5,137 L600,144 L598,147 L592,146Z" fill="#ececf2"/>
<path d="M594,146 L599,145.5 L603,150 L602,156 L595,156.5Z" fill="#3288bd"/>
<path d="M614,60 L640,60 L660,75 L660,95 L632,100 L628,107 L622.5,106 L620,98 L616,94 L617,85 L612,80 L606,78 L605,70Z" fill="#f46d43"/>
<path d="M556,219 L562,219 L570,228 L570,236 L556,236Z" fill="#fdae61"/>
<path d="M500,151 L505,148 L512,149 L514,155 L511,161 L505,160 L501,157Z" fill="#e6f598"/>
</g>
<g clip-path="url(#cl-australia)">
<path d="M584.2,291.7 L586.7,285.8 L600,277.5 L610,275 L616.7,266.7 L621.7,268.3 L624.2,274.2 L633.3,276.7 L640,275.8 L643.3,283.3 L646.7,293.3 L645,301.7 L638.3,310 L632.5,315.8 L626.7,308.3 L620,303.3 L606.7,300 L593.3,304.2 L585.8,301.7Z" fill="#9e0142"/>
</g>
<g fill="none" stroke="#15151f" stroke-width="0.8" stroke-linejoin="round" stroke-linecap="round" clip-path="url(#cl-all)">
<path d="M181.0,77.9 L159.6,96.7 L162.0,97.4 L162.1,99.5 L166.9,97.8 L167.1,99.9 L166.6,103.8 L167.8,105.9 L165.2,108.5"/>
<path d="M166.9,121.4 L213.5,121.4 L214.5,120.7 L218.3,122.5 L221.9,123.6 L224.1,122.9 L228.6,126.3 L228.8,127.0 L229.8,128.6 L231.0,129.7 L229.0,134.9 L227.3,136.7 L227.7,137.9 L234.7,135.4 L235.4,133.8 L240.2,132.4 L244.1,130.4 L249.5,130.4 L252.3,128.3 L255.4,125.0 L257.5,125.6 L256.4,128.8 L257.2,130.4"/>
<path d="M158.2,159.0 L162.7,158.6 L168.3,161.8 L173.4,161.8 L173.8,160.7 L176.9,160.7 L179.0,165.7 L181.3,167.1 L182.8,165.3 L185.3,166.0 L186.9,170.6 L187.3,173.1 L190.3,174.3"/>
<path d="M195.8,200.6 L197.1,196.9 L199.4,196.9 L198.8,194.3 L199.0,192.9 L202.3,192.9 L204.3,191.3"/>
<path d="M202.3,192.9 L201.8,197.3"/>
<path d="M203.6,197.8 L201.4,200.8 L199.5,202.4"/>
<path d="M212.9,199.4 L209.4,200.1 L206.0,202.2 L204.7,204.0"/>
<path d="M201.4,200.8 L203.8,203.1"/>
<path d="M211.1,208.9 L207.4,208.4"/>
<path d="M213.0,211.9 L212.2,215.1"/>
<path d="M235.7,188.6 L235.2,191.1 L235.2,192.9"/>
<path d="M233.4,207.2 L231.6,210.9 L232.2,214.4 L232.8,217.9 L236.6,217.9 L241.3,219.7 L240.6,223.6 L242.0,231.2"/>
<path d="M242.0,231.2 L236.7,230.1 L236.3,234.0 L237.2,236.3 L236.4,243.7"/>
<path d="M236.4,243.7 L232.5,239.8 L228.6,236.3 L226.2,234.2 L222.9,233.1 L219.5,230.8"/>
<path d="M226.2,234.2 L225.8,237.5 L221.5,240.9 L219.3,245.5 L216.7,241.8"/>
<path d="M236.4,243.7 L230.8,245.5 L229.1,251.3 L232.2,255.9 L235.9,255.9 L236.1,259.4 L238.0,259.4"/>
<path d="M238.0,259.4 L239.2,262.8 L239.7,268.6 L239.0,272.1 L239.3,274.4 L238.0,276.2"/>
<path d="M238.0,259.4 L240.8,258.7 L245.8,256.6 L246.7,261.7 L252.6,265.1 L255.5,265.8 L256.9,271.4 L260.1,271.6 L260.9,274.4 L261.8,276.0 L261.4,280.1"/>
<path d="M261.4,280.1 L258.5,278.5 L254.4,279.2 L253.3,285.2 L249.8,285.4 L246.9,284.3 L244.9,286.6 L243.1,283.6 L241.7,279.0 L239.3,274.4"/>
<path d="M244.9,286.6 L243.2,291.7 L242.9,296.3 L242.4,303.2 L243.9,310.1 L244.7,317.0 L245.4,322.8 L246.0,328.5 L248.2,335.4 L250.8,341.0 L251.3,346.6 L253.2,351.1 L258.3,353.3 L261.1,354.0"/>
<path d="M261.3,354.9 L263.5,359.7"/>
<path d="M261.4,280.1 L262.3,285.0 L266.2,285.4 L267.0,289.4 L269.2,289.4 L269.1,293.0"/>
<path d="M253.3,285.2 L256.7,288.9 L261.7,291.7 L263.5,292.6 L262.4,296.7 L266.1,297.2 L269.1,293.0"/>
<path d="M269.1,293.0 L271.0,296.3 L268.2,299.0 L265.1,303.7"/>
<path d="M265.1,303.7 L268.3,305.0 L272.3,307.3 L274.2,311.7"/>
<path d="M265.1,303.7 L265.0,309.0 L265.3,312.4"/>
<path d="M255.8,214.4 L253.1,220.2 L254.2,222.0 L250.1,224.8 L246.9,224.8 L247.7,229.4 L244.8,232.2 L242.0,231.2"/>
<path d="M254.2,222.0 L255.8,223.6 L255.7,228.2 L257.2,231.0 L262.0,229.6"/>
<path d="M260.9,220.4 L260.2,225.9 L262.0,229.6 L265.8,228.7 L269.7,228.2 L271.2,224.5"/>
<path d="M267.0,220.9 L265.9,225.9 L265.8,228.7"/>
<path d="M366.8,153.0 L367.6,156.7 L368.4,159.7 L364.1,161.3 L361.3,164.8 L354.4,167.8 L354.2,171.0"/>
<path d="M346.3,170.1 L354.3,170.1 L354.1,174.0 L348.0,174.0 L347.8,179.8 L345.9,181.0 L345.7,184.9 L338.3,184.9"/>
<path d="M354.2,171.0 L361.3,176.3 L358.5,183.7 L359.5,195.9 L359.9,198.3 L351.9,198.5 L348.2,198.0 L346.8,199.9"/>
<path d="M338.8,197.1 L342.6,195.7 L345.3,198.3 L346.8,199.9 L348.2,205.4 L343.9,204.9 L341.4,204.9 L338.2,205.4"/>
<path d="M338.1,202.6 L341.5,202.2 L343.7,203.1 L341.4,203.6 L338.0,203.8"/>
<path d="M341.3,208.6 L343.8,207.0 L343.9,204.9"/>
<path d="M361.3,176.3 L372.3,185.3 L376.1,190.2 L377.8,189.9 L381.2,189.0 L392.4,179.8 L388.7,177.5 L387.8,172.9 L388.7,169.4 L387.8,164.3 L385.6,159.0 L384.2,156.0 L385.6,153.3 L386.2,148.9"/>
<path d="M387.8,164.3 L389.2,160.7 L391.4,157.7"/>
<path d="M392.4,179.8 L396.5,181.9 L398.0,181.0 L414.9,189.0"/>
<path d="M416.0,161.1 L416.7,183.3 L416.8,187.9 L414.9,187.9 L415.1,197.8 L412.3,201.7 L412.4,205.2 L413.1,208.6 L409.6,211.4 L405.0,215.3 L399.2,216.7"/>
<path d="M416.7,183.3 L438.9,183.3"/>
<path d="M377.8,189.9 L377.8,195.9 L376.4,198.3 L371.7,199.4 L370.2,199.6 L366.0,201.2 L361.3,204.0 L359.3,207.5 L359.3,210.0 L354.6,210.5 L353.7,207.5 L348.2,205.4"/>
<path d="M398.0,181.0 L399.0,187.9 L399.0,195.3 L395.3,200.6 L395.3,202.4 L388.7,203.6 L383.0,204.0 L377.4,202.9 L376.6,207.0 L375.0,213.2 L374.8,219.2"/>
<path d="M370.2,199.6 L371.7,203.3 L373.9,205.4 L376.6,207.0"/>
<path d="M399.2,216.7 L396.7,211.4 L398.2,209.8 L397.2,204.5 L395.3,202.4"/>
<path d="M396.7,206.3 L394.8,212.1 L391.6,218.3 L387.4,219.7 L386.0,223.6"/>
<path d="M372.7,219.7 L372.6,213.2 L371.5,208.6 L373.9,205.4"/>
<path d="M372.0,219.9 L370.7,214.4 L369.7,208.6"/>
<path d="M364.0,222.2 L364.4,215.5 L364.4,210.9 L364.4,208.6 L369.7,208.6 L371.5,208.6"/>
<path d="M359.3,210.0 L364.4,211.4"/>
<path d="M355.4,223.9 L353.5,219.0 L354.1,216.5 L354.6,210.5"/>
<path d="M347.8,218.1 L350.2,214.4 L352.0,216.7 L354.1,216.5"/>
<path d="M344.5,213.2 L347.9,210.9 L350.2,214.4"/>
<path d="M415.3,213.9 L419.0,210.9 L422.9,212.6 L426.6,210.9 L428.5,211.4 L430.9,207.0 L432.6,205.9 L432.3,210.9 L434.2,212.1 L434.5,214.4 L432.4,216.0 L436.3,221.5 L438.2,223.9"/>
<path d="M434.5,214.4 L434.2,209.8 L436.0,206.3 L438.5,200.6 L439.5,194.8 L442.2,192.5"/>
<path d="M438.5,200.6 L442.5,200.6 L446.3,201.2 L450.0,205.2 L449.0,208.6 L451.2,208.6 L451.3,212.1 L455.2,213.9 L459.0,215.5 L460.9,215.5 L455.3,222.5 L449.6,224.3 L447.7,225.0 L444.9,225.9 L442.0,225.7 L438.2,223.9 L434.4,224.3 L428.7,225.5 L428.3,225.9 L425.8,223.6 L422.0,222.5 L418.2,217.9 L415.3,213.9 L413.1,208.6"/>
<path d="M447.7,225.0 L447.8,235.8 L448.7,237.9"/>
<path d="M434.4,224.3 L436.3,230.5 L434.4,234.0 L434.4,236.3 L441.3,240.9 L444.3,244.8"/>
<path d="M422.0,222.5 L417.2,222.5 L412.5,224.3 L406.8,222.5 L405.1,225.9 L401.1,225.9 L400.1,229.4 L398.2,224.8 L397.3,220.2 L399.2,216.7"/>
<path d="M388.3,228.7 L395.0,228.9 L400.1,229.4"/>
<path d="M388.3,231.7 L391.2,231.7 L391.2,228.9"/>
<path d="M395.0,228.9 L397.3,231.0 L396.3,235.2 L397.3,238.6 L393.5,239.3 L392.1,242.1 L391.0,243.2"/>
<path d="M405.1,225.9 L403.9,230.5 L403.4,235.2 L400.5,238.6 L400.1,243.2 L397.3,245.3 L394.4,244.6 L392.9,247.4"/>
<path d="M392.9,247.6 L401.1,247.6 L402.0,251.3 L406.8,250.1 L411.1,250.8 L411.1,259.4 L415.2,259.4 L415.2,264.0 L411.4,264.0 L411.3,271.4 L413.9,274.6"/>
<path d="M415.2,259.4 L417.7,259.8 L420.9,261.7 L423.7,264.9 L426.1,264.9 L426.2,262.1 L423.7,262.8 L423.6,255.4 L428.0,252.9"/>
<path d="M425.3,241.8 L424.9,240.2 L426.0,237.2 L426.0,236.1 L426.8,232.2 L429.3,228.9 L428.3,225.9"/>
<path d="M427.8,236.3 L434.4,236.3"/>
<path d="M424.9,240.2 L427.7,239.5 L428.3,241.6 L426.0,244.1"/>
<path d="M426.0,237.2 L427.8,236.3 L427.7,239.5"/>
<path d="M428.0,252.9 L432.2,255.7 L434.2,255.9"/>
<path d="M435.3,260.5 L440.8,261.0 L446.3,258.2"/>
<path d="M432.2,255.7 L432.6,262.8 L431.6,265.4 L432.1,266.3 L435.0,267.4 L436.4,270.9 L436.3,273.2 L434.5,270.9 L435.0,267.4"/>
<path d="M432.1,266.3 L426.8,268.6 L427.2,270.0 L424.1,272.1 L420.6,275.3 L417.4,275.1"/>
<path d="M427.2,270.0 L431.6,272.5 L431.8,277.8 L430.7,283.1 L428.4,285.7 L424.9,285.2 L421.4,281.3 L417.4,275.1"/>
<path d="M392.1,273.9 L396.2,274.1 L404.7,274.1 L413.9,274.6 L417.4,275.1"/>
<path d="M409.3,276.2 L409.2,284.7 L407.4,284.7 L407.2,291.2 L407.1,299.5 L402.5,300.4 L400.6,300.0"/>
<path d="M407.2,291.2 L410.9,295.1 L415.5,293.3 L419.3,290.5 L422.2,286.6 L424.9,285.2"/>
<path d="M428.4,285.7 L429.5,290.5 L429.4,293.5 L431.0,296.0"/>
<path d="M420.0,302.3 L421.8,300.2 L424.1,301.6 L423.1,303.9 L421.0,304.3 L420.0,302.3"/>
<path d="M427.6,293.5 L429.4,294.0 L429.1,296.7 L427.4,296.3 L427.6,293.5"/>
<path d="M403.2,79.0 L399.8,80.0 L397.9,82.0 L396.6,84.4 L395.2,86.6 L394.2,88.6 L391.9,90.1 L392.0,94.2 L392.6,96.3 L391.4,97.8 L391.0,99.5"/>
<path d="M403.2,79.0 L407.9,81.2 L408.1,84.0 L409.1,85.4"/>
<path d="M403.2,79.0 L406.8,79.6 L410.2,79.0 L410.6,77.3 L413.3,77.1 L415.0,78.7 L417.2,77.5"/>
<path d="M415.0,78.9 L414.6,80.6 L416.8,81.6 L415.7,83.2 L417.4,85.6 L417.4,87.4 L418.6,88.6 L418.0,89.7 L420.5,91.3 L417.9,94.2 L415.7,96.3"/>
<path d="M416.2,98.4 L415.9,102.0 L416.5,103.1 L417.4,105.5 L419.5,106.4 L422.1,108.1 L422.1,110.3 L425.0,111.8 L423.7,114.2 L426.9,113.8 L430.6,116.9 L432.4,118.5 L435.8,119.1 L438.5,120.0 L438.7,123.6 L436.2,125.6"/>
<path d="M411.0,101.8 L415.8,102.7"/>
<path d="M406.2,105.7 L412.3,105.3 L415.0,106.6"/>
<path d="M406.6,107.4 L409.2,109.4 L410.4,110.3 L413.9,108.3 L415.0,106.6 L417.4,105.5"/>
<path d="M404.4,109.4 L409.2,109.4"/>
<path d="M410.4,110.3 L410.8,113.4 L410.9,115.8 L411.7,117.3"/>
<path d="M410.9,115.8 L416.5,115.6 L422.3,116.2 L423.7,114.2"/>
<path d="M395.4,110.5 L396.2,115.1 L396.9,116.9 L400.1,118.2 L403.3,120.2 L409.7,121.1 L411.7,117.3"/>
<path d="M386.6,108.3 L388.5,108.5"/>
<path d="M384.2,111.8 L383.8,114.2 L382.2,115.1 L382.1,117.3 L382.7,120.2 L385.7,121.4 L384.7,124.5 L388.0,124.7 L389.5,125.0 L393.7,124.7 L393.7,122.5 L395.0,121.8 L392.5,118.7 L395.8,116.9 L396.9,116.9"/>
<path d="M377.9,116.0 L379.7,116.0 L382.1,116.5"/>
<path d="M376.4,116.7 L379.1,119.1 L381.7,120.2 L382.7,120.2"/>
<path d="M384.7,124.5 L381.9,127.7 L383.6,128.3 L383.6,132.2 L384.4,133.1"/>
<path d="M383.6,128.3 L386.2,127.7 L387.5,127.2 L389.4,126.8 L388.0,124.7"/>
<path d="M368.4,134.0 L372.6,135.6 L376.9,136.3"/>
<path d="M355.8,137.4 L360.0,137.7 L359.1,141.3 L358.1,142.9 L358.6,145.9 L357.7,148.2"/>
<path d="M389.4,126.8 L392.4,125.9 L395.0,127.0 L394.8,128.8"/>
<path d="M395.0,121.8 L397.0,121.4 L400.2,122.3 L400.6,123.6 L399.6,124.7 L399.0,126.1 L395.0,127.0"/>
<path d="M400.2,122.3 L403.3,120.2"/>
<path d="M400.6,123.6 L403.5,124.1 L406.3,122.9 L409.1,122.7 L409.7,121.1"/>
<path d="M409.1,122.7 L410.3,123.8 L407.7,127.2 L406.2,127.7 L403.6,128.3 L400.6,128.1 L399.0,126.1"/>
<path d="M410.3,123.8 L413.9,124.1 L416.5,122.9 L419.5,127.0 L419.7,129.2 L422.3,129.7"/>
<path d="M416.5,122.9 L420.5,123.6 L422.5,127.0 L419.7,129.2"/>
<path d="M409.7,121.1 L412.1,123.2 L416.5,122.9"/>
<path d="M410.5,132.2 L414.5,133.3 L417.9,132.4 L420.7,133.3"/>
<path d="M406.2,127.7 L408.2,130.6 L410.5,132.2 L410.2,135.4 L411.4,138.8 L414.0,138.6 L416.5,137.9 L417.2,137.9 L420.0,137.2"/>
<path d="M416.9,137.9 L417.3,138.8 L416.7,139.9"/>
<path d="M406.3,142.5 L407.9,139.9 L411.4,138.8"/>
<path d="M405.0,137.4 L406.9,136.1 L407.0,139.5 L407.9,139.9"/>
<path d="M406.9,136.1 L410.2,136.5"/>
<path d="M403.4,136.1 L404.6,133.8 L404.8,130.6 L403.6,128.3"/>
<path d="M394.8,129.2 L397.7,129.2 L399.7,127.2"/>
<path d="M404.1,130.6 L398.9,129.9 L399.0,132.2 L401.8,134.9"/>
<path d="M404.6,133.8 L406.5,134.9 L406.9,136.1"/>
<path d="M406.5,134.9 L410.2,135.4"/>
<path d="M435.2,151.0 L436.3,149.1 L438.6,148.9 L443.0,148.4 L446.2,148.2 L450.6,148.2 L449.2,145.2 L449.4,142.5 L447.6,139.9 L447.2,139.3 L445.3,138.3 L443.6,138.3"/>
<path d="M440.4,133.8 L444.8,134.5 L448.4,135.6 L452.2,137.7 L454.7,139.0 L455.8,137.7"/>
<path d="M447.2,139.3 L449.7,138.8 L452.2,137.7"/>
<path d="M449.7,138.8 L450.9,140.4 L453.0,142.9 L452.6,144.3"/>
<path d="M449.4,142.5 L452.6,144.3 L455.5,142.5 L457.6,145.5"/>
<path d="M446.2,148.2 L444.4,149.8 L444.5,154.7 L440.8,157.0 L437.3,159.5 L435.3,158.6"/>
<path d="M440.8,157.0 L441.7,160.0 L437.8,161.3 L439.8,163.7 L439.0,164.8 L436.4,166.7 L434.5,166.2"/>
<path d="M441.7,160.0 L444.0,160.4 L447.0,162.3 L452.3,166.7 L455.7,166.9 L457.5,167.1 L457.6,164.6"/>
<path d="M457.5,167.1 L459.3,168.3"/>
<path d="M450.6,148.2 L453.2,151.4 L452.6,154.4 L453.9,157.9 L457.3,161.3 L458.1,163.7 L459.3,164.8"/>
<path d="M433.0,162.0 L434.3,166.0"/>
<path d="M434.1,157.7 L435.0,157.4 L435.1,159.0 L435.1,161.3 L434.5,166.0"/>
<path d="M434.1,157.7 L435.6,155.8 L436.6,154.9 L436.2,154.2 L435.5,154.2"/>
<path d="M435.1,151.2 L436.2,150.5 L436.3,149.1"/>
<path d="M450.5,196.2 L452.6,193.9 L457.3,194.3 L460.0,191.3 L467.4,190.2 L472.9,187.9 L473.9,183.3 L472.9,181.6 L468.0,181.2 L466.0,178.2"/>
<path d="M467.4,190.2 L469.8,195.5"/>
<path d="M472.9,181.6 L474.1,177.5 L474.4,175.0"/>
<path d="M464.4,177.0 L465.2,177.3"/>
<path d="M466.8,148.0 L470.3,146.4 L472.5,145.9 L476.3,147.5 L480.1,149.6 L480.4,151.9 L479.8,155.6 L481.0,160.2 L483.1,161.8 L481.9,165.3 L485.8,169.0 L487.0,171.3 L487.0,172.7 L484.3,175.9"/>
<path d="M481.9,165.3 L484.9,166.2 L491.8,165.3 L492.0,162.0 L496.5,160.4 L496.2,156.7 L498.6,155.1 L498.7,150.1 L502.7,148.9 L504.2,148.2"/>
<path d="M480.4,151.9 L483.6,151.2 L486.1,150.3 L489.2,147.8 L492.0,148.7 L494.4,147.3 L496.7,145.5 L498.5,149.1 L501.6,147.8 L504.2,148.2"/>
<path d="M496.9,179.3 L501.9,177.3 L499.3,170.6 L502.5,167.6 L505.4,162.5 L505.6,158.3 L504.1,155.6 L508.8,152.1 L512.7,155.1 L513.9,159.0 L514.1,162.0 L518.5,164.3 L523.5,166.7 L528.6,169.4 L532.5,169.7"/>
<path d="M504.2,148.2 L506.8,151.0 L508.8,152.1"/>
<path d="M518.5,164.3 L517.4,167.6 L519.7,169.0 L523.8,170.8 L528.1,172.4 L533.0,173.1 L532.5,169.7 L534.0,171.0"/>
<path d="M534.0,171.0 L535.8,168.7 L539.1,169.9 L540.0,172.0 L536.2,172.4 L534.0,171.0"/>
<path d="M539.1,169.9 L542.7,166.7 L546.3,166.2 L549.3,169.0 L546.1,172.9 L545.7,176.3 L543.5,178.6 L543.8,182.8 L543.0,184.9"/>
<path d="M533.0,173.1 L534.4,173.3 L536.4,174.3 L541.3,176.3 L541.3,178.0 L539.7,179.3 L540.4,181.0 L541.9,181.2 L542.5,186.0"/>
<path d="M533.0,173.1 L533.3,176.3 L535.0,178.0 L535.2,180.5 L536.0,183.3"/>
<path d="M549.3,169.0 L552.1,170.3 L552.9,174.5 L551.5,178.6 L554.1,180.5 L555.6,183.3 L559.0,185.1 L557.2,187.2 L553.5,188.6 L553.4,192.5 L555.9,196.2 L555.1,199.4 L557.5,204.9 L556.9,210.5"/>
<path d="M559.0,185.1 L560.4,182.3 L562.3,184.4 L565.6,186.7 L564.7,189.5 L567.3,190.9 L570.2,194.8 L572.7,198.7 L572.7,200.3 L573.2,205.6 L570.5,207.5 L570.3,208.6 L567.9,210.0"/>
<path d="M557.2,187.2 L558.2,189.0 L559.5,189.0 L559.6,192.9 L561.5,192.7 L564.2,191.6 L566.7,193.9 L567.2,196.4 L568.9,198.5 L569.2,200.8 L564.3,201.0 L563.5,202.9 L564.6,207.0"/>
<path d="M569.2,200.8 L570.9,200.6 L572.7,200.3"/>
<path d="M560.4,182.3 L562.9,181.6 L566.0,180.3 L568.8,181.4 L569.1,183.3 L571.6,184.4"/>
<path d="M560.0,219.2 L561.8,220.9 L563.8,219.7"/>
<path d="M518.1,120.9 L526.6,129.2 L534.5,132.0 L538.4,135.6 L546.4,136.1 L554.1,138.1 L561.8,135.6 L564.1,133.1 L562.5,130.4 L566.3,130.4 L568.6,128.1 L571.2,126.5 L574.3,126.5 L569.7,123.6 L565.5,121.8 L565.4,119.6"/>
<path d="M518.1,120.9 L521.0,119.1 L524.4,117.3 L529.3,119.1 L533.7,118.0 L532.6,114.7 L534.7,114.9 L539.8,116.2 L540.7,117.8 L545.4,118.2 L549.5,119.8 L552.4,120.7 L556.5,120.7 L560.5,118.7 L565.4,119.6 L567.8,120.0 L569.6,118.2 L568.4,113.4 L567.8,111.8 L571.5,111.4 L576.7,113.1 L583.0,119.1 L589.8,121.6 L591.9,124.3 L597.3,122.9 L599.1,130.4 L596.0,130.6 L597.5,133.8 L597.8,136.3 L596.0,135.2 L593.7,137.2 L592.2,137.9 L589.6,141.8"/>
<path d="M594.8,146.8 L598.1,145.0"/>
<path d="M517.2,120.9 L516.1,125.9 L511.7,125.4 L511.8,129.2 L508.2,130.4 L510.5,134.9 L510.5,136.7 L507.5,139.5 L505.2,140.6 L501.0,141.6 L500.8,142.9 L503.7,145.2 L504.2,148.2"/>
<path d="M454.8,127.4 L453.4,124.7 L450.7,123.6 L450.2,120.9 L449.4,118.5 L452.4,117.8 L455.3,115.3 L459.0,115.8 L462.8,117.6 L468.3,116.9 L473.4,117.3 L470.2,114.7 L470.6,110.5 L477.4,109.2 L482.3,107.4 L486.4,109.8 L490.7,110.5 L495.1,109.6 L498.1,111.8 L503.8,117.3 L509.4,116.9 L513.6,120.0 L517.2,120.9"/>
<path d="M510.5,136.7 L509.1,136.1 L502.7,134.9 L499.2,134.5 L494.5,136.5 L493.8,137.2 L491.1,140.2 L487.3,139.0 L485.5,134.9 L476.1,131.7 L471.4,129.0 L467.3,130.4 L468.9,138.8 L466.4,137.2 L462.6,137.7"/>
<path d="M468.9,138.8 L470.7,138.8 L472.6,135.6 L475.5,136.7 L476.8,139.0 L479.8,140.6 L484.4,144.3 L489.2,147.8"/>
<path d="M494.5,136.5 L496.0,138.8 L498.9,139.9 L496.9,141.3 L494.8,141.1 L495.6,142.9 L500.8,142.9"/>
<path d="M491.1,140.2 L492.7,141.3 L494.8,141.1"/>
<path d="M495.6,142.9 L490.6,143.6 L492.0,148.7"/>
<path d="M638.2,240.0 L637.4,255.0"/>
<path d="M605.0,255.7 L607.0,255.2 L607.3,255.9"/>
<path d="M578.4,229.4 L580.2,231.9 L583.0,230.8 L586.3,231.0 L588.4,229.4 L589.1,224.1 L593.3,224.3"/>
<path d="M587.0,223.4 L588.5,222.7"/>
</g>
<path id="antlines" d="M439,422L454,385.5 M509,422L557.5,397 M540,422L562.5,408 M267.5,401L295,421 M347.5,408L351,421 M360,398.5L367.5,421" stroke="#c2c2c2" stroke-width="0.5" fill="none"/>
<path d="M421.9,139.0 L426.2,139.0 L429.5,137.2 L432.1,137.2 L434.9,138.8 L438.5,139.7 L441.1,139.5 L443.6,138.3 L443.5,136.1 L440.4,133.8 L437.6,132.0 L435.7,131.1 L434.4,129.9 L435.4,128.1 L436.8,125.9 L437.6,125.4 L435.1,125.9 L431.6,127.4 L431.2,129.0 L433.7,129.7 L432.1,130.4 L429.8,131.7 L428.9,131.3 L427.0,129.5 L428.8,128.3 L427.7,127.9 L425.6,126.8 L423.9,127.0 L422.7,128.6 L422.3,129.9 L420.8,132.2 L420.2,134.0 L419.7,135.6 L419.0,136.1 L420.0,137.2 L421.1,138.6Z" fill="#fff"/>
<path d="M451.6,128.8 L454.7,127.0 L458.7,125.9 L461.3,126.3 L462.0,129.7 L459.1,130.4 L458.9,131.5 L457.6,131.7 L459.5,134.9 L462.3,135.6 L462.9,138.1 L465.4,138.3 L463.8,139.5 L464.2,141.8 L465.4,143.4 L466.7,146.4 L466.9,148.7 L463.6,149.4 L460.8,148.7 L458.0,147.3 L457.6,145.5 L458.0,143.4 L458.0,141.3 L459.3,140.9 L457.7,139.5 L455.6,137.2 L453.5,134.9 L453.1,132.6 L451.7,131.3Z" fill="#fff"/>
<path d="M216.3,126.5 L220.9,124.1 L224.2,122.3 L226.9,123.6 L228.7,126.1 L227.9,127.0 L224.6,127.0 L222.5,125.9 L218.7,126.8Z" fill="#fff"/>
<path d="M218.8,137.2 L219.9,137.9 L221.8,136.1 L223.3,132.6 L225.6,130.4 L227.2,128.6 L225.6,128.3 L223.5,129.2 L221.2,131.5 L219.7,134.9Z" fill="#fff"/>
<path d="M228.3,128.1 L231.0,127.7 L233.4,128.1 L235.5,129.2 L234.6,131.3 L232.6,130.8 L230.7,133.8 L229.0,134.9 L229.4,133.1 L228.1,132.6 L229.4,130.4 L228.2,129.0Z" fill="#fff"/>
<path d="M226.1,137.9 L228.3,138.6 L231.4,137.4 L234.7,135.6 L234.1,134.9 L231.3,135.4 L228.2,136.5Z" fill="#fff"/>
<path d="M233.7,134.5 L236.9,134.2 L239.6,134.0 L240.6,132.2 L238.5,132.4 L235.4,132.9Z" fill="#fff"/>
<path d="M214.3,110.7 L216.1,110.5 L215.1,114.7 L213.2,118.0 L212.2,118.2 L213.2,115.1Z" fill="#fff"/>
<path d="M210.3,112.0 L211.6,112.0 L210.5,116.9 L210.1,118.2 L209.1,118.0 L210.0,115.1Z" fill="#fff"/>
<path d="M198.4,94.8 L201.9,93.4 L207.5,92.1 L209.7,92.1 L206.8,93.0 L202.5,94.4Z" fill="#fff"/>
<path d="M196.0,86.4 L199.3,84.6 L203.0,83.8 L204.5,84.4 L201.7,85.8 L198.4,86.2Z" fill="#fff"/>
<path d="M430.1,233.3 L434.1,233.3 L435.0,235.8 L434.0,239.3 L431.6,240.5 L430.0,238.6 L429.9,235.8Z" fill="#fff"/>
<path d="M425.3,241.8 L426.4,244.4 L427.3,249.0 L428.8,254.1 L427.8,253.8 L426.0,249.0 L425.2,245.1Z" fill="#fff"/>
<path d="M434.2,256.1 L435.3,258.2 L435.8,262.8 L436.3,267.0 L435.3,266.8 L434.7,262.8 L434.2,259.4Z" fill="#fff"/>
<path d="M470.8,127.0 L472.9,126.5 L475.5,127.4 L475.9,130.8 L473.8,133.1 L471.6,131.5Z" fill="#fff"/>
<path d="M496.9,129.7 L497.2,126.5 L501.0,126.1 L505.2,126.3 L505.6,127.4 L502.4,127.9 L499.3,129.0 L498.6,130.8Z" fill="#fff"/>
<path d="M542.2,115.8 L544.3,114.7 L546.4,112.5 L546.8,107.7 L546.6,106.4 L545.6,107.0 L545.9,110.3 L544.3,112.5 L542.5,114.2Z" fill="#fff"/>
<path d="M419.9,97.4 L420.6,94.8 L422.5,94.4 L423.5,96.1 L422.2,97.4Z" fill="#fff"/>
<path d="M425.6,94.8 L426.3,92.1 L427.7,92.5 L427.6,95.3Z" fill="#fff"/>
<path d="M188.3,409 L199,410 L207,414 L223,417.5 L213,418.7 L200,418.3 L191.7,414Z" fill="#fff"/>
<g fill="none" stroke="#15151f" stroke-width="1" stroke-linejoin="round">
<path d="M141.8,80.4 L144.3,79.2 L154.2,76.5 L164.5,74.4 L169.0,75.6 L172.7,76.3 L177.8,77.1 L181.0,77.9 L186.2,79.2 L190.6,77.9 L195.6,77.1 L200.9,76.2 L202.7,78.1 L209.4,78.3 L215.3,79.2 L213.1,81.4 L220.4,81.2 L224.1,80.2 L228.5,80.0 L232.6,81.6 L237.0,81.4 L240.7,80.4 L242.9,77.1 L248.9,73.5 L249.3,75.2 L248.2,78.1 L249.4,80.0 L250.6,82.0 L254.2,81.0 L258.3,77.5 L262.3,77.7 L261.2,80.0 L258.3,83.0 L254.5,84.4 L251.9,84.0 L250.5,86.0 L246.8,88.0 L242.1,89.5 L236.9,91.5 L232.7,94.2 L229.4,97.4 L227.9,99.9 L230.0,100.1 L228.4,103.8 L232.3,103.8 L234.8,104.8 L238.2,107.0 L242.0,107.9 L239.9,112.5 L240.4,114.7 L242.0,116.5 L244.0,114.7 L246.2,110.3 L246.1,108.5 L251.4,105.9 L254.0,102.7 L252.5,99.9 L255.5,97.4 L257.9,92.3 L262.2,92.5 L265.7,94.2 L268.1,95.3 L267.1,98.4 L268.1,101.0 L272.0,99.5 L275.8,96.5 L276.8,100.5 L276.4,104.8 L277.8,107.0 L280.2,108.8 L280.8,111.4 L281.9,114.0 L279.6,115.8 L276.4,116.5 L273.1,118.7 L268.2,118.5 L262.4,118.7 L257.9,121.6 L253.1,125.4 L256.3,123.6 L262.2,121.1 L264.8,121.8 L263.0,123.6 L262.5,125.9 L263.2,127.7 L267.2,128.6 L270.2,127.0 L268.7,129.0 L263.7,131.3 L258.3,133.8 L258.0,132.0 L261.7,129.7 L257.2,130.4 L253.1,132.2 L249.8,134.5 L248.5,136.5 L249.5,137.9 L246.6,138.6 L242.4,139.7 L241.6,140.6 L240.5,142.9 L238.2,144.5 L236.7,147.5 L235.4,148.9 L235.3,152.6 L232.1,154.4 L229.9,155.8 L226.7,157.9 L223.3,160.2 L221.8,163.7 L222.4,168.3 L222.5,172.2 L221.4,175.6 L219.7,175.9 L219.0,173.6 L217.8,169.9 L218.4,167.1 L216.7,164.8 L213.9,165.3 L210.5,164.1 L207.8,164.1 L206.4,166.9 L203.5,166.4 L199.2,165.3 L196.1,166.7 L191.8,169.4 L190.2,174.0 L188.4,178.6 L187.7,182.6 L188.6,186.7 L190.0,189.7 L191.7,191.1 L193.5,192.0 L197.3,191.1 L199.8,189.7 L201.0,186.0 L201.9,185.3 L205.8,184.2 L208.0,184.6 L206.1,189.0 L205.1,192.0 L204.0,193.6 L202.6,197.1 L203.6,197.8 L207.8,197.3 L211.6,197.6 L212.9,199.4 L211.9,204.0 L211.2,207.5 L212.0,210.2 L213.7,212.8 L215.9,213.7 L218.1,212.6 L219.8,212.1 L222.8,213.9 L221.6,217.4 L220.6,215.1 L218.8,213.5 L217.0,215.1 L217.7,216.9 L214.5,216.5 L212.2,215.1 L210.8,214.2 L208.5,211.4 L207.1,208.9 L205.2,205.2 L204.2,203.6 L200.6,202.9 L197.0,201.7 L195.6,200.3 L192.8,196.9 L190.6,196.9 L188.0,197.8 L184.4,196.4 L181.9,195.3 L178.3,192.7 L175.4,191.1 L172.9,187.9 L172.9,184.4 L172.1,180.5 L169.9,176.3 L167.8,174.0 L166.6,170.6 L164.5,167.1 L164.4,162.5 L161.8,160.7 L161.3,163.7 L162.6,167.1 L163.0,170.6 L164.1,173.6 L165.0,177.5 L166.3,180.5 L165.3,181.2 L165.0,179.8 L162.3,177.3 L162.6,174.0 L160.0,171.3 L158.5,169.9 L160.5,168.3 L158.6,164.8 L158.1,160.7 L158.1,158.8 L156.9,155.6 L153.6,154.4 L153.3,149.6 L153.5,146.8 L153.1,142.9 L153.2,140.9 L155.5,137.2 L156.3,134.9 L161.5,127.7 L163.5,122.7 L166.6,123.6 L167.6,121.4 L167.1,119.1 L162.9,116.9 L163.5,113.6 L162.2,109.6 L162.3,105.9 L162.4,101.6 L163.7,99.5 L161.7,99.9 L160.8,97.8 L157.4,97.4 L154.3,97.4 L153.1,95.7 L149.9,95.9 L145.5,97.8 L140.6,99.1 L144.1,96.3 L148.0,94.8 L144.0,95.7 L138.7,98.4 L134.4,101.0 L128.3,103.8 L122.9,105.9 L117.1,107.7 L112.7,108.8 L109.6,109.0 L115.4,107.0 L119.7,105.9 L127.1,102.7 L131.5,100.1 L129.2,100.1 L126.1,100.1 L123.5,100.3 L127.0,97.4 L124.4,96.3 L124.7,94.2 L129.3,91.7 L133.6,90.7 L138.0,89.5 L139.9,88.0 L136.9,88.0 L131.9,88.0 L132.5,85.8 L137.1,84.6 L140.8,84.0 L143.6,84.6 L145.0,83.0 L144.1,81.6Z"/>
<path d="M287.9,61.7 L296.4,59.3 L301.7,57.4 L308.6,56.3 L320.6,55.6 L332.8,54.4 L341.9,54.1 L349.4,54.7 L354.4,56.3 L363.3,57.0 L357.9,59.3 L355.0,60.9 L352.9,63.4 L352.7,66.0 L350.2,67.8 L350.3,69.6 L346.9,72.4 L345.7,74.3 L345.1,76.2 L342.3,76.7 L343.4,77.5 L338.5,80.0 L332.7,80.8 L327.8,83.0 L322.7,85.2 L317.4,86.0 L315.2,88.0 L312.6,91.1 L310.0,94.2 L307.9,96.9 L306.4,97.8 L304.0,96.1 L300.8,94.6 L299.6,92.1 L298.7,89.0 L298.7,86.0 L298.7,83.0 L300.6,80.6 L304.2,79.0 L300.7,76.5 L301.7,74.3 L301.6,71.4 L301.5,68.7 L300.0,66.4 L295.3,65.8 L290.1,66.0 L287.9,64.2Z"/>
<path d="M287.1,83.6 L281.6,87.0 L280.1,91.1 L277.3,92.1 L276.4,91.1 L273.5,89.7 L275.1,93.4 L272.5,92.8 L268.8,91.5 L266.2,88.4 L261.1,88.4 L261.3,87.0 L267.7,86.0 L269.7,84.0 L272.4,81.0 L269.6,79.0 L267.5,77.1 L262.7,77.1 L258.6,77.1 L255.3,76.2 L254.7,73.7 L257.7,70.5 L264.7,70.0 L269.8,70.2 L272.3,71.8 L275.4,72.9 L279.5,74.6 L281.6,76.5 L282.3,78.7 L284.4,82.0Z"/>
<path d="M214.4,77.5 L216.6,80.0 L223.3,79.6 L229.4,79.0 L235.5,77.7 L233.8,75.2 L236.6,71.8 L233.5,71.1 L227.4,71.8 L220.5,71.4 L215.9,74.3 L215.8,76.2Z"/>
<path d="M208.1,73.5 L209.2,74.8 L213.2,74.3 L217.4,72.4 L222.1,70.2 L225.4,69.1 L219.4,68.7 L213.0,70.2 L209.5,72.4Z"/>
<path d="M263.3,65.1 L275.3,65.6 L280.7,63.4 L285.5,61.7 L290.8,60.1 L299.9,58.0 L306.7,55.9 L300.9,54.9 L289.8,54.8 L277.0,55.9 L270.5,57.3 L274.8,58.5 L270.7,60.9 L271.2,62.5Z"/>
<path d="M255.2,64.6 L262.5,64.8 L262.8,66.2 L274.1,66.9 L273.1,68.3 L264.7,68.7 L257.3,68.3 L253.1,66.9Z"/>
<path d="M264.3,58.5 L271.1,57.7 L272.9,60.1 L265.5,62.2 L261.7,60.9Z"/>
<path d="M226.5,67.3 L230.7,65.1 L238.2,65.1 L242.1,66.0 L240.5,67.8 L233.9,68.5 L228.9,68.3Z"/>
<path d="M241.0,71.4 L245.4,69.8 L248.5,70.5 L246.4,73.3 L242.0,74.4 L239.0,73.3Z"/>
<path d="M251.4,69.6 L257.3,69.6 L256.1,71.4 L251.1,73.3 L249.2,71.8Z"/>
<path d="M245.8,65.1 L253.5,64.9 L251.2,67.4 L245.0,67.8 L243.8,66.7Z"/>
<path d="M237.0,79.0 L241.3,77.3 L243.2,78.3 L241.2,79.8 L237.5,80.0Z"/>
<path d="M248.7,86.4 L252.6,85.0 L254.9,85.8 L256.0,88.4 L254.2,90.1 L250.2,90.5 L247.8,89.7 L247.2,88.4Z"/>
<path d="M272.2,124.5 L274.4,122.0 L277.8,118.0 L281.4,115.8 L279.9,118.0 L280.6,119.3 L283.1,120.5 L283.4,122.5 L283.3,124.7 L281.7,126.5 L280.6,125.2 L278.1,126.1 L276.9,124.5Z"/>
<path d="M161.1,117.6 L164.3,118.5 L165.0,120.2 L165.7,122.7 L163.8,122.3 L162.0,120.5 L160.5,119.1Z"/>
<path d="M159.5,110.1 L161.4,110.3 L158.9,114.2 L158.2,112.5Z"/>
<path d="M132.8,102.5 L136.5,101.2 L136.4,102.5 L132.8,104.0Z"/>
<path d="M211.7,183.5 L214.6,181.4 L217.5,180.5 L220.2,180.7 L222.8,182.3 L225.4,183.7 L228.0,185.3 L231.2,187.4 L229.6,188.1 L224.5,188.3 L225.7,186.5 L223.3,185.6 L221.7,184.0 L219.0,183.0 L217.2,182.3 L214.4,182.8 L212.8,183.7Z"/>
<path d="M230.4,191.1 L232.6,188.3 L233.7,188.1 L235.7,188.3 L238.9,188.6 L240.7,189.5 L241.6,191.1 L239.5,191.6 L237.6,192.0 L235.4,193.2 L233.8,192.0 L231.4,192.3Z"/>
<path d="M223.0,191.6 L225.5,191.3 L226.8,192.5 L225.3,192.9 L222.9,192.3Z"/>
<path d="M243.8,191.6 L246.6,191.6 L246.5,192.5 L243.7,192.5Z"/>
<path d="M221.9,66.0 L227.5,63.9 L232.6,63.4 L228.3,65.5 L224.8,66.2Z"/>
<path d="M247.9,62.5 L251.9,60.5 L258.6,59.6 L258.2,61.2 L252.4,62.9Z"/>
<path d="M256.5,62.5 L260.1,61.2 L261.4,62.0 L258.5,62.9Z"/>
<path d="M252.1,67.8 L255.2,66.7 L256.3,67.4 L254.1,68.3Z"/>
<path d="M237.2,63.2 L241.8,61.7 L243.5,62.2 L239.8,63.6Z"/>
<path d="M250.7,91.5 L252.6,91.3 L252.7,92.3 L250.5,92.8Z"/>
<path d="M254.5,92.3 L255.6,92.3 L254.7,94.0 L253.7,93.8Z"/>
<path d="M265.4,119.3 L268.5,119.8 L269.4,121.1 L266.6,120.7Z"/>
<path d="M263.0,126.5 L265.2,126.8 L266.9,127.0 L265.6,128.1 L263.5,127.9Z"/>
<path d="M266.0,81.2 L268.2,81.0 L268.5,82.0 L266.4,82.6Z"/>
<path d="M222.8,213.9 L223.8,215.5 L225.5,212.6 L226.6,209.6 L228.0,208.4 L230.5,207.9 L233.1,206.6 L234.8,205.4 L235.3,207.5 L237.2,207.2 L237.6,205.9 L239.9,209.1 L240.8,209.8 L244.6,209.6 L247.4,210.5 L250.3,209.3 L252.2,209.6 L251.2,210.9 L254.0,212.1 L254.3,214.4 L256.7,215.5 L258.5,217.9 L260.3,219.7 L264.1,220.4 L267.0,220.6 L269.8,222.5 L271.6,223.9 L272.5,225.9 L274.4,229.8 L274.4,232.8 L277.2,235.2 L279.1,235.6 L283.0,237.5 L285.3,239.8 L288.7,240.2 L293.5,240.5 L296.4,242.5 L299.3,245.1 L302.5,246.2 L303.6,250.6 L303.3,254.8 L300.5,258.2 L298.8,261.2 L297.0,264.0 L296.3,268.6 L296.5,273.2 L295.8,276.7 L295.1,280.1 L293.5,284.3 L291.9,287.0 L289.1,287.0 L286.4,288.4 L283.8,289.8 L281.3,292.8 L280.6,296.3 L280.6,299.7 L278.9,303.2 L277.6,306.2 L275.5,310.1 L274.2,312.4 L272.1,314.5 L269.7,314.5 L266.2,313.1 L265.3,312.4 L268.2,315.9 L269.1,318.2 L268.8,321.6 L265.9,323.5 L261.6,323.9 L262.3,327.6 L257.7,328.5 L258.5,331.3 L261.1,332.2 L259.3,333.5 L259.8,337.6 L257.1,339.9 L260.6,342.6 L261.6,344.4 L260.1,347.8 L259.1,349.5 L259.5,352.2 L261.3,354.2 L261.7,355.5 L264.4,357.7 L268.7,359.2 L267.2,360.3 L265.2,361.2 L261.6,360.3 L257.5,358.4 L252.9,355.5 L249.6,352.2 L246.3,346.6 L244.5,342.1 L244.8,338.8 L244.4,335.4 L244.5,330.8 L242.7,329.7 L241.7,325.1 L240.1,319.8 L240.3,315.9 L240.8,310.1 L240.1,305.5 L239.1,300.9 L239.4,296.3 L239.4,291.7 L239.2,288.2 L238.9,282.4 L238.0,276.7 L235.5,273.9 L232.5,272.1 L228.0,269.1 L225.7,266.1 L223.6,261.7 L221.4,257.1 L219.7,252.9 L217.8,249.9 L215.2,247.8 L214.9,244.8 L216.7,241.8 L217.5,239.8 L215.5,239.3 L216.1,236.3 L217.2,233.8 L217.2,232.2 L219.5,230.5 L220.1,228.2 L222.0,227.8 L222.7,224.8 L222.2,221.3 L222.5,219.0 L221.6,217.4Z"/>
<path d="M272.5,352.9 L274.8,351.8 L277.9,352.4 L277.2,353.8 L274.9,354.0Z"/>
<path d="M252.4,209.3 L254.1,209.1 L254.0,210.7 L252.3,210.7Z"/>
<path d="M360.2,151.4 L361.3,151.2 L365.4,152.6 L367.2,153.0 L370.8,151.4 L373.5,149.8 L376.2,149.1 L379.8,149.1 L384.2,148.7 L388.3,148.0 L389.2,149.1 L390.5,148.7 L389.8,150.1 L389.8,152.1 L390.5,154.9 L388.9,155.1 L390.0,156.5 L391.4,157.4 L394.5,158.1 L398.1,159.5 L399.1,161.8 L402.4,162.7 L405.1,164.1 L406.9,162.5 L406.9,159.7 L409.5,158.1 L412.3,158.8 L416.0,161.1 L419.7,161.8 L423.4,162.7 L425.1,161.8 L426.9,161.3 L429.3,162.0 L430.0,164.8 L431.4,168.7 L433.0,171.7 L434.1,175.2 L436.1,178.6 L436.5,181.0 L438.9,183.3 L439.5,185.6 L439.8,188.6 L442.2,192.5 L444.1,198.0 L446.3,199.9 L448.6,202.9 L451.3,204.7 L451.8,207.5 L454.1,210.0 L458.8,208.4 L462.6,207.9 L466.7,206.8 L466.6,210.0 L465.6,213.2 L463.8,218.3 L461.0,223.6 L457.3,228.7 L455.9,229.4 L452.5,232.8 L449.7,235.8 L448.7,237.9 L446.4,240.0 L445.2,243.2 L443.9,247.8 L444.8,250.1 L444.5,253.6 L445.2,257.1 L446.5,258.4 L446.6,262.8 L446.7,267.4 L446.4,269.7 L444.2,272.5 L440.4,275.1 L438.0,277.4 L435.3,279.7 L434.9,282.0 L436.1,284.7 L436.1,289.4 L432.3,292.1 L430.5,294.0 L430.9,297.4 L429.6,300.4 L427.1,303.0 L425.1,306.2 L421.9,309.7 L419.4,311.5 L417.0,312.4 L413.0,312.6 L410.3,312.9 L406.7,314.3 L404.0,313.1 L403.7,310.1 L403.6,307.3 L402.0,304.3 L400.6,300.0 L398.3,295.8 L397.8,291.7 L397.1,286.6 L395.2,282.4 L393.4,277.4 L392.1,273.9 L392.1,270.4 L393.4,265.1 L395.3,262.6 L395.9,258.9 L394.8,254.3 L393.1,248.1 L392.1,244.8 L390.6,242.5 L388.1,239.3 L386.4,235.6 L387.7,232.8 L388.3,229.4 L388.1,225.9 L387.7,224.8 L386.0,223.6 L383.0,223.9 L381.1,224.1 L379.2,221.3 L378.2,219.5 L376.2,219.2 L372.0,219.9 L368.7,221.3 L365.9,222.9 L363.6,222.2 L362.1,221.8 L358.3,222.9 L355.4,223.9 L352.5,222.0 L349.1,219.5 L347.8,218.1 L345.9,216.7 L344.6,214.4 L344.5,212.1 L343.2,210.7 L341.3,208.6 L339.8,206.8 L338.2,205.4 L338.0,202.9 L336.8,200.1 L338.8,197.1 L339.3,192.5 L339.6,189.5 L339.1,187.9 L338.3,185.6 L338.5,182.8 L340.4,179.3 L342.6,175.2 L343.4,173.3 L345.6,170.6 L346.5,169.7 L349.2,168.3 L351.7,166.4 L352.7,163.9 L352.7,161.3 L354.8,157.9 L356.9,156.5 L358.4,155.4 L359.6,152.8Z"/>
<path d="M463.1,261.7 L464.3,265.1 L465.0,269.7 L463.7,270.9 L462.9,274.4 L461.8,279.0 L460.2,283.6 L458.4,288.2 L457.3,291.7 L454.4,292.8 L452.3,291.7 L451.0,288.2 L450.8,284.7 L452.9,280.1 L452.5,276.7 L453.3,272.1 L455.6,270.4 L458.5,268.6 L460.5,265.8 L462.1,263.5Z"/>
<path d="M521.1,211.6 L522.1,212.1 L524.1,214.4 L525.2,217.2 L524.7,219.2 L522.8,220.4 L521.8,219.5 L521.3,216.7 L521.4,214.2Z"/>
<path d="M410.1,75.0 L413.1,75.2 L417.3,76.3 L416.2,77.7 L420.4,78.3 L424.6,78.7 L432.3,81.6 L433.1,83.4 L432.9,84.0 L428.8,84.8 L424.3,84.0 L421.4,83.6 L424.0,86.0 L425.0,88.2 L428.3,89.5 L429.5,88.4 L433.0,87.8 L431.9,86.0 L434.3,84.2 L437.3,84.6 L436.5,81.4 L435.3,79.8 L439.0,80.6 L439.7,83.0 L442.2,81.8 L447.3,80.2 L450.2,80.6 L454.1,79.8 L457.1,80.2 L458.6,78.9 L458.0,77.5 L463.3,78.5 L467.5,79.2 L467.2,78.1 L465.7,75.6 L464.9,73.3 L466.6,71.6 L471.4,71.8 L473.1,74.3 L476.5,80.0 L477.0,84.0 L479.6,83.4 L478.6,80.0 L475.3,75.2 L474.8,72.0 L479.2,72.7 L482.9,73.3 L484.0,76.2 L488.3,76.5 L485.3,73.9 L481.1,70.5 L487.6,69.6 L487.5,67.8 L491.5,66.5 L495.9,65.8 L501.6,65.1 L504.7,63.0 L509.4,64.2 L516.6,65.1 L520.5,66.9 L520.5,68.7 L516.3,71.1 L519.7,70.5 L523.7,70.5 L527.4,70.3 L532.3,71.3 L537.4,71.1 L537.7,70.2 L542.2,70.7 L545.7,71.4 L548.1,73.7 L549.4,75.6 L552.8,75.6 L554.1,74.3 L559.5,74.3 L560.6,72.4 L561.3,71.8 L567.9,72.4 L576.2,73.7 L581.1,75.4 L587.6,75.2 L594.1,77.1 L596.7,78.1 L601.9,77.9 L605.3,77.3 L608.5,77.1 L611.2,78.7 L615.2,77.5 L620.6,78.5 L624.5,79.2 L630.3,80.4 L637.1,82.8 L641.6,83.2 L646.7,84.8 L646.5,86.0 L647.3,88.2 L643.8,87.8 L639.3,86.0 L633.6,84.4 L634.9,86.0 L634.5,86.8 L633.2,88.0 L631.9,87.6 L638.4,91.1 L640.9,92.5 L636.2,94.2 L632.9,95.3 L632.6,97.4 L626.5,97.8 L622.3,97.4 L625.3,100.5 L624.8,102.0 L629.0,104.8 L630.1,105.5 L631.0,108.5 L630.9,112.0 L629.8,113.6 L629.6,116.9 L625.4,113.6 L621.0,108.1 L616.3,103.8 L616.6,101.6 L617.3,98.4 L618.9,96.3 L618.9,94.2 L617.4,92.1 L613.0,93.6 L608.8,93.8 L610.4,98.4 L606.8,99.5 L603.3,98.2 L596.8,98.6 L592.4,98.8 L591.1,102.7 L589.9,105.9 L588.4,108.8 L593.3,110.3 L595.7,110.3 L600.1,111.8 L602.4,114.2 L603.8,118.0 L605.7,121.4 L605.6,124.7 L605.4,128.6 L603.8,131.7 L601.5,135.4 L599.2,134.7 L598.1,136.5 L597.4,138.6 L598.0,139.9 L595.3,142.2 L595.7,143.6 L598.1,145.0 L601.4,148.7 L602.7,152.1 L602.4,153.0 L600.0,154.0 L598.3,154.7 L597.5,151.9 L596.6,149.1 L595.8,147.3 L593.8,147.1 L592.1,145.2 L592.0,143.2 L589.7,142.0 L587.0,143.4 L585.1,144.5 L584.7,141.1 L584.1,139.7 L581.1,142.0 L578.9,143.8 L580.7,146.1 L582.6,148.0 L585.4,146.8 L588.9,147.8 L586.8,149.8 L585.9,150.7 L585.0,153.3 L587.5,155.1 L589.7,158.6 L592.3,161.1 L592.8,162.7 L590.6,163.9 L593.7,165.0 L593.8,168.3 L592.6,170.1 L591.5,173.3 L590.7,175.6 L589.3,177.5 L587.2,180.3 L582.9,182.6 L581.7,183.0 L579.0,184.0 L576.4,184.9 L576.1,187.2 L575.0,184.6 L572.5,184.0 L570.8,184.9 L569.5,186.3 L568.2,189.5 L570.0,192.9 L572.6,195.9 L573.9,197.1 L576.1,201.7 L576.6,205.2 L576.2,207.5 L573.6,209.8 L572.3,210.2 L571.8,212.1 L569.1,214.2 L568.9,210.9 L566.9,209.8 L564.9,208.2 L563.8,205.9 L560.9,204.7 L559.8,202.9 L558.9,203.3 L558.7,206.8 L557.8,209.8 L558.2,212.8 L560.0,214.6 L560.9,217.4 L563.2,218.8 L564.6,220.2 L566.4,222.9 L566.5,225.9 L567.8,228.9 L568.2,230.8 L566.7,230.8 L564.3,228.7 L562.6,227.1 L561.4,224.3 L560.5,221.3 L559.8,219.0 L558.8,216.7 L556.8,215.1 L556.6,211.4 L556.8,208.6 L556.4,205.2 L555.3,201.7 L554.0,198.3 L553.6,195.9 L551.5,195.3 L549.4,197.6 L547.5,197.1 L547.5,193.6 L546.6,190.4 L545.0,188.1 L542.5,185.6 L541.2,182.6 L539.3,182.1 L538.5,183.5 L536.1,183.7 L534.6,184.0 L532.5,184.6 L532.3,186.7 L531.3,188.1 L529.2,189.3 L527.6,191.6 L526.4,193.4 L524.8,195.7 L522.8,197.1 L521.2,198.3 L521.1,201.7 L521.6,203.8 L520.9,206.8 L521.1,210.2 L519.7,212.6 L518.2,213.7 L516.9,215.3 L514.9,213.2 L514.3,210.9 L512.7,207.0 L511.3,204.0 L509.8,199.9 L509.0,198.3 L507.5,193.6 L506.4,190.2 L506.0,186.7 L505.6,184.4 L505.2,182.8 L504.5,185.3 L502.7,186.0 L500.8,185.1 L498.7,182.6 L500.4,181.0 L497.5,180.3 L495.6,178.9 L494.4,176.8 L493.4,175.4 L489.7,175.9 L485.1,176.1 L484.1,175.9 L480.4,175.4 L477.2,174.7 L475.5,172.2 L474.1,171.5 L471.5,172.7 L468.0,171.7 L465.1,169.7 L463.6,167.1 L461.9,164.6 L459.8,163.9 L458.2,165.0 L458.4,166.4 L459.5,168.5 L461.2,171.0 L463.0,172.7 L463.2,175.2 L464.4,176.8 L464.9,174.3 L465.1,173.8 L465.8,176.3 L465.4,177.7 L467.6,178.2 L470.4,178.2 L472.6,175.6 L474.1,173.6 L474.7,176.3 L476.0,178.6 L478.9,179.6 L481.5,182.1 L480.0,186.7 L478.3,190.2 L477.0,192.5 L474.2,193.6 L471.5,194.8 L468.2,196.6 L466.0,198.7 L462.7,200.3 L459.6,202.4 L454.9,204.5 L452.1,204.7 L451.5,202.9 L450.6,199.4 L450.3,195.9 L447.9,192.5 L445.8,189.0 L443.2,184.9 L441.8,181.0 L439.8,178.0 L437.7,174.0 L435.1,169.4 L434.3,166.0 L433.4,169.4 L433.3,169.9 L431.5,167.6 L430.1,165.0 L429.3,162.0 L432.1,162.3 L433.3,161.1 L433.7,159.0 L434.0,157.9 L434.7,155.8 L435.2,152.8 L435.2,150.5 L435.4,149.1 L433.3,149.6 L431.6,150.3 L428.9,150.7 L425.6,149.1 L423.6,150.5 L421.2,149.4 L419.5,148.4 L418.8,145.5 L417.2,143.4 L417.1,141.8 L419.4,140.9 L422.0,140.9 L422.4,139.0 L421.0,139.3 L419.3,139.5 L417.6,140.6 L416.7,139.7 L414.0,139.7 L412.9,140.9 L413.8,141.3 L413.3,141.8 L412.0,141.3 L411.3,140.4 L410.8,141.8 L411.6,143.4 L411.7,144.3 L413.5,145.9 L413.6,147.1 L412.1,146.6 L412.0,147.8 L411.9,149.8 L410.8,149.8 L410.3,148.7 L409.6,149.1 L408.8,147.1 L409.1,145.7 L408.2,145.5 L407.8,144.1 L406.6,142.7 L406.1,141.1 L405.1,139.9 L405.1,138.1 L404.7,137.2 L403.4,136.1 L400.8,134.5 L399.0,133.6 L397.6,132.2 L396.4,129.9 L394.8,130.4 L395.0,128.8 L392.6,129.5 L392.8,132.0 L394.7,133.6 L396.0,136.1 L399.1,137.4 L399.2,138.6 L400.9,139.3 L403.6,141.6 L403.3,142.2 L401.0,140.6 L400.3,142.5 L401.2,144.1 L400.2,145.5 L399.3,146.4 L398.7,146.5 L399.1,145.0 L399.5,143.4 L398.5,141.8 L397.3,141.1 L396.2,139.9 L395.0,139.0 L393.1,138.1 L392.5,137.7 L390.4,136.3 L389.6,134.9 L389.0,132.9 L387.8,132.0 L386.8,131.7 L385.3,132.9 L384.1,133.3 L382.1,134.7 L380.6,134.2 L378.4,133.8 L376.8,134.7 L376.7,136.3 L376.9,137.4 L375.1,138.6 L372.6,139.9 L371.1,142.2 L370.6,143.2 L371.4,144.5 L369.9,146.1 L369.5,147.3 L367.7,148.4 L366.8,149.1 L364.6,149.4 L363.0,149.4 L361.3,150.7 L360.1,150.5 L359.5,149.1 L358.4,148.2 L356.6,148.7 L354.9,148.7 L355.4,145.5 L354.2,144.8 L355.3,141.8 L356.1,139.0 L355.9,136.7 L355.4,134.9 L357.7,133.3 L361.1,133.6 L364.6,134.0 L368.0,134.0 L368.9,133.8 L369.3,131.5 L369.8,129.0 L369.7,127.7 L368.1,125.4 L366.9,124.5 L364.5,123.8 L364.1,122.7 L366.2,121.8 L368.7,122.3 L369.5,122.0 L369.3,119.8 L370.1,120.5 L372.3,120.2 L374.7,118.9 L374.9,117.3 L376.4,116.7 L378.2,116.0 L378.9,114.7 L380.1,112.7 L381.3,111.8 L383.9,111.6 L385.6,111.2 L386.5,110.5 L386.9,110.1 L386.6,108.5 L385.8,107.0 L385.7,104.6 L386.5,103.5 L388.5,102.5 L389.6,102.3 L389.3,104.8 L390.1,105.1 L389.0,106.4 L388.2,107.2 L388.1,108.3 L388.7,109.2 L390.3,109.4 L390.3,110.3 L392.2,109.8 L394.3,109.2 L395.6,110.5 L398.3,109.6 L401.5,108.5 L402.5,109.4 L404.1,109.4 L404.6,108.3 L406.2,107.4 L406.2,105.5 L405.9,103.8 L406.8,102.7 L408.3,102.3 L409.3,103.8 L410.8,103.8 L411.0,101.8 L411.1,100.8 L409.5,100.1 L409.4,99.1 L411.2,98.4 L413.1,98.2 L416.2,98.4 L418.4,97.6 L419.5,97.6 L418.3,96.9 L416.7,96.1 L414.4,96.3 L411.5,96.9 L408.5,97.6 L407.2,96.5 L405.7,95.3 L405.6,93.2 L405.3,91.1 L407.0,89.5 L409.0,87.6 L411.0,87.0 L410.3,85.8 L409.1,85.4 L407.4,85.4 L406.0,86.0 L405.4,87.4 L404.8,89.0 L403.8,89.7 L402.0,90.7 L400.6,92.1 L399.7,93.2 L399.7,95.3 L399.6,95.9 L401.6,96.9 L402.3,97.8 L401.1,98.8 L400.3,100.1 L399.1,101.2 L399.0,102.7 L398.7,104.6 L397.8,105.7 L396.1,105.7 L395.5,107.0 L393.5,107.2 L393.1,106.1 L393.0,105.5 L392.6,104.0 L391.7,102.3 L390.6,100.5 L390.4,99.3 L389.6,97.6 L389.2,99.1 L387.9,99.7 L386.4,101.2 L385.6,101.4 L384.0,101.6 L382.1,100.1 L381.4,98.4 L381.3,96.5 L381.2,94.6 L381.5,93.2 L383.5,91.7 L385.5,90.7 L386.9,89.9 L388.7,89.9 L388.7,88.6 L390.6,87.2 L391.9,85.8 L392.7,84.4 L393.7,83.0 L395.0,82.2 L396.1,81.0 L397.8,80.0 L399.1,79.0 L400.9,77.7 L403.1,77.1 L405.1,76.3 L407.0,75.6Z"/>
<path d="M421.9,139.0 L426.2,139.0 L429.5,137.2 L432.1,137.2 L434.9,138.8 L438.5,139.7 L441.1,139.5 L443.6,138.3 L443.5,136.1 L440.4,133.8 L437.6,132.0 L435.7,131.1 L434.4,129.9 L435.4,128.1 L436.8,125.9 L437.6,125.4 L435.1,125.9 L431.6,127.4 L431.2,129.0 L433.7,129.7 L432.1,130.4 L429.8,131.7 L428.9,131.3 L427.0,129.5 L428.8,128.3 L427.7,127.9 L425.6,126.8 L423.9,127.0 L422.7,128.6 L422.3,129.9 L420.8,132.2 L420.2,134.0 L419.7,135.6 L419.0,136.1 L420.0,137.2 L421.1,138.6Z"/>
<path d="M451.6,128.8 L454.7,127.0 L458.7,125.9 L461.3,126.3 L462.0,129.7 L459.1,130.4 L458.9,131.5 L457.6,131.7 L459.5,134.9 L462.3,135.6 L462.9,138.1 L465.4,138.3 L463.8,139.5 L464.2,141.8 L465.4,143.4 L466.7,146.4 L466.9,148.7 L463.6,149.4 L460.8,148.7 L458.0,147.3 L457.6,145.5 L458.0,143.4 L458.0,141.3 L459.3,140.9 L457.7,139.5 L455.6,137.2 L453.5,134.9 L453.1,132.6 L451.7,131.3Z"/>
<path d="M362.8,118.9 L366.4,118.5 L367.3,117.6 L370.6,117.6 L372.7,117.3 L374.6,116.5 L373.6,115.8 L375.2,113.1 L373.0,112.5 L372.8,111.2 L372.3,110.1 L370.8,109.0 L370.3,107.0 L369.5,105.9 L368.2,105.9 L369.1,104.6 L370.0,102.7 L367.7,102.3 L366.6,102.7 L368.3,100.5 L365.6,100.3 L364.2,102.0 L364.2,104.8 L363.2,105.3 L364.1,107.0 L365.3,106.6 L364.8,108.5 L367.2,108.3 L367.8,110.3 L367.7,111.6 L365.3,111.8 L365.6,113.6 L363.9,114.9 L365.5,115.6 L367.4,116.0 L364.9,116.9 L363.6,118.5Z"/>
<path d="M356.0,115.6 L358.5,115.6 L362.2,114.2 L362.9,111.8 L363.9,109.2 L362.8,107.7 L360.9,107.4 L359.1,109.2 L356.7,109.8 L356.8,111.8 L357.4,113.4 L355.6,114.5Z"/>
<path d="M339.0,86.0 L342.3,84.2 L344.9,85.6 L348.0,84.6 L351.7,84.0 L353.5,85.4 L354.7,87.0 L352.2,88.4 L347.5,90.3 L343.9,90.1 L340.8,89.5 L342.1,88.0 L339.4,87.2Z"/>
<path d="M389.9,61.2 L393.5,59.6 L398.2,59.3 L402.8,58.8 L408.8,59.1 L405.6,60.9 L402.1,61.7 L402.9,63.4 L398.7,64.9 L394.9,64.2 L393.0,62.5Z"/>
<path d="M442.7,79.0 L442.1,77.1 L445.4,74.8 L447.1,72.4 L449.0,70.5 L450.7,70.0 L451.1,72.4 L449.6,75.2 L453.3,76.0 L450.6,76.2 L446.9,75.4 L445.4,76.7Z"/>
<path d="M447.7,70.5 L447.5,68.7 L449.8,66.9 L454.2,65.6 L458.5,64.4 L462.3,64.6 L460.7,66.0 L455.1,67.3 L452.2,69.1 L450.7,70.0Z"/>
<path d="M491.9,60.5 L494.1,59.3 L499.7,60.1 L504.0,61.7 L499.7,62.2 L495.4,61.5Z"/>
<path d="M485.8,59.3 L488.5,57.4 L492.0,58.5 L489.7,59.6Z"/>
<path d="M550.9,67.3 L554.2,66.0 L561.9,66.9 L567.8,67.4 L566.5,68.3 L558.5,68.2 L554.3,68.3Z"/>
<path d="M616.7,75.2 L617.3,74.3 L619.3,75.6Z"/>
<path d="M600.0,109.6 L603.3,111.8 L606.8,115.8 L610.3,120.2 L612.7,121.4 L610.5,121.8 L612.7,125.9 L614.6,127.0 L613.1,128.1 L610.7,124.7 L608.5,121.4 L605.1,116.9 L601.8,112.5Z"/>
<path d="M613.1,129.5 L617.6,132.0 L620.9,132.2 L622.4,134.2 L620.0,135.2 L620.1,137.2 L617.0,135.8 L615.7,136.1 L615.7,138.3 L614.0,136.1 L613.8,134.2 L615.3,133.8Z"/>
<path d="M616.8,138.3 L619.0,140.6 L621.1,142.9 L621.6,145.7 L621.3,147.1 L622.2,149.8 L622.6,152.8 L621.7,152.8 L620.6,152.8 L620.4,154.0 L619.3,154.0 L617.7,154.2 L617.1,154.9 L616.4,156.7 L615.1,156.7 L614.2,154.9 L612.6,154.0 L610.3,154.9 L608.8,155.8 L606.9,155.6 L606.4,154.2 L608.4,152.4 L610.9,151.9 L613.6,151.9 L614.3,150.5 L614.7,148.9 L614.9,147.5 L615.7,149.1 L617.2,147.8 L617.8,145.2 L617.6,142.9 L616.4,140.6 L615.9,139.0Z"/>
<path d="M607.0,155.8 L609.2,157.9 L609.5,160.2 L609.1,161.8 L607.7,162.0 L607.0,159.7 L605.8,158.3 L605.2,157.2 L606.1,155.8Z"/>
<path d="M609.4,155.8 L611.2,154.9 L613.4,155.1 L613.1,156.7 L611.4,157.9 L610.6,158.3Z"/>
<path d="M595.3,175.6 L596.4,176.3 L596.1,179.8 L595.4,183.5 L593.9,181.4 L593.5,179.1 L594.5,176.3Z"/>
<path d="M573.7,189.5 L574.9,187.9 L577.1,187.6 L577.9,188.8 L577.2,190.9 L575.5,192.0 L573.9,191.1Z"/>
<path d="M393.0,146.4 L394.9,145.9 L398.6,145.7 L398.0,148.2 L397.6,149.4 L395.8,148.7 L393.1,147.3Z"/>
<path d="M385.6,139.7 L387.3,139.0 L388.2,140.6 L388.0,143.6 L386.9,144.1 L385.9,143.6 L386.1,141.3Z"/>
<path d="M386.3,136.3 L387.7,134.9 L387.8,137.2 L387.3,138.6 L386.4,137.9Z"/>
<path d="M412.9,152.6 L414.7,152.1 L417.9,152.6 L417.4,153.3 L414.8,153.5 L412.9,152.8Z"/>
<path d="M428.8,153.3 L429.9,152.4 L432.8,151.7 L431.6,153.3 L430.1,154.2 L429.0,154.0Z"/>
<path d="M551.0,221.1 L555.2,222.0 L557.6,225.2 L560.7,228.2 L563.0,230.1 L565.9,232.2 L567.2,234.7 L568.7,237.5 L571.5,240.5 L571.5,241.6 L571.0,244.4 L570.9,247.4 L568.6,247.4 L567.6,245.5 L564.4,243.2 L562.0,239.8 L560.8,236.3 L558.3,233.3 L557.7,230.1 L555.4,228.2 L553.4,225.5 L551.4,222.9Z"/>
<path d="M569.7,249.7 L571.3,247.6 L572.8,248.1 L576.0,249.2 L579.7,249.9 L580.7,249.0 L583.9,250.1 L587.1,251.8 L587.1,254.1 L584.3,253.4 L580.5,252.9 L576.8,251.8 L574.0,251.8 L571.9,250.8Z"/>
<path d="M577.3,230.5 L578.4,229.4 L581.1,230.5 L581.7,228.2 L584.8,226.6 L586.6,223.6 L589.4,221.3 L591.5,218.1 L593.5,219.5 L595.1,221.3 L596.5,222.0 L594.7,223.9 L593.7,224.8 L594.0,227.1 L594.4,229.4 L596.4,231.7 L594.1,232.2 L593.5,235.2 L591.8,237.5 L591.2,240.5 L590.5,242.8 L588.0,243.5 L587.7,241.8 L584.8,241.4 L582.4,241.6 L579.5,240.7 L579.2,237.5 L577.7,235.2 L577.3,232.8Z"/>
<path d="M597.9,232.2 L599.8,231.0 L603.1,231.7 L605.9,231.7 L608.2,230.3 L606.9,232.8 L604.0,232.8 L601.2,232.8 L599.3,232.8 L598.3,235.8 L601.2,236.1 L604.6,236.1 L604.8,236.3 L602.1,237.9 L601.1,238.6 L602.3,242.1 L603.8,243.7 L602.7,246.5 L601.5,245.1 L601.0,243.2 L599.9,242.1 L598.8,244.4 L598.7,246.7 L597.0,246.7 L597.2,243.2 L595.9,240.5 L596.9,237.5 L597.9,234.5Z"/>
<path d="M619.3,235.8 L622.1,234.9 L625.0,235.8 L625.3,238.6 L626.7,241.6 L628.7,239.3 L631.6,237.7 L634.5,238.6 L638.2,240.0 L642.0,241.6 L644.8,242.8 L647.1,246.0 L649.3,247.8 L650.7,249.5 L649.1,250.1 L650.8,253.6 L653.4,255.9 L655.7,257.8 L653.2,257.8 L650.1,257.1 L648.7,255.7 L647.0,252.9 L644.3,251.5 L642.2,253.1 L641.2,255.0 L637.4,255.0 L634.7,252.7 L631.8,253.1 L632.0,250.6 L633.6,249.7 L632.2,246.7 L628.5,244.6 L625.7,243.2 L622.9,243.2 L622.5,241.6 L621.1,240.5 L623.9,239.5 L621.1,238.6 L619.1,237.2Z"/>
<path d="M596.2,191.3 L599.2,191.3 L599.9,194.8 L599.0,197.6 L599.6,201.0 L602.2,201.9 L604.3,204.0 L604.4,205.2 L602.4,203.6 L600.0,202.4 L598.0,202.2 L597.5,200.6 L596.1,198.3 L595.5,196.4 L596.2,193.6Z"/>
<path d="M601.6,217.9 L602.4,215.5 L604.2,214.2 L606.1,214.4 L607.8,211.6 L609.6,214.4 L610.1,217.9 L609.3,219.5 L608.4,220.6 L607.7,219.0 L605.9,219.5 L605.4,217.2 L603.8,216.7Z"/>
<path d="M605.0,205.2 L607.3,205.6 L608.0,208.6 L606.8,210.5 L605.7,208.6Z"/>
<path d="M600.8,206.8 L602.7,207.5 L603.9,209.8 L603.6,212.8 L602.1,211.4 L601.0,209.8Z"/>
<path d="M592.3,214.4 L596.2,207.9 L595.9,209.8 L592.9,214.9Z"/>
<path d="M597.4,203.1 L599.3,203.3 L599.2,205.6Z"/>
<path d="M603.9,257.8 L607.0,255.0 L611.3,253.4 L608.9,255.4 L605.9,257.3Z"/>
<path d="M587.2,252.7 L589.4,253.4 L588.4,254.3Z"/>
<path d="M590.0,253.1 L591.3,253.4 L590.7,254.5Z"/>
<path d="M591.5,253.4 L595.7,253.1 L595.6,254.3 L591.8,254.8Z"/>
<path d="M597.4,253.4 L602.9,252.9 L602.9,254.3 L597.5,254.3Z"/>
<path d="M595.5,255.9 L598.9,256.8 L597.3,257.5Z"/>
<path d="M612.6,231.7 L613.5,228.9 L614.9,231.2 L614.5,233.3 L613.5,235.8 L613.0,234.0Z"/>
<path d="M613.4,240.9 L617.2,240.7 L618.7,242.1 L615.3,242.1Z"/>
<path d="M609.6,241.4 L611.9,241.6 L611.1,242.8Z"/>
<path d="M652.2,246.9 L656.0,246.7 L659.4,243.7 L659.3,245.5 L656.9,247.8 L654.0,248.5Z"/>
<path d="M656.9,240.0 L660.0,242.1 L660.9,244.6 L659.6,243.2Z"/>
<path d="M676.8,280.6 L680.9,283.6 L681.3,285.7 L678.8,284.3Z"/>
<path d="M77.9,188.3 L79.0,187.4 L79.8,189.0 L78.2,190.2Z"/>
<path d="M639.9,258.7 L641.3,262.8 L641.3,267.0 L643.9,268.6 L644.5,273.2 L644.4,277.1 L646.6,279.0 L648.4,280.8 L648.9,284.7 L650.7,287.5 L652.3,290.5 L653.9,292.8 L652.5,297.0 L652.5,300.0 L649.9,304.3 L647.4,308.5 L643.7,312.0 L640.0,316.3 L637.7,320.0 L637.1,320.7 L633.5,321.4 L629.3,324.2 L627.6,322.5 L627.0,322.3 L624.5,323.5 L621.6,322.3 L620.0,321.4 L619.9,318.9 L620.4,316.6 L619.0,316.1 L619.7,314.3 L620.0,311.3 L620.4,309.2 L618.0,311.7 L615.2,314.3 L614.4,313.1 L613.6,310.1 L612.9,308.3 L609.3,306.7 L605.2,307.1 L599.3,308.5 L595.1,310.1 L593.5,312.2 L587.1,312.4 L582.7,314.7 L579.2,314.5 L578.0,313.1 L578.6,311.3 L579.8,310.8 L580.8,307.8 L580.8,304.3 L581.1,301.3 L580.6,297.9 L580.1,294.4 L580.6,291.7 L581.6,288.2 L581.9,285.9 L583.1,284.3 L584.7,283.6 L588.2,281.5 L591.9,280.8 L594.6,279.9 L597.7,277.8 L599.4,275.5 L599.9,273.2 L602.1,273.9 L602.5,272.1 L604.5,270.4 L606.1,267.9 L608.8,266.3 L611.1,267.0 L611.7,268.6 L613.2,268.4 L614.7,265.8 L616.3,263.5 L617.3,262.6 L619.6,262.1 L621.0,260.3 L622.6,261.2 L625.3,261.9 L628.2,261.7 L628.9,262.6 L627.8,265.1 L626.6,267.4 L625.3,268.6 L627.0,270.9 L629.5,272.7 L632.1,274.4 L634.5,274.4 L636.2,270.9 L637.1,267.4 L637.6,264.0 L638.7,260.5Z"/>
<path d="M624.4,327.8 L627.0,328.7 L630.4,328.1 L629.0,330.8 L626.7,333.5 L624.3,334.4 L623.0,334.2 L623.1,331.9 L623.8,329.9Z"/>
<path d="M681.7,313.3 L682.9,315.4 L682.5,318.9 L684.4,318.6 L683.6,320.7 L685.9,321.4 L687.9,320.9 L685.5,323.5 L683.0,324.6 L682.0,326.2 L679.1,328.5 L676.4,329.9 L676.2,329.2 L678.0,327.1 L678.2,325.8 L677.4,324.6 L679.6,323.2 L681.4,320.5 L681.9,317.9 L681.6,315.2Z"/>
<path d="M673.7,327.4 L673.5,329.0 L674.7,330.1 L672.7,331.7 L669.2,334.2 L669.0,334.9 L665.1,336.3 L663.0,338.5 L661.5,339.7 L658.4,341.2 L656.4,341.2 L654.4,340.3 L655.0,339.0 L659.0,336.5 L661.7,335.1 L666.0,333.1 L668.7,331.3 L671.7,328.5Z"/>
<path d="M216.3,126.5 L220.9,124.1 L224.2,122.3 L226.9,123.6 L228.7,126.1 L227.9,127.0 L224.6,127.0 L222.5,125.9 L218.7,126.8Z"/>
<path d="M218.8,137.2 L219.9,137.9 L221.8,136.1 L223.3,132.6 L225.6,130.4 L227.2,128.6 L225.6,128.3 L223.5,129.2 L221.2,131.5 L219.7,134.9Z"/>
<path d="M228.3,128.1 L231.0,127.7 L233.4,128.1 L235.5,129.2 L234.6,131.3 L232.6,130.8 L230.7,133.8 L229.0,134.9 L229.4,133.1 L228.1,132.6 L229.4,130.4 L228.2,129.0Z"/>
<path d="M226.1,137.9 L228.3,138.6 L231.4,137.4 L234.7,135.6 L234.1,134.9 L231.3,135.4 L228.2,136.5Z"/>
<path d="M233.7,134.5 L236.9,134.2 L239.6,134.0 L240.6,132.2 L238.5,132.4 L235.4,132.9Z"/>
<path d="M214.3,110.7 L216.1,110.5 L215.1,114.7 L213.2,118.0 L212.2,118.2 L213.2,115.1Z"/>
<path d="M210.3,112.0 L211.6,112.0 L210.5,116.9 L210.1,118.2 L209.1,118.0 L210.0,115.1Z"/>
<path d="M198.4,94.8 L201.9,93.4 L207.5,92.1 L209.7,92.1 L206.8,93.0 L202.5,94.4Z"/>
<path d="M196.0,86.4 L199.3,84.6 L203.0,83.8 L204.5,84.4 L201.7,85.8 L198.4,86.2Z"/>
<path d="M430.1,233.3 L434.1,233.3 L435.0,235.8 L434.0,239.3 L431.6,240.5 L430.0,238.6 L429.9,235.8Z"/>
<path d="M425.3,241.8 L426.4,244.4 L427.3,249.0 L428.8,254.1 L427.8,253.8 L426.0,249.0 L425.2,245.1Z"/>
<path d="M434.2,256.1 L435.3,258.2 L435.8,262.8 L436.3,267.0 L435.3,266.8 L434.7,262.8 L434.2,259.4Z"/>
<path d="M470.8,127.0 L472.9,126.5 L475.5,127.4 L475.9,130.8 L473.8,133.1 L471.6,131.5Z"/>
<path d="M496.9,129.7 L497.2,126.5 L501.0,126.1 L505.2,126.3 L505.6,127.4 L502.4,127.9 L499.3,129.0 L498.6,130.8Z"/>
<path d="M542.2,115.8 L544.3,114.7 L546.4,112.5 L546.8,107.7 L546.6,106.4 L545.6,107.0 L545.9,110.3 L544.3,112.5 L542.5,114.2Z"/>
<path d="M419.9,97.4 L420.6,94.8 L422.5,94.4 L423.5,96.1 L422.2,97.4Z"/>
<path d="M425.6,94.8 L426.3,92.1 L427.7,92.5 L427.6,95.3Z"/>
<path d="M180.8,417.5 L187.5,406.7 L193.3,403.3 L203.3,400.8 L216.7,400.8 L230,400 L237.5,398.5 L243.3,397.5 L257.5,397.3 L266.7,396.7 L276.7,396.7 L281.2,391 L284.5,385.5 L289.3,381.7 L288,387 L287.5,391 L291.7,394 L295,398.3 L292,404 L284,405.5 L288,408 L293.3,409.3 L306.7,411.7 L313.3,413.3 L326.7,411.7 L336.7,406.7 L350,405 L363.3,396.7 L383.3,393.3 L390,392.8 L415,391 L430,387.3 L452.5,383.5 L465,382.3 L477.5,384.8 L475,391 L485,388.5 L502.5,384.8 L520,384.8 L540,384.8 L565,386 L585,389 L596.3,394.8 L588,398 L575,400 L565,404 L563,410 L570,415 L585,416 L597.5,417.3 L590,422.6 L191,422.6Z"/>
<path d="M188.3,409 L199,410 L207,414 L223,417.5 L213,418.7 L200,418.3 L191.7,414Z"/>
</g>
<g fill="none" stroke="#15151f" stroke-width="1.3" stroke-dasharray="1.8 1.1">
<path d="M112.2,108.5 L106.1,110.5 L101.5,111.8 L97.9,112.7"/>
<path d="M629.6,117.8 L629.3,120.2 L628.8,122.9 L628.5,125.4 L627.2,128.1 L625.1,129.7 L623.2,131.3 L622.2,132.4"/>
</g>
<g fill="#222">
<circle cx="71.6" cy="183.3" r="0.75"/>
<circle cx="75.1" cy="184.4" r="0.75"/>
<circle cx="76.7" cy="185.6" r="0.75"/>
<circle cx="77.9" cy="186.0" r="0.75"/>
<circle cx="69.8" cy="229.6" r="0.75"/>
<circle cx="66.4" cy="225.0" r="0.75"/>
<circle cx="64.4" cy="223.2" r="0.75"/>
<circle cx="725.1" cy="265.6" r="0.75"/>
<circle cx="727.3" cy="267.0" r="0.75"/>
<circle cx="715.7" cy="282.4" r="0.75"/>
<circle cx="718.8" cy="277.1" r="0.75"/>
<circle cx="716.0" cy="279.7" r="0.75"/>
<circle cx="704.3" cy="275.1" r="0.75"/>
<circle cx="707.3" cy="272.3" r="0.75"/>
<circle cx="704.9" cy="276.7" r="0.75"/>
<circle cx="684.7" cy="269.7" r="0.75"/>
<circle cx="686.1" cy="274.8" r="0.75"/>
<circle cx="687.5" cy="279.0" r="0.75"/>
<circle cx="684.4" cy="267.0" r="0.75"/>
<circle cx="667.2" cy="250.1" r="0.75"/>
<circle cx="668.9" cy="252.5" r="0.75"/>
<circle cx="671.6" cy="253.6" r="0.75"/>
<circle cx="673.3" cy="255.9" r="0.75"/>
<circle cx="676.0" cy="257.8" r="0.75"/>
<circle cx="664.5" cy="247.8" r="0.75"/>
<circle cx="665.3" cy="249.2" r="0.75"/>
<circle cx="675.1" cy="253.4" r="0.75"/>
<circle cx="89.0" cy="274.6" r="0.75"/>
<circle cx="84.8" cy="272.5" r="0.75"/>
<circle cx="92.5" cy="268.6" r="0.75"/>
<circle cx="96.7" cy="270.9" r="0.75"/>
<circle cx="100.9" cy="273.2" r="0.75"/>
<circle cx="105.1" cy="275.5" r="0.75"/>
<circle cx="107.5" cy="277.8" r="0.75"/>
<circle cx="112.2" cy="282.4" r="0.75"/>
<circle cx="94.2" cy="267.4" r="0.75"/>
<circle cx="98.4" cy="269.7" r="0.75"/>
<circle cx="102.6" cy="272.1" r="0.75"/>
<circle cx="116.4" cy="284.7" r="0.75"/>
<circle cx="104.0" cy="254.8" r="0.75"/>
<circle cx="106.1" cy="257.1" r="0.75"/>
<circle cx="71.6" cy="282.9" r="0.75"/>
<circle cx="74.5" cy="280.1" r="0.75"/>
<circle cx="118.8" cy="287.3" r="0.75"/>
<circle cx="196.2" cy="235.2" r="0.75"/>
<circle cx="197.6" cy="235.6" r="0.75"/>
<circle cx="199.1" cy="236.1" r="0.75"/>
<circle cx="195.5" cy="234.0" r="0.75"/>
<circle cx="688.8" cy="215.5" r="0.75"/>
<circle cx="694.7" cy="217.9" r="0.75"/>
<circle cx="691.0" cy="208.6" r="0.75"/>
<circle cx="686.7" cy="213.2" r="0.75"/>
<circle cx="696.8" cy="220.2" r="0.75"/>
<circle cx="670.4" cy="218.1" r="0.75"/>
<circle cx="658.2" cy="216.9" r="0.75"/>
<circle cx="631.6" cy="212.1" r="0.75"/>
<circle cx="625.3" cy="216.7" r="0.75"/>
<circle cx="643.5" cy="202.9" r="0.75"/>
<circle cx="644.6" cy="198.9" r="0.75"/>
<circle cx="643.7" cy="192.5" r="0.75"/>
<circle cx="679.8" cy="221.8" r="0.75"/>
<circle cx="709.6" cy="253.6" r="0.75"/>
<circle cx="687.9" cy="235.2" r="0.75"/>
<circle cx="699.3" cy="230.8" r="0.75"/>
<circle cx="702.1" cy="236.3" r="0.75"/>
<circle cx="704.9" cy="239.8" r="0.75"/>
<circle cx="726.9" cy="255.2" r="0.75"/>
<circle cx="717.3" cy="264.7" r="0.75"/>
<circle cx="713.5" cy="267.0" r="0.75"/>
<circle cx="321.5" cy="145.2" r="0.75"/>
<circle cx="323.0" cy="144.8" r="0.75"/>
<circle cx="325.7" cy="146.8" r="0.75"/>
<circle cx="316.2" cy="142.9" r="0.75"/>
<circle cx="339.8" cy="158.6" r="0.75"/>
<circle cx="337.5" cy="167.8" r="0.75"/>
<circle cx="339.8" cy="168.7" r="0.75"/>
<circle cx="341.6" cy="169.4" r="0.75"/>
<circle cx="344.6" cy="168.5" r="0.75"/>
<circle cx="345.4" cy="167.1" r="0.75"/>
<circle cx="324.1" cy="195.9" r="0.75"/>
<circle cx="325.3" cy="199.2" r="0.75"/>
<circle cx="326.8" cy="195.5" r="0.75"/>
<circle cx="322.9" cy="194.8" r="0.75"/>
<circle cx="323.8" cy="199.6" r="0.75"/>
<circle cx="252.9" cy="159.5" r="0.75"/>
<circle cx="226.2" cy="172.7" r="0.75"/>
<circle cx="226.7" cy="176.3" r="0.75"/>
<circle cx="229.1" cy="177.5" r="0.75"/>
<circle cx="229.7" cy="179.3" r="0.75"/>
<circle cx="231.3" cy="181.6" r="0.75"/>
<circle cx="232.7" cy="185.6" r="0.75"/>
<circle cx="225.7" cy="178.0" r="0.75"/>
<circle cx="224.7" cy="177.0" r="0.75"/>
<circle cx="234.0" cy="182.3" r="0.75"/>
<circle cx="235.7" cy="183.7" r="0.75"/>
<circle cx="227.6" cy="173.1" r="0.75"/>
<circle cx="254.0" cy="196.6" r="0.75"/>
<circle cx="254.3" cy="198.5" r="0.75"/>
<circle cx="254.7" cy="200.3" r="0.75"/>
<circle cx="254.6" cy="201.9" r="0.75"/>
<circle cx="254.1" cy="203.6" r="0.75"/>
<circle cx="253.0" cy="206.1" r="0.75"/>
<circle cx="257.1" cy="203.6" r="0.75"/>
<circle cx="251.8" cy="194.1" r="0.75"/>
<circle cx="253.7" cy="194.6" r="0.75"/>
<circle cx="251.6" cy="192.3" r="0.75"/>
<circle cx="248.5" cy="191.8" r="0.75"/>
<circle cx="248.2" cy="193.2" r="0.75"/>
<circle cx="239.2" cy="205.9" r="0.75"/>
<circle cx="237.3" cy="205.2" r="0.75"/>
<circle cx="240.5" cy="205.9" r="0.75"/>
<circle cx="217.6" cy="189.5" r="0.75"/>
<circle cx="382.2" cy="233.3" r="0.75"/>
<circle cx="386.2" cy="225.9" r="0.75"/>
<circle cx="383.7" cy="230.3" r="0.75"/>
<circle cx="359.1" cy="270.9" r="0.75"/>
<circle cx="342.3" cy="252.2" r="0.75"/>
<circle cx="313.9" cy="358.6" r="0.75"/>
<circle cx="315.3" cy="359.0" r="0.75"/>
<circle cx="349.0" cy="319.6" r="0.75"/>
<circle cx="353.8" cy="326.9" r="0.75"/>
<circle cx="451.8" cy="261.0" r="0.75"/>
<circle cx="453.8" cy="262.1" r="0.75"/>
<circle cx="455.3" cy="263.5" r="0.75"/>
<circle cx="475.3" cy="244.8" r="0.75"/>
<circle cx="477.6" cy="280.8" r="0.75"/>
<circle cx="473.7" cy="282.7" r="0.75"/>
<circle cx="509.6" cy="224.8" r="0.75"/>
<circle cx="509.1" cy="229.4" r="0.75"/>
<circle cx="508.9" cy="234.0" r="0.75"/>
<circle cx="508.5" cy="219.0" r="0.75"/>
<circle cx="507.7" cy="208.6" r="0.75"/>
<circle cx="471.0" cy="205.2" r="0.75"/>
<circle cx="472.3" cy="204.9" r="0.75"/>
<circle cx="545.2" cy="203.3" r="0.75"/>
<circle cx="545.3" cy="206.3" r="0.75"/>
<circle cx="545.2" cy="208.6" r="0.75"/>
<circle cx="546.3" cy="214.4" r="0.75"/>
<circle cx="548.0" cy="217.9" r="0.75"/>
<circle cx="487.6" cy="347.3" r="0.75"/>
<circle cx="488.2" cy="348.0" r="0.75"/>
<circle cx="491.4" cy="355.5" r="0.75"/>
<circle cx="629.6" cy="118.5" r="0.75"/>
<circle cx="628.8" cy="121.8" r="0.75"/>
<circle cx="628.6" cy="125.2" r="0.75"/>
<circle cx="627.2" cy="128.1" r="0.75"/>
<circle cx="624.9" cy="129.9" r="0.75"/>
<circle cx="623.4" cy="131.5" r="0.75"/>
<circle cx="622.3" cy="132.6" r="0.75"/>
<circle cx="105.9" cy="110.7" r="0.75"/>
<circle cx="101.5" cy="111.8" r="0.75"/>
<circle cx="97.1" cy="112.9" r="0.75"/>
<circle cx="677.3" cy="114.0" r="0.75"/>
<circle cx="674.5" cy="114.5" r="0.75"/>
<circle cx="671.9" cy="115.1" r="0.75"/>
<circle cx="669.1" cy="115.6" r="0.75"/>
<circle cx="665.2" cy="115.8" r="0.75"/>
<circle cx="661.7" cy="114.7" r="0.75"/>
<circle cx="652.7" cy="112.9" r="0.75"/>
<circle cx="636.9" cy="108.1" r="0.75"/>
<circle cx="118.2" cy="108.1" r="0.75"/>
<circle cx="121.6" cy="97.4" r="0.75"/>
<circle cx="124.0" cy="90.1" r="0.75"/>
<circle cx="669.3" cy="103.3" r="0.75"/>
<circle cx="608.4" cy="168.7" r="0.75"/>
<circle cx="606.7" cy="172.7" r="0.75"/>
<circle cx="606.3" cy="173.6" r="0.75"/>
<circle cx="602.6" cy="176.8" r="0.75"/>
<circle cx="600.7" cy="177.7" r="0.75"/>
<circle cx="608.9" cy="163.9" r="0.75"/>
<circle cx="609.5" cy="163.2" r="0.75"/>
<circle cx="376.4" cy="142.7" r="0.75"/>
<circle cx="373.5" cy="144.1" r="0.75"/>
<circle cx="378.2" cy="141.8" r="0.75"/>
<circle cx="396.6" cy="151.2" r="0.75"/>
<circle cx="416.0" cy="149.1" r="0.75"/>
<circle cx="417.0" cy="145.5" r="0.75"/>
<circle cx="417.8" cy="143.6" r="0.75"/>
<circle cx="420.9" cy="150.5" r="0.75"/>
<circle cx="419.5" cy="151.9" r="0.75"/>
<circle cx="363.9" cy="75.2" r="0.75"/>
<circle cx="400.3" cy="68.9" r="0.75"/>
<circle cx="433.3" cy="58.5" r="0.75"/>
<circle cx="437.8" cy="58.0" r="0.75"/>
<circle cx="441.7" cy="58.8" r="0.75"/>
<circle cx="444.6" cy="57.7" r="0.75"/>
<circle cx="448.3" cy="58.0" r="0.75"/>
<circle cx="436.1" cy="59.3" r="0.75"/>
<circle cx="430.9" cy="58.3" r="0.75"/>
<circle cx="450.5" cy="57.9" r="0.75"/>
<circle cx="363.3" cy="93.2" r="0.75"/>
<circle cx="371.6" cy="96.7" r="0.75"/>
<circle cx="368.7" cy="99.5" r="0.75"/>
<circle cx="362.3" cy="102.0" r="0.75"/>
<circle cx="363.5" cy="101.0" r="0.75"/>
<circle cx="401.9" cy="102.7" r="0.75"/>
<circle cx="399.2" cy="104.4" r="0.75"/>
<circle cx="408.0" cy="100.8" r="0.75"/>
<circle cx="408.2" cy="99.7" r="0.75"/>
<circle cx="391.6" cy="107.0" r="0.75"/>
<circle cx="389.3" cy="107.4" r="0.75"/>
<circle cx="391.1" cy="108.5" r="0.75"/>
<circle cx="396.5" cy="107.9" r="0.75"/>
<circle cx="403.9" cy="96.9" r="0.75"/>
<circle cx="285.7" cy="374.8" r="0.75"/>
<circle cx="284.1" cy="376.1" r="0.75"/>
<circle cx="304.7" cy="371.9" r="0.75"/>
<circle cx="287.1" cy="374.6" r="0.75"/>
<circle cx="331.3" cy="366.4" r="0.75"/>
<circle cx="444.4" cy="248.1" r="0.75"/>
<circle cx="445.4" cy="246.0" r="0.75"/>
<circle cx="445.3" cy="252.2" r="0.75"/>
<circle cx="616.4" cy="316.6" r="0.75"/>
<circle cx="617.7" cy="260.5" r="0.75"/>
<circle cx="627.8" cy="266.3" r="0.75"/>
<circle cx="632.4" cy="272.3" r="0.75"/>
<circle cx="654.1" cy="292.1" r="0.75"/>
<circle cx="631.1" cy="326.2" r="0.75"/>
<circle cx="686.8" cy="335.4" r="0.75"/>
<circle cx="655.1" cy="342.1" r="0.75"/>
<circle cx="678.6" cy="300.9" r="0.75"/>
<circle cx="659.9" cy="306.7" r="0.75"/>
<circle cx="645.4" cy="350.4" r="0.75"/>
<circle cx="646.8" cy="354.4" r="0.75"/>
<circle cx="626.6" cy="359.0" r="0.75"/>
<circle cx="168.4" cy="296.5" r="0.75"/>
<circle cx="226.1" cy="311.5" r="0.75"/>
<circle cx="228.2" cy="311.7" r="0.75"/>
<circle cx="222.2" cy="294.7" r="0.75"/>
<circle cx="249.8" cy="348.9" r="0.75"/>
<circle cx="246.2" cy="344.4" r="0.75"/>
<circle cx="245.3" cy="339.9" r="0.75"/>
<circle cx="243.6" cy="333.1" r="0.75"/>
<circle cx="250.2" cy="353.3" r="0.75"/>
<circle cx="163.7" cy="190.2" r="0.75"/>
<circle cx="161.8" cy="190.6" r="0.75"/>
<circle cx="171.2" cy="184.4" r="0.75"/>
<circle cx="153.3" cy="167.1" r="0.75"/>
<circle cx="158.4" cy="169.0" r="0.75"/>
<circle cx="592.4" cy="179.8" r="0.75"/>
<circle cx="592.0" cy="173.3" r="0.75"/>
<circle cx="593.8" cy="164.3" r="0.75"/>
<circle cx="597.4" cy="183.5" r="0.75"/>
<circle cx="603.4" cy="204.0" r="0.75"/>
<circle cx="600.6" cy="205.2" r="0.75"/>
<circle cx="597.3" cy="206.3" r="0.75"/>
<circle cx="604.6" cy="211.4" r="0.75"/>
<circle cx="605.9" cy="210.9" r="0.75"/>
<circle cx="609.9" cy="211.2" r="0.75"/>
<circle cx="604.7" cy="208.6" r="0.75"/>
<circle cx="598.0" cy="186.7" r="0.75"/>
<circle cx="598.4" cy="189.7" r="0.75"/>
<circle cx="613.2" cy="241.6" r="0.75"/>
<circle cx="613.8" cy="242.5" r="0.75"/>
<circle cx="625.5" cy="247.8" r="0.75"/>
<circle cx="625.0" cy="249.0" r="0.75"/>
<circle cx="619.6" cy="251.5" r="0.75"/>
<circle cx="616.7" cy="252.2" r="0.75"/>
<circle cx="616.9" cy="238.2" r="0.75"/>
<circle cx="612.4" cy="237.5" r="0.75"/>
<circle cx="607.8" cy="238.2" r="0.75"/>
<circle cx="609.7" cy="229.4" r="0.75"/>
<circle cx="611.1" cy="224.8" r="0.75"/>
<circle cx="608.6" cy="225.9" r="0.75"/>
<circle cx="590.0" cy="254.1" r="0.75"/>
<circle cx="593.7" cy="252.7" r="0.75"/>
<circle cx="603.3" cy="253.4" r="0.75"/>
<circle cx="606.2" cy="253.1" r="0.75"/>
<circle cx="568.8" cy="231.7" r="0.75"/>
<circle cx="567.8" cy="232.2" r="0.75"/>
<circle cx="571.6" cy="238.6" r="0.75"/>
<circle cx="575.3" cy="240.9" r="0.75"/>
<circle cx="558.3" cy="237.9" r="0.75"/>
<circle cx="557.3" cy="235.2" r="0.75"/>
<circle cx="555.4" cy="231.7" r="0.75"/>
<circle cx="552.5" cy="227.8" r="0.75"/>
<circle cx="560.7" cy="240.9" r="0.75"/>
<circle cx="649.5" cy="238.6" r="0.75"/>
<circle cx="654.3" cy="256.4" r="0.75"/>
<circle cx="656.1" cy="257.1" r="0.75"/>
<circle cx="658.8" cy="258.7" r="0.75"/>
<circle cx="660.5" cy="260.3" r="0.75"/>
<circle cx="661.5" cy="260.5" r="0.75"/>
<circle cx="649.3" cy="246.7" r="0.75"/>
<circle cx="199.1" cy="236.3" r="0.75"/>
<circle cx="708.7" cy="272.1" r="0.75"/>
<circle cx="710.3" cy="273.2" r="0.75"/>
</g>
</g>
</g>
<path d="M192.5,52.3H585 M190.5,422.4H587" stroke="#3a3a3a" stroke-width="0.9"/>
</svg>
<div id="src">Data Sources: Ancedotal Evidence,<br>Vacation Trips, /int/ Posts, Hotness<br>of First Lady, US Census, World<br>Bank, United Nations, Office of<br>Data and Statistics of the Russian<br>Federation, and ESPN.</div>
<div class="sw" style="left:14px;top:445px;background:#9e0142"></div><div class="lg" style="left:38.5px;top:444.5px">Revolting</div>
<div class="sw" style="left:82px;top:445px;background:#d53e4f"></div><div class="lg" style="left:106px;top:444.5px">Horrendous</div>
<div class="sw" style="left:157px;top:444.5px;background:#f46d43"></div><div class="lg" style="left:183px;top:444.0px">Horrible</div>
<div class="sw" style="left:229.5px;top:444.5px;background:#fdae61"></div><div class="lg" style="left:255.5px;top:444.0px">Fairly Bad</div>
<div class="sw" style="left:302.5px;top:444.5px;background:#fee08b"></div><div class="lg" style="left:329.5px;top:444.0px">Not good</div>
<div class="sw" style="left:373.5px;top:444.5px;background:#ffffbf"></div><div class="lg" style="left:399.5px;top:444.0px">Meh</div>
<div class="sw" style="left:422.5px;top:444px;background:#e6f598"></div><div class="lg" style="left:448px;top:443.5px">Decent</div>
<div class="sw" style="left:479.5px;top:443.5px;background:#abdda4"></div><div class="lg" style="left:504.5px;top:443.0px">Nice</div>
<div class="sw" style="left:526.5px;top:442.5px;background:#66c2a5"></div><div class="lg" style="left:551.5px;top:442.0px">Attractive</div>
<div class="sw" style="left:595px;top:442.5px;background:#3288bd"></div><div class="lg" style="left:620px;top:442.0px">Beautiful</div>
<div class="sw" style="left:661.5px;top:441.5px;background:#5e4fa2"></div><div class="lg" style="left:687px;top:441.0px">Absolute Perfection</div>
<div class="sw" style="left:373.5px;top:463.5px;background:#d9d9d9"></div><div class="lg" style="left:400px;top:463.0px">No Data</div>
</body></html>
